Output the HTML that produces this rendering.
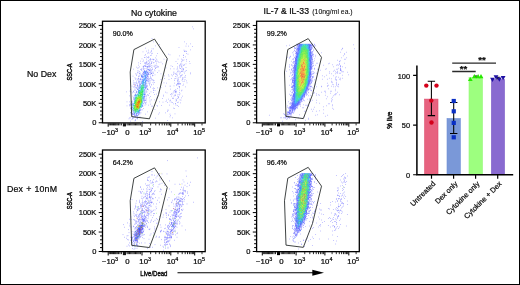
<!DOCTYPE html>
<html><head><meta charset="utf-8"><title>Figure</title>
<style>html,body{margin:0;padding:0;background:#fff}svg{display:block}</style></head>
<body>
<svg width="520" height="285" viewBox="0 0 520 285" font-family='"Liberation Sans", Arial, Helvetica, sans-serif' fill="#0a0a0a"><style>text{stroke:#0a0a0a;stroke-width:.22px}</style>
<rect x="0" y="0" width="520" height="285" fill="#fff"/>
<g>
<g fill="none" stroke-width="0.52"><path d="M193.41 28.8333h0.52M151.74 38.5h0.52M153.07 41.8333h0.52M186.41 43.8333h0.52M159.41 44.5h0.52M155.41 45.8333h0.52M185.74 46.1667h0.52M188.41 46.1667h0.52M192.41 46.5h0.52M178.74 47.5h0.52M159.74 47.8333h0.52M145.41 48.1667h0.52M151.74 48.8333h0.52M190.07 49.8333h0.52M148.07 50.1667h0.52M146.41 51.1667h0.52M157.07 53.5h0.52M186.07 53.5h0.52M168.41 54.1667h0.52M187.74 54.1667h0.52M145.41 54.5h0.52M151.41 55.1667h0.52M156.07 55.8333h0.52M179.07 55.8333h0.52M185.41 56.8333h0.52M183.41 57.5h0.52M155.41 57.8333h0.52M177.74 59.1667h0.52M186.41 59.5h0.52M143.41 60.1667h0.52M167.41 60.1667h0.52M142.74 61.5h0.52M175.74 61.5h0.52M160.74 62.1667h0.52M158.74 62.5h0.52M140.07 63.5h0.52M177.41 63.5h0.52M172.07 66.5h0.52M136.07 67.1667h0.52M185.74 67.5h0.52M165.74 67.8333h0.52M170.41 68.8333h0.52M173.74 68.8333h0.52M133.07 69.1667h0.52M158.74 70.8333h0.52M185.41 71.1667h0.52M157.41 72.5h0.52M190.41 72.8333h0.52M184.41 73.1667h0.52M160.74 73.8333h0.52M164.41 75.8333h0.52M132.74 76.1667h0.52M168.74 76.1667h0.52M175.07 76.5h0.52M134.74 77.8333h0.52M164.07 78.5h0.52M171.07 78.5h0.52M160.74 79.5h0.52M168.74 79.5h0.52M133.41 80.8333h0.52M186.41 80.8333h0.52M182.74 81.5h0.52M152.74 82.5h0.52M186.74 82.8333h0.52M166.41 83.1667h0.52M174.41 83.1667h0.52M182.74 85.5h0.52M131.74 86.1667h0.52M165.41 86.1667h0.52M170.07 89.1667h0.52M179.41 90.1667h0.52M154.74 90.5h0.52M126.07 91.8333h0.52M158.07 92.1667h0.52M165.41 92.1667h0.52M153.07 92.5h0.52M149.41 93.5h0.52M156.07 94.1667h0.52M163.07 95.1667h0.52M129.41 95.8333h0.52M157.74 95.8333h0.52M162.07 98.5h0.52M154.07 99.8333h0.52M126.74 101.833h0.52M129.41 101.833h0.52M178.41 102.167h0.52M180.07 102.833h0.52M150.41 104.167h0.52M169.07 105.167h0.52M161.07 105.5h0.52M126.74 105.833h0.52M173.07 108.167h0.52M174.41 108.5h0.52M159.07 112.833h0.52M165.41 112.833h0.52M174.74 113.833h0.52M145.41 114.167h0.52M158.07 114.167h0.52M139.74 116.833h0.52M172.41 117.833h0.52M167.07 120.5h0.52M142.07 121.5h0.52" stroke="#3232ff"/><path d="M192.07 26.8333h0.52M184.07 41.8333h0.52M190.41 43.8333h0.52M153.07 48.8333h0.52M183.74 50.1667h0.52M151.07 50.5h0.52M184.41 51.1667h0.52M151.07 51.5h0.52M142.74 51.8333h0.52M148.07 52.1667h0.52M150.41 52.1667h0.52M147.07 53.1667h0.52M148.74 53.1667h0.52M151.74 53.1667h0.52M169.74 54.8333h0.52M183.41 55.1667h0.52M144.74 55.5h0.52M150.41 55.5h0.52M183.07 55.5h0.52M146.41 56.8333h0.52M148.74 57.1667h0.52M144.07 57.5h0.52M144.74 57.5h0.52M147.07 57.5h0.52M148.41 57.8333h0.52M141.74 58.8333h0.52M146.41 59.1667h0.52M163.74 59.1667h0.52M181.41 59.1667h0.52M150.74 59.5h0.52M183.74 59.8333h0.52M156.74 60.1667h0.52M150.07 60.8333h0.52M140.07 61.1667h0.52M186.41 61.1667h0.52M148.74 61.5h0.52M157.74 61.5h0.52M189.07 61.5h0.52M151.74 61.8333h0.52M156.07 61.8333h0.52M181.07 61.8333h0.52M149.41 62.5h0.52M153.74 62.5h0.52M138.07 62.8333h0.52M153.41 62.8333h0.52M151.41 63.1667h0.52M151.07 63.5h0.52M189.74 63.5h0.52M156.07 63.8333h0.52M162.41 63.8333h0.52M185.74 63.8333h0.52M150.07 64.1667h0.52M145.74 64.8333h0.52M183.74 64.8333h0.52M184.41 64.8333h0.52M138.41 65.1667h0.52M150.74 65.5h0.52M183.41 65.5h0.52M145.07 65.8333h0.52M151.74 65.8333h0.52M156.07 65.8333h0.52M170.74 65.8333h0.52M179.41 65.8333h0.52M153.74 66.1667h0.52M181.74 66.1667h0.52M139.41 66.8333h0.52M158.07 66.8333h0.52M177.41 66.8333h0.52M179.07 67.1667h0.52M151.07 67.5h0.52M138.41 67.8333h0.52M143.07 67.8333h0.52M137.41 68.1667h0.52M152.41 68.1667h0.52M177.41 68.1667h0.52M144.74 68.5h0.52M180.07 68.5h0.52M182.74 68.8333h0.52M143.41 69.1667h0.52M176.74 69.1667h0.52M140.41 69.5h0.52M141.41 69.5h0.52M151.74 69.8333h0.52M154.07 69.8333h0.52M181.07 69.8333h0.52M177.74 70.1667h0.52M137.74 70.5h0.52M141.07 70.5h0.52M182.74 70.5h0.52M186.07 70.5h0.52M154.74 70.8333h0.52M178.74 71.1667h0.52M139.41 71.5h0.52M177.07 71.5h0.52M181.07 71.5h0.52M152.74 71.8333h0.52M183.74 71.8333h0.52M173.41 72.1667h0.85M180.07 72.1667h0.52M137.07 72.5h0.52M138.74 72.8333h0.52M176.74 72.8333h0.52M140.07 73.1667h0.52M179.74 73.1667h0.52M153.07 73.5h0.52M173.74 73.5h0.52M135.07 73.8333h0.52M136.74 73.8333h0.52M175.74 73.8333h0.52M190.41 73.8333h0.52M179.07 74.1667h0.52M173.07 74.5h0.52M154.74 74.8333h0.52M168.41 74.8333h0.52M171.41 74.8333h0.52M182.41 74.8333h0.52M136.07 75.1667h0.85M177.41 75.1667h0.52M180.07 75.5h0.52M185.07 75.5h0.52M138.07 76.5h0.52M150.07 76.8333h0.52M150.07 77.1667h0.52M179.74 77.1667h0.52M184.07 77.1667h0.52M185.41 77.1667h0.52M178.07 77.8333h0.52M149.41 78.5h0.52M175.07 78.5h0.52M174.41 78.8333h0.52M135.41 79.1667h0.52M184.74 79.5h0.52M152.07 79.8333h0.52M178.41 79.8333h0.52M150.74 80.1667h0.52M181.74 80.1667h0.52M153.74 80.5h0.52M174.41 80.5h0.52M177.07 80.8333h0.52M136.07 81.1667h0.52M139.07 81.1667h0.52M178.07 81.1667h0.52M184.41 81.1667h0.52M179.41 81.8333h0.52M149.74 82.1667h0.52M154.41 82.5h0.52M133.41 82.8333h0.52M163.74 82.8333h0.52M149.74 83.1667h0.52M133.74 84.1667h0.52M149.07 84.1667h0.52M153.07 84.1667h0.52M183.41 84.1667h0.52M133.74 84.5h0.52M176.41 84.5h0.52M151.07 84.8333h0.85M149.41 85.1667h0.52M176.07 85.5h0.52M173.74 85.8333h0.52M169.74 86.1667h0.85M133.74 86.5h0.52M134.74 86.5h0.52M179.41 86.5h0.52M150.07 86.8333h0.52M185.07 86.8333h0.52M150.41 87.1667h0.52M179.41 87.1667h0.52M133.74 87.5h0.52M135.41 87.5h0.52M160.74 87.5h0.52M153.07 87.8333h0.52M157.07 87.8333h0.52M152.74 88.5h0.52M154.41 88.5h0.52M177.41 88.5h0.52M146.74 89.1667h0.52M130.41 89.5h0.52M148.41 89.8333h0.52M153.07 89.8333h0.52M175.41 89.8333h0.52M134.41 90.1667h0.52M175.74 90.1667h0.52M181.74 90.1667h0.52M153.07 90.5h0.52M174.07 90.5h0.52M146.07 90.8333h0.52M181.41 90.8333h0.52M129.74 91.1667h0.52M133.07 91.5h0.52M130.74 91.8333h0.52M150.74 91.8333h0.52M133.74 92.5h0.52M179.41 92.5h0.52M132.07 92.8333h0.52M166.74 92.8333h0.52M172.74 93.1667h0.52M171.07 93.5h0.52M179.74 93.8333h0.52M154.07 94.5h0.52M170.41 94.5h0.52M171.74 94.5h0.52M177.74 94.5h0.52M175.41 94.8333h0.52M179.07 94.8333h0.52M174.07 95.1667h0.52M148.41 95.5h0.52M175.41 95.5h0.52M146.41 95.8333h0.52M132.74 96.1667h0.52M163.07 96.1667h0.52M171.41 96.1667h0.52M173.74 96.1667h0.52M177.07 96.1667h0.52M182.41 96.1667h0.52M150.07 96.5h0.52M178.07 97.1667h0.52M149.41 97.8333h0.52M178.41 97.8333h0.52M181.41 97.8333h0.52M146.07 98.1667h0.52M156.07 98.1667h0.52M172.07 98.1667h0.52M173.07 98.1667h0.52M177.41 98.5h0.52M168.07 99.1667h0.52M151.07 99.8333h0.52M179.74 99.8333h0.52M149.74 100.167h0.52M166.41 100.167h0.52M170.41 100.167h0.52M180.74 100.167h0.52M169.74 100.5h0.52M176.41 100.5h0.52M165.74 101.5h0.52M131.41 101.833h0.52M149.74 101.833h0.52M159.41 101.833h0.52M169.74 101.833h0.52M146.07 102.167h0.52M162.74 102.167h0.52M171.41 102.167h0.52M167.41 102.5h0.52M172.41 102.5h0.52M177.07 102.5h0.52M175.41 103.5h0.52M173.07 103.833h0.52M175.07 103.833h0.52M145.74 104.167h0.52M129.41 104.833h0.52M130.07 105.167h0.52M144.74 105.167h0.52M148.41 105.167h0.52M175.74 105.167h0.52M156.74 105.5h0.52M177.07 105.5h0.52M129.41 105.833h0.52M151.07 106.167h0.52M152.41 106.167h0.52M157.41 106.167h0.52M178.07 106.5h0.52M143.07 108.5h0.52M154.74 109.5h0.52M167.41 110.167h0.52M168.07 110.167h0.52M167.07 111.5h0.52M147.07 111.833h0.52M130.41 112.5h0.52M130.74 112.833h0.52M140.74 112.833h0.52M169.74 114.167h0.52M170.07 115.5h0.52M131.74 116.5h0.52M169.74 116.833h0.52M133.74 117.167h0.52M129.41 117.833h0.52M130.41 117.833h0.52M132.41 117.833h0.52M155.41 118.167h0.52M136.74 118.5h0.52M128.74 118.833h0.52M137.41 118.833h0.52M131.74 119.5h0.52M135.07 119.5h0.52M135.41 120.5h0.52M134.74 120.833h0.52M130.41 121.167h0.52" stroke="#3132ff"/><path d="M185.41 51.1667h0.85M184.41 51.5h0.52M186.07 51.5h0.52M151.74 53.5h0.52M148.41 56.8333h0.52M150.07 58.5h0.52M152.74 59.1667h0.52M156.41 59.1667h0.52M150.07 59.5h0.52M152.74 59.5h0.52M153.41 59.8333h0.52M182.07 59.8333h0.52M148.41 60.5h0.52M182.74 60.5h0.52M155.41 60.8333h0.52M146.74 61.1667h0.52M155.41 61.1667h0.52M181.74 61.1667h0.52M146.41 61.8333h0.52M151.07 62.1667h0.52M145.74 62.5h0.52M144.41 62.8333h0.52M145.74 62.8333h0.52M146.74 62.8333h0.52M145.74 63.1667h0.52M144.74 63.5h0.52M145.74 63.8333h0.52M149.07 63.8333h0.52M180.74 63.8333h0.52M181.74 64.1667h0.52M147.07 64.5h0.52M179.74 64.8333h0.52M148.41 65.1667h0.52M154.74 65.1667h0.52M144.74 65.8333h0.52M155.07 65.8333h0.52M179.74 65.8333h0.52M181.07 65.8333h0.52M157.07 66.1667h0.52M143.07 66.5h0.52M145.74 66.5h0.52M150.07 66.5h0.52M142.74 66.8333h0.52M147.41 66.8333h0.85M154.07 66.8333h0.52M157.74 66.8333h0.52M181.41 66.8333h0.52M155.74 67.5h0.52M156.74 67.5h0.52M149.41 67.8333h0.52M181.74 67.8333h0.52M155.41 68.1667h0.52M155.07 68.5h0.52M179.74 68.5h0.52M141.41 68.8333h0.52M142.74 68.8333h0.52M146.41 68.8333h0.52M150.07 68.8333h0.52M183.41 68.8333h0.52M143.74 69.1667h0.52M182.74 69.1667h0.52M152.07 69.5h0.52M183.07 69.5h0.52M181.74 71.5h0.85M137.74 71.8333h0.52M178.74 71.8333h0.52M148.41 72.1667h0.52M150.07 72.1667h0.52M149.07 72.5h0.52M152.74 72.5h0.52M150.41 72.8333h0.52M139.07 73.5h0.52M151.07 73.5h0.52M139.07 73.8333h0.52M175.07 73.8333h0.52M149.74 74.1667h0.52M148.07 74.5h0.52M148.74 74.5h0.52M176.07 74.5h0.52M150.07 74.8333h0.52M141.41 75.1667h0.52M152.41 75.1667h0.52M181.07 75.1667h0.52M152.74 75.5h0.52M138.74 75.8333h0.52M152.41 75.8333h0.52M172.07 75.8333h0.52M181.07 75.8333h0.52M139.41 76.1667h0.52M141.07 76.1667h0.52M148.41 76.1667h0.52M176.74 76.1667h0.52M180.41 76.8333h0.52M182.74 77.5h0.52M138.41 78.1667h0.52M140.74 78.1667h0.52M151.41 78.1667h0.52M176.74 78.1667h0.52M182.41 78.1667h0.52M138.41 78.5h0.52M150.07 78.5h0.52M135.74 78.8333h0.52M182.74 78.8333h0.52M137.07 79.1667h0.52M138.07 79.1667h0.52M140.07 79.1667h0.52M151.07 79.1667h0.52M177.74 79.1667h0.52M148.41 79.5h0.52M182.41 79.5h0.52M149.41 79.8333h0.52M152.74 79.8333h0.52M177.41 80.1667h0.52M149.74 80.8333h0.52M153.07 80.8333h0.52M148.74 81.1667h0.52M141.07 81.5h0.52M138.74 81.8333h0.52M147.74 81.8333h0.52M148.41 81.8333h0.52M177.41 81.8333h0.52M134.41 82.8333h0.52M136.07 82.8333h0.52M136.41 83.1667h0.85M148.74 83.5h0.52M177.07 83.5h0.52M177.74 83.5h0.85M179.74 83.5h0.52M180.07 83.8333h0.52M137.41 84.1667h0.52M177.41 84.1667h0.52M178.41 84.1667h0.52M179.74 84.1667h0.52M135.41 84.5h0.52M177.74 84.8333h0.52M137.41 85.5h0.52M147.07 85.8333h0.52M147.07 86.1667h0.52M137.41 86.5h0.52M178.74 86.5h0.52M136.74 87.1667h0.52M136.41 87.5h0.52M146.41 87.5h0.52M179.07 87.8333h0.52M136.41 88.5h0.52M134.74 88.8333h0.52M147.41 89.5h0.52M135.41 90.1667h0.52M133.07 91.1667h0.52M145.07 91.1667h0.52M173.74 91.1667h0.52M175.07 91.5h1.19M146.74 91.8333h0.52M176.41 91.8333h0.52M136.41 92.1667h0.52M146.41 92.1667h0.52M173.74 92.1667h0.52M175.07 92.5h0.52M175.74 92.8333h0.52M135.41 93.1667h0.52M147.07 94.8333h0.52M147.74 94.8333h0.52M134.41 95.5h0.52M145.74 96.5h0.52M144.41 96.8333h0.52M178.41 96.8333h0.52M144.74 98.1667h0.52M172.74 98.5h0.52M175.74 99.1667h0.52M145.74 99.8333h0.52M176.41 99.8333h0.52M144.74 100.167h0.52M145.74 100.167h0.52M145.41 100.5h0.52M132.07 101.167h0.52M175.74 101.167h0.52M131.07 101.833h0.52M144.07 102.167h0.52M145.41 102.5h0.52M145.41 103.5h0.52M130.41 103.833h0.52M129.74 104.833h0.52M132.07 107.167h0.52M130.41 108.167h0.52M141.41 109.833h0.52M142.07 109.833h0.52M131.41 110.833h0.52M131.07 111.833h0.52M130.74 113.833h0.52M138.41 113.833h0.52M139.74 113.833h0.52M138.74 114.167h0.52M132.07 114.833h0.52M134.07 116.167h0.52M135.07 117.167h0.52M136.74 117.167h0.52M133.41 118.167h0.52M132.07 118.5h0.52" stroke="#2f33ff"/><path d="M153.74 59.5h0.52M149.41 59.8333h0.52M148.41 63.5h0.52M147.74 63.8333h0.52M180.41 64.1667h0.52M143.74 65.8333h0.52M144.41 65.8333h0.52M149.07 66.1667h0.52M145.07 66.5h0.52M147.07 66.5h0.52M147.74 66.5h0.52M149.07 66.5h0.52M143.41 66.8333h0.52M146.07 66.8333h0.52M148.41 66.8333h0.52M147.07 67.8333h0.85M147.74 69.1667h0.52M147.07 69.5h0.52M148.74 69.5h0.52M148.41 69.8333h0.52M151.07 70.1667h0.52M146.07 70.5h0.52M149.07 70.5h0.52M147.74 70.8333h0.52M149.41 70.8333h0.52M150.74 70.8333h0.52M142.74 71.1667h0.52M146.41 71.5h0.52M150.74 71.5h0.52M151.41 72.8333h0.52M142.74 73.1667h0.52M151.41 73.5h0.85M142.07 73.8333h0.52M150.74 73.8333h0.52M140.41 74.8333h0.52M147.41 74.8333h0.52M147.41 75.1667h0.52M146.74 75.5h0.52M147.07 76.1667h0.52M147.41 76.5h0.52M146.74 76.8333h0.52M148.07 77.8333h0.52M139.41 79.1667h0.52M140.07 79.5h0.52M142.07 79.5h0.52M141.41 79.8333h0.52M147.41 79.8333h0.52M137.74 80.1667h0.52M146.74 80.1667h0.52M147.74 80.5h0.52M142.07 80.8333h0.52M147.74 80.8333h0.52M138.41 81.1667h0.85M143.41 81.1667h0.52M138.74 82.1667h0.52M141.07 82.1667h0.52M146.41 82.1667h0.52M135.41 82.8333h0.52M138.41 82.8333h0.52M178.41 82.8333h0.52M139.41 83.8333h0.85M145.74 83.8333h0.52M146.74 83.8333h0.52M179.07 83.8333h0.52M139.07 84.1667h0.52M145.74 84.1667h0.52M136.74 85.1667h0.52M135.07 85.5h0.52M137.07 85.5h0.52M138.74 85.8333h0.52M145.74 86.1667h0.52M146.41 86.5h0.52M138.74 86.8333h0.52M145.07 87.1667h0.52M145.74 87.5h0.52M137.41 88.1667h0.52M138.41 88.1667h0.85M146.74 88.1667h0.52M137.74 88.8333h0.52M147.07 88.8333h0.52M147.41 89.1667h0.52M137.07 89.5h0.52M144.41 89.8333h0.52M136.07 91.1667h0.52M136.07 92.1667h0.52M136.74 92.5h0.52M145.07 92.8333h0.52M145.41 94.5h0.52M144.07 96.5h0.52M133.41 97.5h0.52M144.41 97.8333h0.52M133.74 98.5h0.52M133.74 99.5h0.52M144.07 101.167h0.52M131.74 102.167h0.52M143.74 102.833h0.52M143.07 103.5h0.52M139.41 106.833h0.52M131.74 108.167h0.52M131.07 108.5h0.52M130.74 108.833h0.52M140.41 110.5h0.52M132.07 113.167h0.52M132.41 113.5h0.52M133.74 113.5h0.52M132.41 114.167h0.52M136.41 114.167h0.52M138.41 114.5h0.52M132.41 114.833h0.52M138.07 115.167h0.52M134.07 115.5h0.52M134.74 115.5h0.52M137.07 115.5h0.52M135.41 116.833h0.52M137.07 116.833h0.52M133.74 117.5h0.52M137.41 118.167h0.52" stroke="#2c34ff"/><path d="M149.07 65.1667h0.52M149.07 69.8333h0.52M150.41 69.8333h0.52M144.07 70.5h0.52M149.74 70.5h0.52M146.74 71.5h0.52M143.74 71.8333h0.52M143.41 72.5h0.52M145.74 72.5h0.85M147.74 72.8333h0.52M143.07 73.1667h0.52M145.07 73.1667h0.52M145.74 73.1667h0.52M145.07 73.5h0.52M146.41 73.5h0.52M144.41 73.8333h0.52M143.41 74.1667h0.52M148.07 74.1667h0.52M143.41 74.5h0.52M146.41 74.5h0.52M147.41 74.5h0.52M141.74 74.8333h0.52M141.74 75.5h0.52M141.74 76.1667h1.19M143.41 76.1667h0.52M141.41 76.5h0.52M147.74 76.8333h0.52M141.07 77.1667h0.52M146.41 77.5h0.52M142.07 77.8333h0.52M147.41 78.1667h0.52M147.07 78.5h0.52M140.07 78.8333h0.52M148.07 78.8333h0.52M140.74 79.8333h0.52M142.07 79.8333h0.52M146.07 80.5h0.52M140.41 81.1667h0.52M146.74 81.1667h0.52M142.07 82.1667h0.52M143.41 82.1667h0.52M139.74 82.5h0.52M141.07 82.8333h0.52M145.07 82.8333h0.85M141.41 83.1667h0.52M140.07 83.8333h0.52M139.74 84.5h0.52M145.41 85.1667h0.52M139.07 85.5h0.52M145.41 85.5h0.52M138.74 87.1667h0.52M145.07 88.5h0.52M137.41 89.5h0.52M143.74 89.5h0.52M144.74 89.8333h0.52M136.07 91.8333h0.52M144.41 91.8333h0.52M144.41 92.5h0.52M144.41 94.1667h0.52M135.41 94.5h0.52M134.74 94.8333h0.85M144.74 94.8333h0.52M144.74 95.8333h0.52M144.41 96.1667h0.52M143.74 96.5h0.52M143.74 97.8333h0.52M144.07 99.8333h0.52M142.41 102.167h0.52M132.41 103.167h0.52M142.74 104.167h0.52M131.41 104.5h0.85M131.74 104.833h0.52M142.41 105.833h0.52M142.74 106.167h0.52M142.41 106.5h0.52M139.41 110.5h0.85M139.41 111.167h0.52M139.74 112.167h0.52M133.07 112.833h0.52M139.07 112.833h0.52M133.74 113.167h0.52M134.07 114.167h0.52M133.41 114.5h0.52M134.41 114.5h0.52M135.07 114.833h0.52M136.07 114.833h0.85M137.41 115.167h0.52M136.41 115.5h0.52M135.74 115.833h0.52" stroke="#2835ff"/><path d="M144.41 70.8333h0.52M146.07 71.1667h0.52M144.07 71.5h0.85M145.07 71.5h0.52M144.74 71.8333h0.52M145.74 71.8333h0.52M143.74 72.1667h0.52M147.07 72.1667h0.52M143.74 72.5h0.52M145.07 72.5h0.52M147.07 73.1667h0.52M148.07 73.5h0.52M148.07 73.8333h0.52M142.74 74.1667h0.52M146.74 75.1667h0.52M142.74 76.1667h0.52M145.07 76.1667h0.52M141.07 76.5h0.52M144.74 76.5h0.85M142.07 77.5h0.52M145.07 77.5h0.52M146.07 77.5h0.52M145.41 77.8333h0.52M145.41 78.1667h0.52M146.07 78.5h0.52M144.41 79.1667h0.52M146.41 79.5h0.52M146.41 80.5h0.52M145.74 80.8333h0.52M145.41 81.5h0.52M143.74 82.5h0.52M143.07 83.1667h0.52M145.74 83.5h0.52M143.41 83.8333h0.52M144.74 84.1667h0.52M140.07 84.5h0.52M146.41 85.5h0.52M143.74 85.8333h0.52M139.41 86.1667h0.52M146.07 86.1667h0.52M145.41 86.5h0.52M139.74 86.8333h0.52M144.41 86.8333h0.52M145.41 87.8333h0.52M139.74 88.5h0.52M145.07 88.8333h0.52M138.07 89.8333h0.52M138.07 91.5h0.52M144.74 93.5h0.52M135.41 94.8333h0.52M143.74 94.8333h0.52M135.41 95.8333h0.52M134.74 96.5h0.52M134.74 97.1667h0.52M143.41 97.5h0.52M143.74 98.1667h0.52M133.74 98.8333h0.52M133.74 99.1667h0.52M143.74 99.1667h0.52M143.41 99.5h0.52M134.07 99.8333h0.52M143.07 100.5h0.52M144.41 100.5h0.52M132.41 103.833h0.52M142.41 105.5h0.52M132.41 106.833h0.52M141.07 107.5h0.52M131.07 107.833h0.52M131.74 107.833h0.52M140.41 109.167h0.52M132.41 109.5h0.52M132.41 111.167h0.52M139.07 111.833h0.52M133.41 112.167h0.52M138.74 112.167h0.52M136.07 113.5h0.52M136.74 113.5h0.52M134.41 113.833h0.52M133.07 114.5h0.52M135.74 116.167h0.52" stroke="#2337ff"/><path d="M148.07 69.5h0.52M145.07 71.1667h0.52M144.41 72.1667h0.52M147.41 72.5h0.52M144.41 72.8333h0.52M145.07 72.8333h0.52M146.74 73.1667h0.52M144.07 73.5h0.52M144.74 74.5h0.52M146.07 74.5h0.52M144.74 75.1667h0.52M145.74 75.1667h0.52M145.07 75.8333h0.52M146.07 76.1667h0.52M142.07 76.5h0.52M143.74 76.8333h0.52M145.07 76.8333h0.52M142.74 77.5h0.52M143.74 77.8333h0.52M145.41 78.8333h0.85M143.41 80.1667h0.52M145.07 80.1667h0.52M142.74 80.5h0.52M144.74 80.5h0.52M143.07 81.8333h0.52M145.07 81.8333h0.85M145.07 82.1667h0.52M144.07 82.5h0.52M144.41 82.8333h0.52M141.07 83.5h0.52M143.07 84.5h0.52M145.07 84.5h0.52M144.41 85.1667h0.52M141.07 85.8333h0.52M138.74 87.8333h0.52M140.41 87.8333h0.52M144.07 87.8333h0.52M140.74 89.5h0.52M138.07 90.5h0.52M139.41 90.5h0.52M137.74 91.5h0.52M139.07 91.5h0.52M138.41 91.8333h0.52M138.41 93.1667h0.52M137.74 93.8333h0.52M136.74 94.1667h0.52M137.41 94.1667h0.52M143.07 94.1667h0.52M144.07 94.5h0.52M144.41 94.8333h0.52M142.07 95.8333h0.85M143.41 96.8333h0.52M134.07 98.1667h0.52M136.41 98.5h0.52M134.07 100.167h0.52M142.74 100.5h0.52M134.07 100.833h0.52M133.74 101.167h0.52M143.41 101.167h0.52M138.07 101.833h0.52M132.74 103.833h1.19M132.41 105.5h0.85M140.74 107.5h0.52M140.07 109.167h0.52M132.41 109.833h0.52M139.74 109.833h0.52M133.07 110.167h0.52M138.74 110.167h0.85M133.41 110.5h0.52M139.07 110.5h0.52M133.41 111.5h0.52M136.07 111.833h0.52M136.74 111.833h0.52M137.41 111.833h0.52M138.41 112.5h0.52M134.41 112.833h0.52M134.41 113.167h0.52M136.41 113.167h1.19M137.74 113.167h0.85M136.07 114.167h0.52M136.74 115.5h0.52" stroke="#1657ff"/><path d="M147.07 72.8333h0.52M145.41 73.8333h0.52M144.41 74.8333h0.52M145.07 75.1667h0.52M144.74 75.5h0.52M144.07 75.8333h0.52M143.74 76.1667h0.52M144.41 76.1667h0.52M142.74 76.8333h0.52M144.74 77.5h0.52M143.41 78.1667h0.52M144.07 78.5h0.52M143.74 78.8333h0.52M144.74 78.8333h0.85M142.74 79.1667h0.52M144.07 79.1667h0.52M143.41 79.5h0.52M144.07 79.5h0.52M145.07 79.5h0.52M144.07 79.8333h0.52M143.74 80.1667h0.52M143.41 80.5h0.85M143.07 80.8333h0.52M142.07 81.1667h0.52M144.07 81.1667h0.52M143.41 81.5h0.52M142.07 82.5h0.52M143.74 83.1667h0.52M145.07 83.1667h0.52M142.07 83.5h0.52M142.07 83.8333h0.52M142.74 83.8333h0.85M142.41 84.1667h0.52M144.07 84.5h0.52M140.41 85.1667h0.52M143.74 85.5h0.52M140.07 86.1667h0.52M140.74 86.8333h0.52M145.41 87.5h0.52M139.41 87.8333h0.52M140.74 87.8333h0.52M142.41 87.8333h0.52M141.07 88.8333h0.52M138.41 89.8333h0.52M138.74 90.1667h0.52M138.74 90.5h0.85M144.07 90.5h0.52M138.41 90.8333h0.52M138.07 91.8333h0.52M144.07 91.8333h0.52M138.74 92.5h0.52M142.74 92.5h0.52M142.74 93.5h0.52M144.41 93.8333h0.52M138.41 94.1667h0.52M143.74 94.1667h0.52M136.41 95.1667h0.52M135.41 95.5h0.52M136.41 95.5h0.85M141.74 95.8333h0.52M134.74 97.5h0.52M140.07 98.5h0.52M142.07 99.1667h0.52M141.41 99.5h0.52M135.07 100.5h0.52M134.07 101.5h0.52M142.07 101.5h0.52M133.74 102.833h0.52M142.41 102.833h0.52M133.74 103.5h0.52M142.07 104.167h0.52M132.74 104.5h0.52M133.41 104.833h0.52M141.07 105.167h0.85M142.07 105.167h0.52M141.07 105.833h0.52M141.74 106.167h0.52M133.07 108.5h0.52M133.41 108.833h0.52M134.07 109.167h0.52M137.74 109.167h0.52M134.41 110.5h0.52M137.74 110.833h0.52M138.41 111.167h0.52M134.07 111.5h0.52M138.07 112.167h0.52M139.07 113.167h0.52" stroke="#067eff"/><path d="M141.41 75.5h0.52M145.41 75.8333h0.52M145.74 76.8333h0.52M145.41 78.5h0.52M143.07 79.8333h0.52M145.07 80.8333h0.52M142.41 81.1667h0.52M145.41 81.1667h0.52M142.41 81.5h0.52M145.07 81.5h0.52M142.07 81.8333h0.52M142.74 82.1667h0.52M142.41 83.8333h0.52M144.74 83.8333h0.52M140.74 85.5h0.52M141.74 85.8333h0.52M144.07 86.1667h0.52M140.07 86.5h0.52M144.41 87.1667h0.52M140.41 87.5h0.52M143.74 87.5h0.52M144.74 87.8333h0.52M139.07 88.5h0.52M141.41 88.8333h0.52M143.07 88.8333h0.52M143.74 88.8333h0.52M141.07 89.1667h0.52M139.41 89.8333h0.52M140.07 90.5h0.52M139.07 90.8333h0.52M140.07 90.8333h0.85M143.74 91.1667h0.52M139.74 92.1667h0.52M138.07 92.8333h0.52M143.41 93.8333h0.52M139.07 94.1667h0.52M143.41 94.1667h0.52M137.74 94.5h0.52M140.41 94.8333h0.52M135.74 95.1667h0.52M138.74 95.1667h0.52M140.07 95.1667h0.52M134.74 95.5h0.52M143.07 95.8333h0.52M136.07 96.1667h0.52M142.41 96.1667h0.52M143.41 96.5h0.52M135.07 96.8333h0.52M142.41 97.5h0.52M142.74 97.8333h0.52M135.41 98.1667h0.52M142.41 98.1667h0.52M143.07 98.1667h0.52M143.41 98.5h0.52M134.74 98.8333h0.52M135.74 98.8333h0.52M142.74 98.8333h0.52M143.41 99.1667h0.52M141.74 99.8333h0.52M142.41 99.8333h0.52M141.74 101.167h0.52M141.41 103.5h0.52M141.07 104.167h0.52M141.41 104.833h0.52M132.74 105.167h0.52M133.41 105.167h0.52M134.07 105.5h0.52M141.74 105.833h0.52M133.74 106.833h0.52M140.74 106.833h0.52M132.41 107.5h0.52M132.41 108.833h0.52M139.41 109.167h0.52M133.41 109.5h0.52M138.74 109.5h0.52M139.07 109.833h0.52M136.41 110.167h0.52M132.74 110.5h0.52M135.07 110.5h0.52M133.07 110.833h0.85M134.07 110.833h0.52M135.07 111.167h0.52M135.74 111.833h0.52M138.07 111.833h0.52M138.74 111.833h0.52M135.07 112.167h0.52M137.07 112.167h1.19M134.07 113.167h0.52M135.41 113.167h0.52" stroke="#00a6f4"/><path d="M145.07 71.8333h0.52M145.07 72.1667h0.52M146.07 75.1667h0.52M142.74 82.5h0.52M142.07 82.8333h0.52M143.07 82.8333h0.52M142.07 84.5h0.52M141.74 84.8333h0.52M143.74 84.8333h0.52M142.07 85.1667h0.52M144.07 85.5h0.52M143.07 85.8333h0.52M143.07 86.1667h0.52M142.74 86.5h0.52M141.07 86.8333h0.52M142.41 86.8333h0.52M140.74 87.1667h0.52M142.74 88.1667h0.52M142.07 89.1667h0.52M143.74 89.1667h0.52M142.74 89.5h0.52M143.41 89.8333h0.52M139.74 90.1667h0.52M141.07 90.1667h0.52M141.07 90.8333h0.52M142.74 90.8333h0.52M143.07 91.1667h0.52M143.07 91.8333h0.52M138.41 92.5h0.52M142.41 92.5h0.52M138.74 92.8333h0.52M142.07 92.8333h0.52M140.41 93.1667h0.52M140.74 94.1667h0.52M140.74 94.5h0.52M142.74 94.5h0.52M137.07 94.8333h0.52M138.74 94.8333h0.52M138.07 95.8333h0.52M139.74 95.8333h0.52M140.07 96.1667h0.52M139.41 96.5h0.52M142.41 96.5h0.52M136.74 96.8333h0.85M141.07 96.8333h0.52M136.74 97.1667h0.52M135.07 97.8333h0.52M142.07 98.8333h0.52M134.41 101.167h0.52M134.41 101.5h0.52M134.41 102.5h0.52M142.07 102.5h0.52M141.74 102.833h0.52M139.41 103.167h0.52M134.41 103.5h0.52M141.07 103.5h0.52M142.07 103.5h0.52M134.41 103.833h0.85M140.74 103.833h0.52M141.07 104.5h0.52M134.07 104.833h0.52M133.41 105.833h0.52M141.41 107.167h0.52M133.41 107.5h0.85M133.41 107.833h0.52M133.41 108.167h0.52M139.74 108.167h0.52M135.41 109.833h0.52M137.07 109.833h0.52M135.07 110.167h0.52M134.41 110.833h0.52M137.07 110.833h0.52M137.74 111.167h0.52M137.41 111.5h0.85M136.07 112.167h0.52M135.07 112.833h0.52" stroke="#00d2e3"/><path d="M143.41 82.5h0.52M144.74 83.1667h0.52M142.74 84.8333h0.52M140.74 85.1667h0.85M141.41 85.5h0.52M142.74 85.8333h0.52M142.74 86.1667h0.52M142.41 87.1667h0.52M143.74 87.1667h0.52M139.74 87.5h0.52M142.07 87.5h0.52M143.41 87.5h0.52M141.07 87.8333h0.52M140.41 88.1667h0.52M142.07 88.1667h0.52M143.41 88.1667h0.52M143.41 88.8333h0.52M140.41 89.1667h0.52M141.41 89.1667h0.52M142.41 89.5h0.52M140.74 90.5h0.52M143.74 90.5h0.52M139.74 90.8333h0.52M141.74 90.8333h0.52M142.41 91.5h0.52M140.41 91.8333h0.52M141.41 91.8333h0.52M142.07 91.8333h0.52M138.07 92.5h0.52M139.07 92.5h0.52M139.41 92.8333h0.52M140.41 92.8333h0.52M142.41 92.8333h0.52M139.41 93.5h0.52M142.41 94.1667h0.52M142.41 94.5h0.52M137.41 94.8333h0.52M142.41 94.8333h0.52M136.07 95.1667h0.52M138.07 95.1667h0.52M139.74 95.5h0.52M136.74 95.8333h0.52M141.74 96.1667h0.52M136.07 96.5h0.52M137.07 96.5h0.52M142.07 96.8333h0.52M135.41 97.5h0.85M139.41 97.5h0.52M140.41 97.5h0.52M135.41 97.8333h0.52M141.74 97.8333h0.52M136.41 98.1667h0.52M142.07 98.1667h0.52M142.74 98.1667h0.52M141.41 98.5h0.52M135.41 98.8333h0.52M135.41 99.5h0.52M135.41 100.5h0.52M135.41 101.167h0.52M141.74 101.833h0.85M135.07 102.5h0.52M141.41 102.5h0.52M134.74 103.5h0.52M140.07 104.167h0.52M140.74 104.5h0.52M133.74 105.5h0.52M134.07 105.833h0.52M132.74 106.167h0.52M140.07 106.167h0.52M140.41 106.5h0.52M141.41 106.5h0.52M134.07 107.167h0.52M139.07 107.833h0.52M134.07 109.5h0.52M137.07 109.5h0.52M135.41 110.5h0.52M138.74 110.5h0.52M135.07 111.833h0.52" stroke="#00dbaa"/><path d="M143.07 84.8333h0.52M141.74 86.1667h0.52M142.74 86.8333h0.52M143.41 87.1667h0.52M142.74 87.8333h0.52M141.74 88.1667h0.52M143.07 88.1667h0.52M141.07 88.5h0.52M142.07 88.5h0.52M142.07 88.8333h0.52M141.74 89.8333h0.52M141.41 90.1667h0.52M142.07 90.1667h0.52M142.74 90.5h0.52M143.41 90.8333h0.52M142.07 91.5h0.52M142.74 92.1667h0.52M139.41 92.5h0.85M141.74 93.1667h0.52M142.41 93.1667h0.52M138.74 93.5h0.52M142.07 93.5h0.52M138.74 93.8333h0.52M139.74 93.8333h0.52M140.41 93.8333h0.85M141.07 94.1667h0.52M141.07 94.5h0.52M142.07 94.8333h0.52M140.07 95.8333h0.52M141.41 95.8333h0.52M138.07 96.1667h0.52M136.41 97.1667h0.52M135.74 97.8333h0.52M138.41 97.8333h0.52M140.07 98.8333h0.52M135.74 99.1667h0.52M135.07 99.8333h0.52M141.41 100.167h0.52M136.74 100.833h0.52M134.74 101.5h0.52M135.07 101.833h0.52M134.07 102.833h0.52M134.41 105.5h0.52M140.41 105.833h0.52M139.41 106.167h0.52M140.41 106.167h0.85M139.41 106.5h0.52M140.07 106.5h0.52M140.07 107.167h0.52M139.07 108.167h0.52M133.41 108.5h0.52M134.07 108.5h0.52M136.07 108.833h0.52M133.74 109.167h0.52M137.41 109.167h0.52M135.41 109.5h0.52M137.74 109.833h0.52M135.74 110.5h0.52M137.41 111.167h0.52M135.41 112.167h0.52" stroke="#00df68"/><path d="M142.41 85.5h0.52M141.07 86.5h0.52M141.41 88.5h0.52M140.74 89.1667h0.52M141.74 89.5h0.52M140.41 89.8333h0.52M141.41 90.5h0.52M139.41 91.1667h0.52M142.74 91.1667h0.52M140.07 91.5h0.52M140.74 91.5h0.52M141.74 91.5h0.52M139.07 91.8333h0.52M140.74 91.8333h0.85M141.74 91.8333h0.52M138.74 92.1667h0.52M140.41 92.1667h0.52M141.07 92.5h0.52M141.07 92.8333h0.85M139.07 93.1667h0.52M138.07 94.8333h0.52M139.74 94.8333h0.52M141.41 94.8333h0.85M141.07 95.1667h0.52M138.07 95.5h0.52M139.07 95.5h0.52M142.07 95.5h0.52M141.41 96.1667h0.52M141.41 96.5h0.52M139.07 97.1667h0.52M141.07 97.1667h0.52M141.74 97.5h0.52M140.41 97.8333h0.52M138.07 98.1667h0.52M135.07 98.5h0.52M140.74 98.5h0.52M141.07 99.8333h0.52M135.41 100.167h0.52M136.07 100.167h0.52M136.41 100.5h0.52M140.74 100.5h0.85M136.41 100.833h0.52M142.07 100.833h0.52M141.07 101.167h0.52M134.74 102.5h0.52M135.41 102.5h0.52M141.07 102.5h0.52M134.41 102.833h0.52M135.07 102.833h0.52M141.41 102.833h0.52M140.74 103.5h0.52M135.07 103.833h0.52M140.41 104.167h0.52M140.07 105.167h0.52M135.07 105.5h0.52M135.07 105.833h0.52M133.74 106.5h0.52M139.41 107.167h0.52M138.74 108.167h0.52M139.41 108.167h0.52M133.74 108.5h0.52M134.07 108.833h0.52M135.74 109.167h0.52M137.74 110.5h0.52M138.07 110.833h0.52M135.74 111.5h0.85M138.41 111.5h0.52M134.74 112.833h0.52" stroke="#07e242"/><path d="M142.07 87.1667h0.52M141.07 87.5h0.52M142.74 87.5h0.52M142.07 90.8333h0.85M142.41 91.8333h0.52M143.41 92.1667h0.52M140.74 92.5h0.52M139.07 92.8333h0.52M140.07 93.1667h0.52M139.74 93.5h0.52M140.07 94.1667h0.52M140.07 94.8333h0.52M138.41 95.1667h0.52M139.41 95.1667h0.52M138.41 96.1667h0.52M139.07 96.1667h0.52M138.07 96.8333h0.52M136.41 97.8333h0.52M141.07 98.1667h0.52M141.41 99.1667h0.52M136.74 99.5h0.52M141.41 99.8333h0.52M135.74 100.833h0.52M135.07 101.167h0.52M141.41 101.167h0.52M140.74 101.5h0.52M141.41 101.833h0.52M135.41 102.833h0.52M139.07 103.167h0.52M140.41 103.5h0.52M135.07 106.5h0.52M136.41 106.833h0.52M140.41 106.833h0.52M133.74 107.167h0.52M139.07 107.167h0.52M139.74 107.167h0.52M139.07 107.5h0.52M138.74 108.5h0.52M137.07 108.833h0.52M135.74 109.5h0.52M137.41 109.5h0.52M136.74 110.167h0.52M135.74 111.167h0.52" stroke="#14e339"/><path d="M141.41 87.8333h0.52M141.41 91.1667h0.52M142.07 91.1667h0.52M140.07 92.1667h0.52M141.41 92.1667h0.52M142.07 92.1667h0.52M141.74 92.5h0.52M140.74 93.1667h0.52M139.07 93.8333h0.52M141.41 94.1667h0.52M141.41 94.5h1.19M137.41 95.1667h0.52M140.07 95.5h0.52M140.41 96.1667h0.52M140.07 97.1667h0.52M137.74 97.5h0.52M139.07 97.5h0.52M139.74 97.5h0.52M136.74 97.8333h0.52M138.07 97.8333h0.52M135.74 98.5h0.52M141.41 98.8333h0.52M136.41 99.8333h0.52M141.74 100.167h0.52M135.41 100.833h0.52M141.41 100.833h0.52M134.74 101.167h0.52M140.74 101.167h0.52M135.41 101.5h0.52M135.74 101.833h0.52M135.74 102.833h0.52M134.07 103.5h0.52M140.07 104.833h0.52M134.41 105.167h0.52M135.41 105.167h0.52M133.41 105.5h0.52M140.07 105.5h0.52M133.74 106.167h0.85M135.07 106.833h0.52M137.74 106.833h0.52M139.07 106.833h0.52M136.07 107.167h0.52M134.07 107.5h0.52M136.41 108.167h0.52M135.07 109.167h0.52M136.07 109.5h0.52M135.07 109.833h0.52M134.74 110.5h0.52M134.74 111.167h0.52" stroke="#22e530"/><path d="M142.74 85.5h0.52M141.74 86.8333h0.52M143.07 87.1667h0.52M141.41 89.5h0.52M142.41 90.1667h0.52M141.74 93.5h0.52M140.41 94.5h0.52M140.74 94.8333h0.52M141.74 95.1667h0.52M137.74 95.8333h0.52M138.41 95.8333h0.85M140.74 96.1667h0.52M138.74 96.5h0.52M140.41 96.5h0.52M137.07 98.1667h0.52M137.41 98.8333h0.52M138.41 99.1667h0.52M140.41 99.1667h0.52M139.41 99.5h0.52M135.74 99.8333h0.85M140.74 100.167h0.52M141.41 100.5h0.52M137.07 100.833h0.52M136.41 101.167h0.52M136.07 101.5h0.52M138.74 101.5h0.52M140.74 101.833h0.52M136.41 102.167h0.52M134.74 103.167h0.85M139.74 103.5h0.52M139.74 103.833h0.52M140.74 104.167h0.52M140.07 104.5h0.52M134.74 105.167h0.52M135.74 105.5h0.52M139.41 105.5h0.52M135.07 106.167h0.52M135.07 107.5h0.52M135.74 107.5h0.52M137.07 107.5h0.52M134.07 108.167h0.52M134.41 109.5h0.52M135.07 109.5h0.52M134.41 109.833h0.52M137.74 110.167h0.52M136.41 110.833h0.52M134.74 112.167h0.52" stroke="#32e726"/><path d="M142.41 88.8333h0.52M140.74 95.5h0.52M138.07 96.5h0.52M136.07 97.5h0.52M137.41 97.8333h0.52M139.74 97.8333h0.85M141.07 97.8333h0.52M136.74 98.5h0.52M140.74 99.1667h0.52M139.41 100.167h0.52M135.74 102.167h0.85M140.74 102.5h0.52M135.74 103.167h0.52M136.41 103.833h0.52M138.74 103.833h0.52M135.74 104.167h0.52M139.74 104.167h0.52M134.07 106.5h0.52M134.41 107.5h0.52M136.07 107.5h0.52M137.74 107.5h0.52M134.74 107.833h0.52M137.07 108.167h0.52M135.41 108.5h0.52M136.41 108.5h0.52M135.74 108.833h0.52M138.41 108.833h0.52M136.07 109.167h0.52M136.74 109.167h0.52M135.74 109.833h0.52M136.07 110.167h0.52" stroke="#42e91c"/><path d="M141.74 94.1667h0.52M140.41 95.8333h0.52M139.07 96.8333h0.52M141.41 96.8333h0.52M137.74 97.8333h0.52M139.74 98.1667h0.52M137.41 98.5h0.52M137.07 98.8333h0.52M138.41 100.5h0.52M140.74 100.833h0.52M137.74 101.167h0.52M141.41 101.5h0.52M138.41 101.833h0.52M141.07 101.833h0.52M140.07 102.5h0.52M134.41 103.167h0.52M137.41 103.167h0.52M135.74 103.5h0.52M137.07 103.5h0.52M140.07 103.5h0.52M135.74 103.833h0.52M135.41 104.167h0.52M139.41 104.167h0.52M135.41 104.5h0.52M138.07 104.833h0.52M138.07 105.833h0.52M138.74 105.833h0.52M135.41 106.167h0.52M134.74 106.833h0.52M135.41 107.167h0.52M135.41 108.167h0.52M136.41 109.167h0.52M137.07 109.167h0.52M136.41 109.833h0.52M135.41 111.167h0.52" stroke="#53eb11"/><path d="M141.07 93.1667h0.52M140.07 93.5h0.52M140.07 96.8333h0.85M136.41 97.5h0.52M138.74 97.8333h0.52M140.74 97.8333h0.52M138.74 98.1667h0.52M137.07 98.5h0.52M138.74 98.5h0.52M136.74 98.8333h0.52M139.74 98.8333h0.52M138.74 99.1667h0.85M136.41 99.5h0.52M137.07 99.5h0.52M137.41 100.167h0.52M138.74 100.167h0.52M139.74 100.167h0.52M135.74 100.5h0.52M137.41 100.833h0.85M140.07 100.833h0.52M138.41 101.167h0.52M135.74 101.5h0.52M140.41 101.833h0.52M140.41 102.5h0.52M136.07 102.833h0.52M136.41 103.167h0.85M136.41 104.167h0.52M138.41 104.5h0.85M138.74 104.833h0.52M139.74 104.833h0.52M135.07 105.167h0.52M138.07 107.167h0.52M136.07 108.167h0.52M137.74 108.167h0.52M134.74 108.5h0.52M136.07 108.5h0.52M136.74 108.5h0.52M134.74 110.167h0.52" stroke="#66ed05"/><path d="M139.74 93.1667h0.52M140.74 96.8333h0.52M139.07 97.8333h0.52M137.74 98.8333h0.52M139.07 98.8333h0.52M140.07 99.1667h0.52M140.07 99.5h0.52M137.07 100.167h0.52M140.07 100.167h0.52M138.07 100.5h0.52M139.41 100.5h0.52M140.07 100.5h0.52M137.07 101.167h0.52M136.74 102.167h0.52M137.07 102.833h0.52M139.07 102.833h0.52M139.74 103.167h0.52M137.74 104.167h0.52M135.74 104.833h0.52M136.74 104.833h0.52M138.41 104.833h0.52M135.74 105.167h0.52M136.41 105.5h0.52M135.74 106.5h0.52M138.07 106.5h0.52M138.74 106.5h0.52M134.41 106.833h0.52M134.41 107.833h0.52M137.07 107.833h0.52" stroke="#79ef00"/><path d="M139.07 96.5h0.52M140.74 96.5h0.52M137.41 98.1667h0.52M140.07 98.1667h0.52M138.07 98.5h0.52M139.74 98.5h0.52M138.07 99.1667h0.52M140.41 99.5h0.52M138.07 100.167h0.52M139.74 100.5h0.52M138.41 100.833h0.52M139.41 101.167h0.52M140.41 101.167h0.52M139.41 101.5h0.52M136.41 101.833h0.52M141.41 102.167h0.52M138.07 102.5h0.52M136.41 103.5h0.52M135.07 104.167h0.52M139.07 104.5h0.52M139.07 105.833h0.52M139.74 105.833h0.52M136.41 107.167h0.52M136.41 107.5h0.52M135.74 108.167h0.52M137.41 108.167h0.52M134.74 109.167h0.52M134.41 110.167h0.52" stroke="#8ef100"/><path d="M141.07 93.8333h0.52M139.41 97.1667h0.52M139.41 98.8333h0.52M137.74 99.1667h0.52M139.74 99.1667h0.52M137.74 99.8333h0.52M136.74 100.167h0.52M138.41 100.167h0.52M141.07 100.833h0.52M138.41 101.5h0.52M139.41 101.833h0.52M137.07 102.167h0.52M139.41 102.167h0.52M139.74 102.833h0.52M138.74 103.167h0.52M139.07 103.5h0.52M136.07 103.833h0.52M137.74 103.833h0.52M139.07 104.167h0.52M135.07 104.5h0.52M136.41 104.5h0.52M138.74 105.167h0.52M136.41 106.167h0.52M137.74 106.167h0.85M135.41 106.5h0.52M136.07 106.5h0.52M134.41 107.167h0.52M137.41 107.5h0.52M136.41 107.833h0.52M138.07 107.833h0.85" stroke="#a4f300"/><path d="M138.41 96.8333h0.52M137.74 97.1667h0.52M137.41 97.5h0.52M138.07 97.5h0.85M137.74 98.5h0.52M139.07 98.5h0.52M140.41 98.5h0.52M138.41 98.8333h0.52M137.74 100.167h0.52M136.74 100.5h0.85M140.07 101.167h0.52M137.41 101.833h0.52M136.41 102.833h0.52M139.41 102.833h0.52M140.74 102.833h0.52M137.41 103.5h0.52M136.74 104.167h0.52M137.41 104.167h0.52M136.07 104.5h0.52M136.74 104.5h0.52M137.74 104.833h0.52M138.41 105.167h0.52M136.07 105.5h0.52M137.41 105.5h0.52M138.41 105.5h0.52M137.41 107.833h0.85M135.74 108.5h0.52M137.74 108.5h0.52M138.41 109.5h0.52M133.74 110.5h0.52" stroke="#bbf500"/><path d="M140.41 98.1667h0.52M137.07 99.8333h0.85M138.74 100.5h0.52M137.41 102.833h0.52M138.41 102.833h0.52M138.07 103.167h0.52M137.07 103.833h0.52M140.07 103.833h0.52M136.07 104.167h0.52M135.41 104.833h0.52M137.41 104.833h0.52M136.74 105.167h0.52M137.74 105.167h0.52M139.41 105.167h0.52M139.07 105.5h0.52M138.41 105.833h0.52M137.41 106.167h0.52M137.41 106.5h0.52M136.07 106.833h0.52M138.74 106.833h0.52M136.74 107.5h0.52M136.07 107.833h0.52M132.74 110.167h0.52" stroke="#d8f100"/><path d="M138.41 99.8333h0.52M137.41 100.5h0.52M136.74 101.5h0.52M137.74 101.833h0.52M139.07 101.833h0.52M140.07 101.833h0.52M137.41 102.167h1.19M137.07 102.5h0.52M139.74 102.5h0.52M138.41 103.833h0.52M136.07 105.167h0.52M138.07 105.167h0.52M139.07 105.167h0.52M136.74 105.5h0.52M137.74 105.5h0.52M138.41 106.5h0.52M138.07 106.833h0.52M135.74 107.167h0.52M137.41 107.167h0.52M138.07 107.5h0.52M135.74 107.833h0.52" stroke="#f6ec00"/><path d="M139.07 99.5h0.52M139.07 100.5h0.52M140.07 102.167h0.52M136.41 102.5h0.52M139.41 102.5h0.52M138.07 102.833h0.52M137.74 103.5h0.52M137.41 103.833h0.52M139.41 103.833h0.52M138.41 104.167h0.52M134.07 106.833h0.52" stroke="#ffd500"/><path d="M138.41 98.5h0.52M139.41 100.833h0.52M138.07 101.167h0.52M137.41 101.5h0.52M140.07 101.5h0.52M139.07 102.167h0.52M135.41 103.833h0.52M139.07 103.833h0.52M137.41 104.5h0.52M136.41 105.167h0.52M137.41 105.167h0.52M138.74 105.5h0.52M137.07 105.833h0.52M135.41 106.833h0.52M139.41 107.5h0.52M138.07 108.5h0.52" stroke="#ffb500"/><path d="M142.07 98.5h0.52M139.74 99.5h0.52M139.41 99.8333h0.52M139.74 101.5h0.52M137.74 102.5h0.52M138.74 103.5h0.52M138.07 103.833h0.52M138.07 104.5h0.52M137.07 104.833h0.52M137.07 105.167h0.52M136.74 106.167h0.52M138.74 106.167h0.52M138.41 107.167h0.52M138.74 107.5h0.52" stroke="#ff9300"/><path d="M137.74 101.5h0.52M138.74 102.167h0.52M136.74 102.5h0.52M139.07 102.5h0.52M136.74 102.833h0.52M139.07 104.833h0.52M136.07 106.167h0.52" stroke="#ff6b00"/><path d="M138.74 99.8333h0.52M139.74 100.833h0.52M138.74 101.167h0.52M139.74 101.167h0.52M138.41 102.167h0.52M137.74 103.167h0.52M138.41 103.167h0.52M137.07 104.5h0.52M138.07 105.5h0.52M136.41 105.833h0.52M137.74 105.833h0.52M138.41 106.167h0.52M136.74 106.833h0.52M137.07 107.167h0.52" stroke="#ff3f00"/><path d="M143.41 85.1667h0.52M139.74 99.8333h0.52M138.74 101.833h0.52M138.74 102.5h0.52" stroke="#fe1700"/><path d="M134.41 85.1667h0.52M138.74 100.833h0.52M138.07 101.5h0.52M139.07 101.5h0.52M139.74 102.167h0.52M137.41 102.5h0.52M138.74 102.833h0.52M138.07 103.5h0.52M136.74 103.833h0.52M137.74 104.5h0.52M135.07 104.833h0.52M136.41 104.833h0.52M137.07 106.167h0.52M136.74 106.5h0.85M137.41 106.833h0.52M137.74 107.167h0.52M136.74 107.833h0.52M138.41 108.167h0.52" stroke="#f50800"/></g>
<polygon points="154.5,39.1 133.9,49.6 130.2,72 131.7,116.6 149.4,118.8 158.5,94.7 167.25,58.6" fill="none" stroke="#1e2222" stroke-width="0.85" stroke-linejoin="round"/>
<rect x="102.5" y="21.25" width="102.7" height="101.65" fill="none" stroke="#000" stroke-width="1.3"/>
<path d="M98.7 25.45h3.3M100 29.342h2M100 33.234h2M100 37.126h2M100 41.018h2M98.7 44.91h3.3M100 48.802h2M100 52.694h2M100 56.586h2M100 60.478h2M98.7 64.37h3.3M100 68.262h2M100 72.154h2M100 76.046h2M100 79.938h2M98.7 83.83h3.3M100 87.722h2M100 91.614h2M100 95.506h2M100 99.398h2M98.7 103.29h3.3M100 107.182h2M100 111.074h2M100 114.966h2M100 118.858h2M98.7 122.75h3.3" stroke="#000" stroke-width="1" fill="none"/>
<text x="96.3" y="28.15" font-size="7.5" text-anchor="end">250K</text>
<text x="96.3" y="47.61" font-size="7.5" text-anchor="end">200K</text>
<text x="96.3" y="67.07" font-size="7.5" text-anchor="end">150K</text>
<text x="96.3" y="86.53" font-size="7.5" text-anchor="end">100K</text>
<text x="96.3" y="105.99" font-size="7.5" text-anchor="end">50K</text>
<text x="96.3" y="125.45" font-size="7.5" text-anchor="end">0</text>
<path d="M108.2 123.3v3.4M142 123.3v3.4M170.8 123.3v3.4M194.7 123.3v3.4M123.4 123.3v3.1M124.4 123.3v3.1M125.4 123.3v3.1" stroke="#000" stroke-width="1" fill="none"/>
<path d="M150.67 123.3v2.1M155.741 123.3v2.1M159.339 123.3v2.1M162.13 123.3v2.1M164.411 123.3v2.1M166.339 123.3v2.1M168.009 123.3v2.1M169.482 123.3v2.1M177.995 123.3v2.1M182.203 123.3v2.1M185.189 123.3v2.1M187.505 123.3v2.1M189.398 123.3v2.1M190.998 123.3v2.1M192.384 123.3v2.1M193.606 123.3v2.1M202 123.3v2.1M109.3 123.3v2.1M110.5 123.3v2.1M111.6 123.3v2.1M112.6 123.3v2.1M113.5 123.3v2.1M114.4 123.3v2.1M115.3 123.3v2.1M116.2 123.3v2.1M117.3 123.3v2.1M118.5 123.3v2.1M119.9 123.3v2.1M121.4 123.3v2.1M127.1 123.3v2.1M128.3 123.3v2.1M129.5 123.3v2.1M130.7 123.3v2.1M131.9 123.3v2.1M133.1 123.3v2.1M134.3 123.3v2.1M135.5 123.3v2.1M136.7 123.3v2.1M137.9 123.3v2.1M139.1 123.3v2.1M140.4 123.3v2.1" stroke="#000" stroke-width="0.85" fill="none"/>
<text transform="translate(110 134.9) scale(1.15 1)" font-size="6.8" text-anchor="middle">−10<tspan font-size="4.7" dy="-2.8">3</tspan></text>
<text transform="translate(127.3 134.9) scale(1.15 1)" font-size="6.8" text-anchor="middle">0</text>
<text transform="translate(145.2 134.9) scale(1.15 1)" font-size="6.8" text-anchor="middle">10<tspan font-size="4.7" dy="-2.8">3</tspan></text>
<text transform="translate(172.5 134.9) scale(1.15 1)" font-size="6.8" text-anchor="middle">10<tspan font-size="4.7" dy="-2.8">4</tspan></text>
<text transform="translate(199.1 134.9) scale(1.15 1)" font-size="6.8" text-anchor="middle">10<tspan font-size="4.7" dy="-2.8">5</tspan></text>
<text x="112.7" y="36.2" font-size="7.1">90.0%</text>
<text transform="translate(72.4 72) rotate(-90) scale(0.735 1)" font-size="7.6" text-anchor="middle" style="stroke-width:.42px">SSC-A</text>
</g>
<g>
<g fill="none" stroke-width="0.55"><path d="M197.39 157.917h0.55M167.06 160.583h0.55M185.72 170.917h0.55M151.73 171.583h0.55M159.06 173.583h0.55M161.73 173.917h0.55M166.72 173.917h0.55M158.06 174.25h0.55M151.06 174.917h0.55M152.06 174.917h0.55M154.39 175.25h0.55M157.73 175.583h0.55M156.73 176.25h0.55M186.39 176.25h0.55M149.06 176.917h0.55M148.06 177.25h0.55M147.39 177.917h0.55M155.73 177.917h0.55M159.73 178.25h0.55M153.39 179.583h0.55M147.39 179.917h0.55M159.73 179.917h0.55M182.72 179.917h0.55M147.39 180.25h0.55M148.06 180.583h0.55M150.39 180.583h0.55M156.39 180.917h0.55M169.06 180.917h0.55M152.39 181.25h0.55M156.73 181.583h0.55M149.73 181.917h0.55M155.39 181.917h0.55M183.72 181.917h0.55M190.39 182.25h0.55M152.39 182.583h0.55M153.06 182.583h0.55M151.73 182.917h0.55M150.73 183.25h0.55M161.73 183.25h0.55M187.06 183.25h0.55M145.39 183.917h0.55M159.73 183.917h0.55M181.72 183.917h0.55M174.72 184.25h0.55M179.39 184.25h0.55M153.06 184.583h0.55M158.73 184.583h0.55M149.06 184.917h0.55M147.39 185.25h0.55M148.39 185.25h0.55M164.06 185.25h0.55M184.72 185.25h0.55M189.06 185.25h0.55M146.06 185.583h0.55M153.06 186.25h0.55M186.72 186.583h0.55M140.06 186.917h0.55M149.39 186.917h0.55M157.73 186.917h0.55M140.06 187.25h0.55M147.39 187.25h0.55M181.06 187.25h0.55M183.06 187.25h0.55M150.73 187.917h0.55M152.06 188.25h0.55M152.39 188.583h0.55M146.39 188.917h0.55M160.06 188.917h0.55M169.06 188.917h0.55M183.39 188.917h0.55M141.39 189.25h0.55M143.06 189.25h0.55M147.73 189.25h0.55M149.73 189.25h0.55M151.06 189.25h0.55M182.72 189.25h0.55M149.39 189.583h0.55M160.73 189.583h0.55M180.39 189.583h0.55M160.73 189.917h0.55M151.06 190.583h0.88M154.73 190.583h0.55M182.72 190.583h0.55M184.06 190.583h0.55M185.39 190.583h0.55M183.06 190.917h0.55M138.73 191.25h0.55M146.39 191.25h0.55M147.39 191.25h0.55M150.39 191.25h0.55M184.72 191.25h0.55M140.39 191.583h0.55M142.39 191.583h0.55M149.73 191.583h0.55M154.06 191.583h0.55M159.73 191.583h0.55M171.06 191.917h0.55M185.06 191.917h0.55M187.39 191.917h0.55M140.73 192.25h0.55M149.39 192.583h0.55M182.72 192.583h0.55M140.39 192.917h0.55M146.06 192.917h0.55M180.39 192.917h0.55M182.06 192.917h0.55M141.06 193.25h0.55M153.06 193.25h0.88M179.06 193.25h0.55M180.72 193.25h0.55M187.39 193.25h0.55M145.73 193.583h0.55M147.06 193.583h0.55M152.06 193.583h0.55M143.73 193.917h0.55M149.06 193.917h0.55M179.06 193.917h0.55M182.06 193.917h0.55M183.06 193.917h0.55M145.39 194.25h0.55M149.06 194.25h0.88M154.06 194.25h0.55M161.39 194.25h0.55M178.06 194.25h0.55M182.72 194.25h0.55M147.73 194.583h0.55M151.73 194.583h0.55M152.73 194.583h0.55M145.73 195.25h0.55M149.06 195.25h0.55M188.06 195.583h0.55M147.06 195.917h0.88M185.06 195.917h0.55M141.73 196.25h0.55M150.73 196.25h0.55M144.73 196.583h0.55M145.39 196.583h0.55M182.39 196.583h0.55M149.06 196.917h0.55M150.73 196.917h0.55M177.72 196.917h0.55M143.73 197.25h0.55M149.39 197.25h0.55M176.39 197.25h0.55M178.72 197.25h0.55M146.39 197.583h0.55M150.73 197.583h0.55M155.06 197.583h0.55M168.72 197.583h0.55M184.06 197.583h0.55M143.39 197.917h0.55M147.39 197.917h0.55M148.73 197.917h0.55M158.73 197.917h0.55M141.06 198.25h0.55M146.73 198.25h0.55M150.39 198.25h0.55M152.39 198.25h0.55M180.06 198.25h0.55M152.73 198.583h0.55M174.72 198.583h0.55M181.39 198.583h0.55M183.06 198.583h0.55M142.06 198.917h0.55M145.73 198.917h0.55M147.39 198.917h0.55M152.73 198.917h0.55M175.06 198.917h0.55M176.06 198.917h0.55M179.72 198.917h0.55M180.72 198.917h0.55M174.06 199.25h0.55M177.06 199.25h0.55M178.39 199.25h0.55M182.39 199.25h0.55M131.73 199.583h0.55M178.72 199.583h0.55M182.39 199.583h0.55M184.39 199.583h0.55M150.73 199.917h0.55M167.06 199.917h0.55M174.06 199.917h0.55M181.39 199.917h0.55M139.39 200.25h0.55M147.73 200.25h0.55M148.73 200.25h0.55M150.06 200.25h0.55M157.39 200.25h0.55M172.39 200.25h0.55M145.39 200.583h0.55M179.39 200.583h0.55M180.39 200.583h0.55M136.39 200.917h0.55M142.06 200.917h0.55M148.73 201.25h0.55M176.06 201.25h0.88M180.39 201.25h0.55M182.06 201.25h0.55M183.72 201.25h0.55M139.39 201.583h0.55M144.06 201.583h0.55M145.73 201.583h0.55M146.39 201.583h0.55M150.73 201.583h0.55M178.72 201.583h0.55M180.72 201.583h0.55M181.72 201.583h0.55M145.39 201.917h0.55M148.73 201.917h0.55M171.72 201.917h0.55M142.06 202.25h0.55M149.73 202.25h0.55M152.06 202.25h0.55M159.39 202.25h0.55M193.06 202.25h0.55M139.06 202.583h0.55M144.73 202.583h0.55M150.39 202.583h0.55M151.39 202.583h0.55M171.39 202.583h0.55M182.39 202.583h0.55M141.73 202.917h0.55M143.06 202.917h0.55M147.73 202.917h0.88M151.39 202.917h0.55M176.06 202.917h0.55M177.06 202.917h0.55M135.73 203.25h0.55M148.73 203.25h0.55M149.39 203.25h0.55M144.73 203.583h0.55M140.39 203.917h0.55M142.06 203.917h0.55M146.39 203.917h0.55M147.39 203.917h0.55M153.39 203.917h0.55M156.06 203.917h0.55M173.39 203.917h0.55M175.06 203.917h0.55M182.06 203.917h0.55M186.72 203.917h0.55M182.39 204.25h0.55M141.06 204.583h0.55M146.06 204.583h0.55M180.72 204.583h0.55M183.39 204.583h0.55M142.06 204.917h0.55M144.06 204.917h0.55M150.39 204.917h0.55M175.72 204.917h0.55M179.72 204.917h0.55M135.39 205.25h0.55M140.06 205.25h0.55M143.39 205.25h0.55M144.39 205.25h0.55M149.39 205.25h0.55M176.72 205.25h0.55M145.06 205.583h0.55M149.39 205.583h0.55M176.06 205.583h0.55M180.72 205.583h0.55M148.06 205.917h0.55M150.73 205.917h0.55M168.72 205.917h0.55M181.72 205.917h0.55M140.73 206.25h0.55M141.39 206.25h0.55M143.39 206.25h0.55M145.39 206.25h0.55M173.72 206.25h0.55M175.72 206.25h0.55M135.39 206.583h0.55M137.73 206.583h0.55M143.06 206.583h0.55M150.73 206.583h0.55M176.72 206.583h0.88M179.39 206.583h0.55M181.06 206.583h0.55M135.73 206.917h0.55M138.39 206.917h0.55M146.06 206.917h0.55M155.73 206.917h0.55M145.39 207.25h0.55M146.73 207.25h0.55M175.39 207.25h0.55M179.72 207.25h0.55M148.73 207.583h0.55M135.39 207.917h0.55M140.06 207.917h0.55M141.39 207.917h0.55M146.73 207.917h0.55M138.06 208.25h0.55M144.39 208.25h0.55M147.73 208.25h0.55M148.39 208.25h0.55M177.72 208.25h0.55M178.72 208.25h0.55M179.39 208.25h0.55M137.73 208.583h0.55M139.39 208.583h0.55M156.39 208.583h0.55M173.06 208.583h0.55M179.06 208.583h0.55M134.39 208.917h0.55M147.39 208.917h0.55M174.72 208.917h0.55M176.72 209.25h0.55M177.39 209.25h0.55M182.72 209.25h0.55M136.73 209.583h0.55M138.73 209.583h0.55M145.06 209.583h0.55M148.73 209.583h0.55M165.73 209.583h0.55M174.06 209.583h0.55M181.06 209.583h0.55M137.39 209.917h0.55M148.73 209.917h0.55M154.73 209.917h0.55M181.39 209.917h0.55M137.73 210.25h0.55M150.73 210.25h0.55M153.39 210.25h0.55M161.73 210.25h0.55M137.06 210.583h0.55M141.06 210.583h0.55M170.72 210.583h0.55M179.39 210.583h0.55M182.39 210.583h0.55M146.06 210.917h0.55M149.73 210.917h0.55M171.39 210.917h0.55M174.06 210.917h0.55M144.39 211.25h0.55M152.06 211.25h0.55M179.39 211.25h0.55M140.06 211.583h0.55M148.06 211.583h0.55M151.39 211.583h0.55M133.06 211.917h0.55M136.06 211.917h0.55M178.39 211.917h0.55M150.73 212.25h0.55M169.72 212.25h0.55M173.06 212.25h0.55M142.06 212.583h0.55M143.39 212.583h0.55M165.73 212.583h0.55M141.39 212.917h0.55M145.73 212.917h0.55M147.73 212.917h0.55M150.73 212.917h0.55M166.39 213.25h0.55M173.06 213.25h0.55M175.72 213.25h0.55M181.06 213.25h0.55M133.73 213.583h0.55M140.06 213.583h0.55M140.73 213.583h0.55M148.06 213.583h0.55M153.39 213.583h1.22M165.73 213.583h0.55M180.06 213.583h0.55M139.06 213.917h0.55M149.39 213.917h0.55M136.73 214.25h0.55M144.39 214.25h0.55M148.39 214.25h0.55M176.39 214.25h0.55M135.73 214.583h0.55M139.73 214.583h0.55M179.72 214.583h0.55M141.39 214.917h0.55M163.39 214.917h0.55M168.06 214.917h0.55M171.72 214.917h0.55M172.72 214.917h0.55M133.73 215.25h0.55M135.39 215.25h0.55M138.39 215.25h0.55M141.73 215.25h0.55M144.39 215.25h0.55M146.39 215.25h0.55M147.06 215.25h0.55M148.06 215.25h0.55M150.73 215.25h0.55M166.39 215.25h0.55M168.06 215.25h0.55M136.39 215.583h0.55M143.73 215.583h0.55M153.06 215.583h0.55M173.06 215.583h0.55M172.39 215.917h0.55M174.06 215.917h0.55M176.72 215.917h0.55M178.72 215.917h0.55M138.06 216.25h0.55M138.73 216.25h0.55M144.39 216.25h0.55M178.06 216.25h0.55M134.06 216.583h0.55M136.06 216.583h0.55M142.39 216.583h0.55M145.39 216.583h0.55M159.39 216.583h0.55M170.39 216.583h0.55M180.06 216.583h0.55M181.06 216.583h0.55M130.73 216.917h0.55M137.39 216.917h0.55M139.06 216.917h0.55M148.06 216.917h0.55M144.73 217.25h0.55M145.39 217.25h0.55M146.39 217.25h0.55M162.73 217.25h0.55M179.39 217.25h0.55M138.06 217.583h0.55M141.39 217.583h0.55M142.73 217.583h0.55M152.39 217.583h0.55M166.06 217.583h0.55M179.72 217.583h0.55M172.72 217.917h0.55M137.06 218.25h0.55M145.73 218.25h0.55M172.39 218.25h0.55M147.73 218.583h0.55M156.06 218.583h0.55M169.39 218.583h0.88M179.72 218.583h0.55M137.39 218.917h0.55M175.06 218.917h0.55M129.06 219.25h0.55M131.39 219.25h0.55M169.06 219.25h0.55M172.72 219.25h0.55M133.39 219.583h0.55M140.06 219.583h0.55M145.73 219.583h0.55M157.06 219.583h0.55M170.39 219.583h0.55M134.06 219.917h0.55M151.06 219.917h0.55M170.72 219.917h0.55M173.72 219.917h0.55M178.06 219.917h0.55M134.73 220.25h0.55M138.06 220.25h0.55M140.73 220.25h0.55M154.73 220.25h0.55M171.06 220.25h0.55M173.39 220.25h0.55M177.39 220.25h0.55M147.39 220.583h0.55M175.39 220.583h0.55M135.73 220.917h0.55M139.06 220.917h0.55M150.73 220.917h0.55M136.39 221.25h0.55M145.73 221.25h0.55M140.06 221.583h0.55M147.06 221.583h0.55M153.06 221.583h0.55M174.39 221.583h0.55M179.06 221.583h0.55M135.39 221.917h0.88M137.06 221.917h0.55M138.39 221.917h0.55M176.72 221.917h0.88M145.39 222.25h0.55M150.06 222.25h0.55M170.72 222.25h0.55M148.39 222.583h0.55M171.39 222.583h0.55M172.06 222.583h0.55M127.39 222.917h0.55M135.73 222.917h0.55M169.39 222.917h0.55M179.72 222.917h0.55M136.06 223.25h0.55M139.39 223.25h0.55M156.39 223.25h0.55M157.06 223.25h0.55M171.06 223.25h0.55M146.39 223.583h0.55M169.39 223.583h0.55M129.73 223.917h0.55M135.39 223.917h0.55M138.73 223.917h0.55M146.06 223.917h0.55M176.39 223.917h0.88M177.39 223.917h0.55M179.39 223.917h0.55M134.39 224.25h0.55M123.06 224.583h0.55M137.73 224.583h0.55M145.06 224.917h0.55M160.39 224.917h0.55M165.39 224.917h0.55M169.72 224.917h0.55M168.39 225.25h0.55M170.06 225.25h0.55M129.06 225.917h0.55M146.73 225.917h0.55M167.06 225.917h0.55M168.06 225.917h0.55M175.39 225.917h0.55M181.72 225.917h0.55M133.06 226.25h0.88M167.06 226.25h0.55M136.06 226.583h0.55M169.39 226.583h0.55M171.06 226.583h0.55M175.39 226.583h0.55M130.73 226.917h0.55M133.73 226.917h0.55M147.06 226.917h0.55M154.06 226.917h0.55M169.39 226.917h0.55M124.06 227.25h0.55M145.06 227.25h0.55M147.39 227.25h0.55M160.73 227.25h0.55M176.72 227.25h0.55M135.39 227.583h0.55M168.39 227.583h0.55M135.06 227.917h0.55M165.06 228.25h0.55M173.39 228.25h0.55M164.06 228.583h0.55M168.06 228.583h0.55M134.39 228.917h0.55M149.73 228.917h0.55M154.39 228.917h0.88M168.39 228.917h0.55M171.06 228.917h0.55M174.72 228.917h0.55M148.73 229.25h0.55M173.39 229.25h0.55M128.39 229.583h0.55M149.39 229.583h0.55M169.39 229.583h1.22M143.73 229.917h0.55M166.72 229.917h0.55M185.39 229.917h0.55M161.39 230.25h0.55M173.72 230.583h0.55M154.73 230.917h0.55M160.06 230.917h0.55M161.06 230.917h0.55M175.39 230.917h0.55M134.73 231.25h0.55M163.39 231.25h0.55M167.39 231.25h0.55M174.39 231.25h0.55M131.73 231.583h0.55M160.39 231.583h0.55M163.73 231.583h0.55M166.72 231.583h0.88M168.06 231.583h0.55M173.06 231.583h0.55M133.73 231.917h0.55M160.39 231.917h0.55M165.39 232.25h0.55M167.72 232.25h0.55M128.73 232.583h0.55M153.39 232.917h0.55M166.06 232.917h0.55M172.06 232.917h0.55M177.39 232.917h0.55M170.06 233.25h0.55M166.72 233.583h0.55M176.72 233.583h0.55M132.73 233.917h0.55M150.73 233.917h0.55M166.06 233.917h0.55M171.39 233.917h0.55M166.72 234.25h0.55M167.39 234.25h0.55M173.39 234.25h0.55M122.72 234.583h0.55M133.39 234.583h0.55M138.73 234.583h0.55M144.06 234.583h0.55M172.06 234.583h0.55M143.06 234.917h0.55M168.39 234.917h0.55M175.39 234.917h0.55M142.39 235.25h0.55M149.73 235.25h0.55M170.39 235.25h0.88M127.72 235.583h0.55M138.06 235.583h0.55M167.06 235.583h0.55M141.39 235.917h0.55M132.73 236.25h0.55M156.06 236.25h0.55M164.73 236.25h0.55M169.72 236.25h0.55M171.06 236.583h0.55M140.39 236.917h0.55M159.39 236.917h0.55M167.39 236.917h0.55M124.39 237.25h0.55M130.39 237.25h0.55M155.73 237.25h0.55M158.73 237.25h0.55M164.06 237.25h0.55M165.06 237.25h0.55M165.73 237.25h0.55M176.72 237.25h0.55M131.06 237.583h0.55M142.39 237.583h0.55M164.73 237.583h0.55M168.39 237.583h0.55M171.06 237.583h0.55M132.39 237.917h0.55M167.06 237.917h0.88M171.06 237.917h0.55M126.06 238.25h0.55M132.06 238.25h0.55M168.72 238.25h0.55M143.73 238.583h0.55M166.39 238.917h0.55M167.06 238.917h0.55M138.73 239.25h0.55M148.73 239.25h0.55M164.06 239.25h0.55M165.06 239.25h0.55M127.06 239.583h0.55M131.73 239.583h0.55M161.06 239.583h0.55M166.39 239.583h0.55M128.06 239.917h0.55M131.73 239.917h0.55M169.72 239.917h0.55M130.06 240.25h0.55M164.73 240.25h0.55M174.39 240.25h0.55M164.06 240.917h0.55M167.39 240.917h0.55M168.39 240.917h0.55M169.39 240.917h0.55M168.39 241.25h0.55M166.39 241.583h0.55M167.06 241.583h0.55M131.39 241.917h0.55M134.39 242.25h0.55M164.39 242.25h0.55M166.06 242.25h0.55M167.72 242.25h0.55M132.39 242.583h0.55M135.73 242.583h0.55M164.73 242.583h0.55M166.06 242.583h0.55M129.39 242.917h0.55M134.39 242.917h0.55M141.06 242.917h0.55M144.73 242.917h0.55M139.06 243.25h0.55M133.73 243.583h0.55M149.39 243.583h0.55M136.73 243.917h0.55M165.39 243.917h0.55M169.06 243.917h0.55M132.39 244.25h0.55M133.73 244.25h0.55M136.06 244.25h0.55M167.06 244.25h0.55M134.06 244.583h0.55M154.73 244.583h0.55M164.73 244.583h0.55M166.39 244.583h0.88M169.72 244.583h0.55M128.39 244.917h0.55M137.06 244.917h0.55M164.06 244.917h0.55M136.06 245.25h0.55M160.39 245.25h0.55M133.73 245.583h0.55M165.39 245.583h0.55M170.39 245.583h0.55M129.39 245.917h0.55M137.06 245.917h0.55M137.73 245.917h0.55M126.72 246.25h0.55M132.06 246.25h0.55M162.73 246.25h0.55M134.73 246.583h0.55M170.06 246.583h0.55M150.39 247.25h0.55M152.39 247.25h0.55M163.39 247.25h0.55M167.72 247.25h0.55M136.73 248.25h0.55M165.06 248.25h0.55M167.72 248.25h0.55M132.06 248.583h0.55M134.73 248.583h0.55M147.06 248.583h0.55M133.73 249.25h0.55M163.06 250.25h0.55" stroke="#3232ff"/><path d="M150.73 191.917h0.55M182.72 192.917h0.55M181.72 193.25h0.55M182.72 193.917h0.55M149.06 196.583h0.55M149.73 197.583h0.55M146.06 198.583h0.55M177.72 199.25h0.55M177.39 199.917h0.55M179.72 200.917h0.55M179.39 201.25h0.55M144.73 201.917h0.55M178.72 201.917h0.55M151.39 202.25h0.55M178.06 202.25h0.55M177.72 202.583h0.55M147.39 202.917h0.55M146.73 203.25h0.55M176.39 203.583h0.55M177.06 203.583h0.55M178.39 203.583h0.55M178.72 203.917h0.55M176.06 204.25h0.55M178.06 204.25h0.55M178.72 204.25h0.55M180.06 204.25h0.55M179.06 204.917h0.55M177.06 205.25h0.55M140.39 205.917h0.55M141.06 205.917h0.55M178.72 205.917h0.88M142.73 206.583h0.55M142.06 208.583h0.55M179.06 208.917h0.55M141.73 209.25h0.88M175.39 209.25h0.55M178.72 209.25h0.55M177.06 209.583h0.55M178.72 209.917h0.55M141.73 210.25h0.55M142.39 210.25h0.55M146.39 210.25h0.55M148.06 210.25h0.88M142.39 210.583h0.55M143.06 210.583h0.55M147.39 210.583h0.55M175.72 210.583h1.22M177.06 210.583h0.55M145.73 210.917h0.55M147.06 210.917h0.55M177.72 210.917h0.55M176.72 211.25h0.55M141.06 211.583h0.55M174.39 211.583h0.55M175.39 211.583h0.55M178.72 211.583h0.55M142.73 211.917h0.55M143.73 211.917h0.88M174.72 211.917h0.88M178.06 211.917h0.55M144.39 212.25h0.88M174.06 212.25h0.55M176.06 212.25h0.55M178.06 212.25h0.55M175.39 212.583h0.55M176.39 212.583h0.55M177.39 212.583h0.55M141.73 212.917h0.55M147.06 213.25h0.55M174.06 213.25h0.88M176.39 213.25h0.55M142.39 213.917h0.55M174.72 214.25h0.55M175.72 214.25h0.55M176.06 214.583h0.55M139.06 214.917h0.55M139.73 214.917h0.55M173.39 214.917h0.55M174.72 214.917h0.55M146.73 215.25h0.55M175.06 215.25h0.55M140.73 215.917h0.55M141.73 215.917h0.55M174.72 215.917h0.55M144.73 216.25h0.55M175.06 216.25h0.55M175.72 216.25h0.55M177.72 216.25h0.55M141.73 216.583h0.55M141.39 216.917h0.55M143.06 216.917h0.55M175.72 216.917h0.55M176.39 216.917h0.55M175.72 217.25h0.55M174.39 217.917h0.55M144.73 218.25h0.55M174.06 218.25h0.55M139.39 218.583h0.55M142.06 218.583h0.55M144.06 218.583h0.55M174.72 218.583h0.88M141.06 218.917h0.55M142.06 218.917h0.55M144.73 218.917h0.55M143.73 219.25h0.55M138.06 219.583h0.55M138.73 219.583h0.55M139.39 219.583h0.55M141.73 219.583h0.88M143.39 219.583h0.55M144.39 219.583h0.55M169.72 219.583h0.55M141.73 219.917h0.88M143.06 219.917h0.55M143.73 220.25h0.55M146.06 220.25h0.55M144.06 220.583h0.88M173.39 220.583h0.55M142.39 220.917h0.55M143.73 220.917h0.55M145.06 220.917h0.55M175.06 220.917h0.55M138.39 221.25h0.55M142.06 221.25h0.55M143.73 221.25h0.55M143.06 221.583h0.55M144.73 221.583h0.55M174.06 221.583h0.55M173.72 221.917h0.55M142.39 222.25h0.55M174.72 222.25h0.55M175.72 222.25h0.55M139.73 222.583h0.55M140.73 222.583h0.55M143.73 222.583h0.55M173.72 222.583h0.55M139.73 222.917h0.55M171.06 222.917h0.88M173.06 222.917h0.55M141.06 223.25h0.88M175.06 223.25h0.88M143.39 223.583h0.55M171.06 223.583h0.55M173.39 223.583h0.88M175.72 223.583h0.55M140.39 223.917h0.55M143.73 223.917h0.55M173.39 223.917h0.55M171.72 224.25h0.55M172.39 224.25h0.55M144.39 224.583h0.55M170.72 224.583h0.88M174.39 224.583h0.55M143.06 224.917h0.55M173.39 224.917h0.55M174.72 224.917h0.55M137.39 225.25h0.55M139.06 225.25h0.55M144.06 225.25h0.55M173.72 225.25h0.55M144.73 225.583h0.55M172.06 225.583h0.55M172.72 225.583h0.55M137.73 225.917h0.55M173.06 225.917h0.55M143.39 226.25h0.88M175.72 226.25h0.55M144.06 226.583h0.55M171.39 226.583h0.88M173.06 226.583h0.88M136.06 226.917h0.55M171.72 226.917h0.55M174.39 226.917h0.55M173.39 227.25h0.55M174.06 227.25h0.55M167.39 227.583h0.55M174.39 227.583h0.55M136.73 227.917h0.55M135.73 228.583h0.55M173.06 228.583h0.55M143.06 228.917h0.55M171.72 229.583h0.88M135.73 229.917h0.88M172.39 229.917h0.55M171.06 230.25h0.55M136.06 230.583h0.55M171.06 230.583h0.55M171.72 230.583h0.55M141.39 230.917h0.55M143.06 230.917h0.55M170.72 230.917h0.55M171.72 230.917h0.55M135.73 231.25h0.55M170.06 231.25h0.55M171.39 231.25h0.55M135.39 231.583h0.55M143.06 231.583h0.55M135.06 231.917h0.55M142.73 231.917h0.88M170.06 231.917h0.88M141.06 232.25h0.55M169.72 232.25h0.55M171.72 232.25h0.55M134.39 232.583h0.55M135.73 232.583h0.55M142.39 232.583h0.55M168.72 232.583h0.55M142.06 232.917h0.55M172.72 232.917h0.55M141.73 233.25h0.55M168.06 233.583h0.55M134.39 233.917h0.55M141.39 233.917h0.55M170.06 233.917h0.55M169.06 234.25h0.55M134.39 234.583h0.55M168.72 234.917h0.55M167.72 235.25h0.55M134.39 235.583h0.88M169.06 235.583h0.55M134.39 236.25h0.55M139.39 236.25h0.55M140.06 236.25h0.55M133.39 236.917h0.55M134.39 236.917h0.55M170.39 236.917h0.55M171.06 236.917h0.55M139.73 237.25h0.55M169.39 237.25h0.55M170.72 237.25h0.55M132.06 237.583h0.55M166.72 237.583h0.55M169.39 237.583h0.55M139.39 237.917h0.55M170.06 237.917h0.55M134.73 238.25h0.55M137.06 238.583h0.55M137.73 238.917h0.55M133.73 239.583h0.55M137.06 239.917h0.55M132.73 240.25h0.55M134.39 240.583h0.55M137.39 240.583h0.55M133.39 240.917h0.88M133.06 241.25h0.55M133.39 241.583h0.55M136.73 241.583h0.55M137.39 241.583h0.55M137.06 241.917h0.55M137.39 242.25h0.88M136.73 242.917h0.55M136.39 244.25h0.55" stroke="#3132ff"/><path d="M175.72 215.917h0.55M175.72 216.583h0.55M142.73 218.917h0.55M143.39 219.917h0.55M143.39 220.917h0.55M141.06 222.25h0.55M141.73 223.25h0.88M173.72 223.25h0.55M142.39 223.583h0.55M142.39 223.917h0.88M142.39 224.25h0.55M140.06 224.917h0.55M141.06 224.917h0.55M172.39 224.917h0.55M140.73 225.25h0.55M142.06 225.25h0.55M141.06 225.583h0.55M142.73 225.583h0.88M172.39 225.583h0.55M143.73 225.917h0.55M172.39 225.917h0.55M138.39 226.917h0.55M137.06 227.917h0.55M138.06 227.917h0.55M142.73 227.917h0.55M138.06 228.25h0.55M139.73 228.25h0.55M142.39 228.25h0.55M142.39 228.583h0.88M142.06 228.917h0.88M137.39 229.25h0.55M142.06 229.25h0.55M141.39 229.583h0.55M142.39 229.583h0.55M141.39 229.917h0.55M142.39 229.917h0.55M136.73 230.917h0.88M141.73 230.917h0.55M137.73 231.583h0.55M141.73 231.583h0.55M137.06 231.917h0.55M139.73 231.917h0.88M140.73 231.917h0.55M135.73 232.25h0.55M141.39 232.25h0.55M136.39 232.583h0.55M141.73 232.583h0.55M136.39 232.917h0.55M139.39 232.917h0.55M141.06 232.917h0.55M136.06 233.25h0.55M140.39 233.25h0.55M135.06 233.583h0.88M134.73 233.917h0.55M140.39 233.917h0.55M135.39 234.25h0.55M136.39 234.25h0.55M139.39 234.25h0.55M137.06 234.583h0.55M139.73 234.917h0.55M136.39 235.25h0.55M139.39 235.583h0.55M135.06 235.917h0.55M138.06 236.25h0.55M138.39 236.583h0.55M135.39 236.917h0.55M136.73 236.917h0.55M137.39 236.917h0.55M135.39 237.25h0.55M137.39 237.583h0.55M138.06 237.583h0.55M134.73 237.917h0.55M134.06 238.25h0.55M135.39 238.25h0.88M136.39 238.25h0.55M137.06 238.25h0.55M138.06 238.25h0.55M135.39 238.583h0.55M136.39 238.583h0.55M135.06 238.917h0.55M134.06 239.25h0.55M137.06 239.25h0.55M134.73 239.583h0.88M135.73 239.583h0.88M136.06 239.917h0.55M136.73 239.917h0.55M136.39 240.25h0.55M135.06 240.583h1.22M135.06 240.917h1.55" stroke="#2f33ff"/><path d="M142.06 224.583h0.55M139.39 225.25h0.55M141.06 225.25h1.22M142.39 225.25h0.55M139.39 225.583h0.55M140.06 225.583h0.55M139.73 225.917h0.88M142.06 225.917h0.55M141.73 226.25h0.55M143.06 226.583h0.55M139.39 226.917h0.88M140.39 226.917h0.55M139.73 227.25h0.55M139.73 227.583h0.55M141.73 227.583h0.55M138.73 228.25h0.55M142.06 228.25h0.55M138.06 228.583h0.55M139.39 228.917h0.55M139.06 229.25h0.55M141.06 229.25h0.55M137.39 229.583h0.55M138.39 229.583h0.55M140.73 229.583h0.88M137.06 230.25h0.55M139.39 230.25h0.55M137.39 230.583h0.55M140.73 230.583h0.55M138.73 230.917h0.55M140.39 230.917h0.88M136.73 231.583h0.88M139.73 231.583h0.55M139.06 231.917h0.88M136.73 232.25h0.55M140.39 232.25h0.55M138.73 232.583h0.55M139.39 232.583h0.55M140.39 232.583h0.55M137.39 232.917h0.55M138.73 232.917h0.88M139.06 233.25h0.55M136.06 233.583h0.55M136.39 233.917h0.55M139.06 233.917h0.88M139.73 234.25h0.55M136.06 234.583h0.88M137.73 234.583h0.55M139.06 234.583h1.22M135.73 234.917h0.55M134.73 235.25h0.55M139.06 235.25h0.55M135.39 235.583h0.55M136.39 235.583h0.55M137.73 235.583h0.55M126.72 235.917h0.55M136.73 235.917h0.55M136.06 236.25h0.55M136.73 236.25h1.22M138.73 236.25h0.55M136.73 236.583h0.55M138.06 236.583h0.55M137.73 236.917h0.55M136.39 237.25h0.55M137.06 237.25h0.55M135.06 237.583h0.55M135.73 237.917h1.22M136.06 238.583h0.55M135.73 238.917h0.55M135.39 239.917h0.55M136.39 239.917h0.55M137.06 240.25h0.55" stroke="#2c34ff"/><path d="M141.39 225.583h0.55M140.06 226.25h0.55M140.73 226.25h0.88M173.72 226.25h0.55M138.73 226.583h0.55M141.39 226.583h0.55M141.73 226.917h0.55M140.73 227.25h0.55M142.06 227.25h0.55M140.06 227.917h0.55M141.06 228.25h0.55M138.39 228.583h0.88M139.39 228.583h0.55M138.73 228.917h0.55M140.06 228.917h0.88M137.73 229.25h0.55M139.39 229.25h1.55M138.06 229.583h0.55M139.06 229.583h0.55M139.73 229.583h0.55M140.06 229.917h0.55M138.39 230.25h0.55M137.73 230.917h0.55M139.73 230.917h0.55M137.39 231.25h0.55M138.73 231.25h0.55M139.73 231.25h0.55M140.39 231.25h0.55M138.73 231.583h0.55M139.39 231.583h0.55M137.73 231.917h0.55M138.39 231.917h0.55M138.39 232.25h0.88M138.06 232.583h0.55M136.73 232.917h0.55M138.06 233.25h0.55M137.39 233.583h0.55M138.39 233.583h0.55M137.06 234.25h0.55M138.73 234.25h0.55M134.73 234.917h0.55M137.73 234.917h0.55M136.06 235.583h0.55M137.39 235.917h0.55M139.06 235.917h0.55M137.39 236.583h0.55M136.06 237.583h0.55M137.06 237.583h0.55M166.06 237.917h0.55" stroke="#2835ff"/><path d="M143.06 220.917h0.55M141.73 225.917h0.55M141.73 226.583h0.55M140.73 226.917h0.55M140.06 227.25h0.55M141.06 227.25h0.88M137.73 227.583h0.55M139.06 227.917h0.55M140.06 228.583h0.55M139.73 228.917h0.55M138.73 229.25h0.55M139.39 229.583h0.55M138.06 229.917h0.55M139.06 230.25h0.55M138.39 230.583h0.55M139.06 230.583h0.55M140.39 230.583h0.55M140.39 231.917h0.55M137.73 233.25h0.55M137.73 233.583h0.55M138.06 234.25h0.55" stroke="#2337ff"/><path d="M143.73 218.917h0.55M174.39 223.583h0.55M141.06 226.917h0.55M141.39 227.917h0.55M139.06 228.583h0.55M139.39 230.583h0.55M138.06 233.583h0.55M139.73 233.583h0.55M137.39 233.917h0.55" stroke="#1657ff"/><path d="M177.06 213.917h0.55" stroke="#067eff"/><path d="M139.39 227.583h0.55M136.06 234.917h0.55" stroke="#00a6f4"/><path d="M134.73 246.917h0.55" stroke="#00d2e3"/><path d="M175.72 209.25h0.55M142.39 226.25h0.55M134.73 234.583h0.55" stroke="#00dbaa"/><path d="M143.73 192.917h0.55M172.39 210.583h0.55M138.39 225.583h0.55M172.06 226.917h0.55M136.73 237.25h0.55" stroke="#00df68"/><path d="M137.06 207.25h0.55M173.06 224.917h0.55M135.06 231.583h0.55M137.73 235.917h0.55" stroke="#07e242"/><path d="M148.73 211.917h0.55M142.06 223.917h0.55M138.73 237.583h0.55" stroke="#14e339"/><path d="M156.39 213.25h0.55" stroke="#22e530"/><path d="M140.73 212.583h0.55M176.06 219.917h0.55M137.06 229.583h0.55M142.06 233.917h0.55M139.39 235.917h0.55M165.06 246.917h0.55" stroke="#32e726"/><path d="M152.06 185.25h0.55M142.39 213.583h0.55M141.06 222.583h0.55M174.39 222.917h0.55M153.06 235.25h0.55" stroke="#42e91c"/><path d="M173.39 224.25h0.55" stroke="#53eb11"/><path d="M174.06 194.583h0.55M178.39 202.917h0.55M141.06 227.583h0.55M175.06 231.917h0.55" stroke="#66ed05"/><path d="M142.73 223.583h0.55" stroke="#79ef00"/><path d="M173.06 218.25h0.55M142.06 224.25h0.55M139.73 227.917h0.55" stroke="#8ef100"/><path d="M142.39 222.583h0.55M134.39 238.917h0.55" stroke="#a4f300"/><path d="M148.06 201.917h0.55M136.39 239.25h0.55M134.73 243.917h0.55" stroke="#bbf500"/><path d="M169.06 221.583h0.55M144.39 224.25h0.55M137.39 226.917h0.55M138.73 233.917h0.55M137.06 236.583h0.55" stroke="#d8f100"/><path d="M160.73 173.25h0.55M180.06 184.583h0.55M141.06 223.917h0.55M138.39 226.583h0.55M141.06 226.583h0.55M138.39 233.25h0.55M165.06 233.917h0.55M137.06 239.583h0.55" stroke="#f6ec00"/><path d="M141.39 210.25h0.55M140.39 231.583h0.55M137.39 231.917h0.55M136.06 232.917h0.55M140.73 233.583h0.55" stroke="#ffd500"/><path d="M142.73 205.917h0.55M174.39 224.25h0.55M137.06 229.25h0.55M136.73 242.25h0.55" stroke="#ffb500"/><path d="M176.06 203.25h0.55M172.06 232.583h0.88M137.39 234.25h0.55M136.39 235.917h0.55" stroke="#ff9300"/><path d="M136.06 218.25h0.55M138.73 225.917h0.55M140.73 228.917h0.55M140.39 232.917h0.55" stroke="#ff6b00"/><path d="M147.39 212.25h0.55M139.06 226.25h0.55M140.06 229.583h0.55M137.39 229.917h0.55" stroke="#ff3f00"/><path d="M173.39 208.583h0.55M175.06 209.583h0.55M146.06 209.917h0.55M140.06 217.917h0.55M142.39 222.917h0.88M139.73 226.583h0.55M142.06 226.917h0.55M138.39 231.25h0.55" stroke="#fe1700"/><path d="M142.06 206.25h0.55M141.06 227.917h0.55M139.73 230.25h0.55M138.06 233.917h0.55M135.39 234.917h0.55" stroke="#f50800"/></g>
<polygon points="154.5,167.85 133.9,178.35 130.2,200.75 131.7,245.35 149.4,247.55 158.5,223.45 167.25,187.35" fill="none" stroke="#1e2222" stroke-width="0.85" stroke-linejoin="round"/>
<rect x="102.5" y="150" width="102.7" height="101.65" fill="none" stroke="#000" stroke-width="1.3"/>
<path d="M98.7 154.2h3.3M100 158.092h2M100 161.984h2M100 165.876h2M100 169.768h2M98.7 173.66h3.3M100 177.552h2M100 181.444h2M100 185.336h2M100 189.228h2M98.7 193.12h3.3M100 197.012h2M100 200.904h2M100 204.796h2M100 208.688h2M98.7 212.58h3.3M100 216.472h2M100 220.364h2M100 224.256h2M100 228.148h2M98.7 232.04h3.3M100 235.932h2M100 239.824h2M100 243.716h2M100 247.608h2M98.7 251.5h3.3" stroke="#000" stroke-width="1" fill="none"/>
<text x="96.3" y="156.9" font-size="7.5" text-anchor="end">250K</text>
<text x="96.3" y="176.36" font-size="7.5" text-anchor="end">200K</text>
<text x="96.3" y="195.82" font-size="7.5" text-anchor="end">150K</text>
<text x="96.3" y="215.28" font-size="7.5" text-anchor="end">100K</text>
<text x="96.3" y="234.74" font-size="7.5" text-anchor="end">50K</text>
<text x="96.3" y="254.2" font-size="7.5" text-anchor="end">0</text>
<path d="M108.2 252.05v3.4M142 252.05v3.4M170.8 252.05v3.4M194.7 252.05v3.4M123.4 252.05v3.1M124.4 252.05v3.1M125.4 252.05v3.1" stroke="#000" stroke-width="1" fill="none"/>
<path d="M150.67 252.05v2.1M155.741 252.05v2.1M159.339 252.05v2.1M162.13 252.05v2.1M164.411 252.05v2.1M166.339 252.05v2.1M168.009 252.05v2.1M169.482 252.05v2.1M177.995 252.05v2.1M182.203 252.05v2.1M185.189 252.05v2.1M187.505 252.05v2.1M189.398 252.05v2.1M190.998 252.05v2.1M192.384 252.05v2.1M193.606 252.05v2.1M202 252.05v2.1M109.3 252.05v2.1M110.5 252.05v2.1M111.6 252.05v2.1M112.6 252.05v2.1M113.5 252.05v2.1M114.4 252.05v2.1M115.3 252.05v2.1M116.2 252.05v2.1M117.3 252.05v2.1M118.5 252.05v2.1M119.9 252.05v2.1M121.4 252.05v2.1M127.1 252.05v2.1M128.3 252.05v2.1M129.5 252.05v2.1M130.7 252.05v2.1M131.9 252.05v2.1M133.1 252.05v2.1M134.3 252.05v2.1M135.5 252.05v2.1M136.7 252.05v2.1M137.9 252.05v2.1M139.1 252.05v2.1M140.4 252.05v2.1" stroke="#000" stroke-width="0.85" fill="none"/>
<text transform="translate(110 263.65) scale(1.15 1)" font-size="6.8" text-anchor="middle">−10<tspan font-size="4.7" dy="-2.8">3</tspan></text>
<text transform="translate(127.3 263.65) scale(1.15 1)" font-size="6.8" text-anchor="middle">0</text>
<text transform="translate(145.2 263.65) scale(1.15 1)" font-size="6.8" text-anchor="middle">10<tspan font-size="4.7" dy="-2.8">3</tspan></text>
<text transform="translate(172.5 263.65) scale(1.15 1)" font-size="6.8" text-anchor="middle">10<tspan font-size="4.7" dy="-2.8">4</tspan></text>
<text transform="translate(199.1 263.65) scale(1.15 1)" font-size="6.8" text-anchor="middle">10<tspan font-size="4.7" dy="-2.8">5</tspan></text>
<text x="112.7" y="164.95" font-size="7.1">64.2%</text>
<text transform="translate(72.4 200.75) rotate(-90) scale(0.735 1)" font-size="7.6" text-anchor="middle" style="stroke-width:.42px">SSC-A</text>
</g>
<g>
<g fill="none" stroke-width="0.53"><path d="M314.49 44.25h0.53M313.99 44.75h0.53M353.49 44.75h0.53M289.49 45.25h0.53M286.49 45.75h0.53M315.49 45.75h0.53M312.99 46.75h0.53M342.49 48.25h0.53M293.99 48.75h0.53M341.99 48.75h0.53M353.99 48.75h0.53M341.49 49.75h0.53M293.99 50.75h0.53M312.99 50.75h0.53M292.99 51.75h0.53M340.49 52.25h0.53M345.99 52.25h0.53M291.99 52.75h0.53M320.99 52.75h0.53M344.49 53.75h0.53M344.49 54.25h0.53M315.49 55.25h0.53M342.99 55.75h0.53M290.49 56.25h0.53M314.99 56.75h0.53M286.99 57.25h0.53M289.49 57.25h0.53M341.49 57.75h0.53M346.49 57.75h0.53M289.49 58.25h0.53M314.49 58.75h0.53M343.99 59.25h0.53M344.99 59.25h0.53M337.49 60.25h0.53M313.99 60.75h0.53M340.49 60.75h0.53M290.99 61.25h0.53M339.49 61.25h0.53M338.99 61.75h0.53M316.49 63.25h1.03M329.49 63.25h0.53M343.99 63.25h0.53M328.49 63.75h0.53M338.99 64.25h0.53M289.49 64.75h0.53M291.49 64.75h0.53M332.49 64.75h0.53M337.49 64.75h0.53M291.49 65.25h0.53M313.49 65.25h0.53M315.49 65.25h0.53M323.49 65.25h0.53M336.49 65.25h0.53M288.99 66.25h0.53M333.49 66.75h0.53M341.99 66.75h0.53M289.49 67.25h0.53M344.99 67.75h0.53M338.49 68.25h0.53M325.99 68.75h0.53M290.99 69.25h0.53M317.49 69.25h0.53M325.49 69.25h0.53M336.49 69.25h0.53M337.49 69.25h0.53M288.99 69.75h0.53M319.99 70.25h0.53M334.49 70.25h0.53M286.49 71.25h0.53M332.99 71.25h0.53M329.49 71.75h0.53M334.99 71.75h0.53M341.49 71.75h1.03M342.99 71.75h0.53M290.49 72.25h0.53M347.49 72.25h0.53M313.99 72.75h0.53M315.99 73.25h0.53M328.99 73.25h0.53M337.49 73.25h0.53M338.99 73.25h0.53M339.99 73.25h0.53M284.49 73.75h0.53M289.99 73.75h0.53M331.49 73.75h0.53M334.99 73.75h0.53M348.49 74.75h0.53M326.49 75.25h0.53M341.99 75.25h0.53M321.99 75.75h0.53M333.49 75.75h0.53M289.49 76.25h0.53M323.99 76.75h0.53M335.49 77.25h0.53M338.49 77.25h0.53M328.99 78.25h0.53M340.49 78.25h0.53M342.49 78.25h0.53M330.99 78.75h0.53M334.99 78.75h0.53M321.99 79.25h0.53M326.99 79.25h0.53M338.99 79.25h0.53M289.99 79.75h0.53M314.49 79.75h0.53M336.49 79.75h0.53M339.99 79.75h0.53M336.49 80.25h0.53M331.49 81.25h0.53M331.49 82.25h1.03M335.99 82.25h0.53M315.49 83.25h0.53M326.99 83.25h0.53M332.49 84.25h0.53M335.99 84.25h0.53M337.99 84.25h0.53M290.99 84.75h0.53M315.49 84.75h0.53M332.99 84.75h0.53M289.49 85.25h0.53M328.49 85.25h0.53M336.49 85.25h0.53M327.49 85.75h0.53M321.49 86.25h0.53M326.99 86.25h0.53M331.49 86.25h0.53M337.49 86.25h0.53M315.99 86.75h0.53M321.49 86.75h0.53M333.49 86.75h0.53M334.99 86.75h0.53M338.49 86.75h0.53M311.99 87.75h0.53M313.99 88.25h0.53M327.99 88.75h0.53M334.99 89.25h0.53M290.99 89.75h0.53M310.49 90.25h0.53M311.49 90.25h0.53M311.49 90.75h0.53M334.99 90.75h0.53M289.99 91.25h0.53M323.99 91.25h0.53M324.99 91.25h0.53M330.49 91.25h1.03M308.49 92.25h0.53M321.49 92.25h0.53M337.49 92.25h0.53M313.99 92.75h0.53M325.49 92.75h0.53M313.49 93.25h0.53M315.99 93.75h0.53M335.49 93.75h0.53M289.49 94.25h0.53M318.49 94.75h0.53M334.99 94.75h0.53M338.99 94.75h0.53M310.49 95.25h0.53M315.99 95.25h0.53M318.99 95.25h0.53M324.99 95.25h0.53M308.49 95.75h0.53M332.99 95.75h0.53M326.99 96.75h0.53M331.99 97.25h0.53M325.99 98.75h0.53M331.49 98.75h0.53M306.99 99.25h0.53M308.99 99.75h0.53M331.99 99.75h0.53M311.99 100.25h0.53M316.49 100.25h0.53M310.49 100.75h0.53M331.49 100.75h0.53M287.99 101.75h0.53M310.49 101.75h0.53M331.49 101.75h0.53M309.49 102.75h0.53M315.99 102.75h0.53M319.49 103.25h0.53M288.99 103.75h0.53M327.99 103.75h0.53M329.49 103.75h0.53M302.99 104.75h0.53M331.99 104.75h0.53M304.99 105.25h0.53M306.49 105.25h1.03M308.49 105.25h0.53M326.49 105.75h0.53M331.99 105.75h0.53M299.99 106.25h0.53M307.99 106.25h0.53M322.99 106.75h0.53M287.49 107.25h0.53M302.49 107.75h0.53M303.49 107.75h0.53M332.49 108.25h0.53M310.99 109.25h0.53M313.49 109.25h0.53M333.49 109.25h0.53M323.49 109.75h0.53M318.99 110.75h0.53M303.99 111.25h0.53M305.49 111.25h0.53M312.49 111.25h0.53M315.99 111.25h0.53M293.49 113.25h0.53M323.49 113.25h0.53M283.49 113.75h0.53M291.49 114.75h0.53M299.49 114.75h0.53M316.99 114.75h0.53M268.99 115.25h0.53M315.49 115.25h0.53M327.49 115.25h0.53M290.99 116.25h0.53M324.99 116.25h0.53M304.49 116.75h0.53M280.49 117.75h0.53M281.49 117.75h0.53M297.99 117.75h0.53M284.99 118.25h0.53M302.49 118.25h0.53M308.49 118.25h0.53M286.49 119.25h0.53M308.49 119.25h0.53M294.99 119.75h0.53M304.99 120.25h0.53M281.99 121.25h0.53" stroke="#3232ff"/><path d="M296.49 44.25h0.53M297.49 44.25h0.53M298.49 44.25h0.53M311.99 44.25h1.03M312.49 44.75h0.53M312.49 45.25h0.53M312.99 45.75h0.53M295.99 46.25h0.53M314.49 46.25h0.53M294.49 47.25h0.53M294.49 47.75h0.53M312.49 47.75h0.53M312.49 48.25h0.53M313.49 49.75h0.53M294.49 50.25h0.53M295.49 51.25h0.53M295.49 51.75h0.53M311.99 51.75h1.03M294.99 53.25h0.53M295.49 53.75h0.53M293.49 54.25h0.53M312.99 54.25h0.53M313.49 54.75h0.53M292.99 55.75h0.53M290.49 56.75h0.53M294.49 57.25h0.53M294.49 57.75h1.03M293.49 58.75h0.53M291.99 59.25h0.53M292.99 59.25h0.53M312.49 59.25h0.53M312.49 60.25h0.53M293.49 61.25h0.53M312.49 61.25h0.53M293.49 61.75h0.53M312.99 61.75h0.53M311.49 62.25h0.53M292.49 62.75h0.53M293.49 62.75h0.53M293.49 63.25h0.53M312.49 63.25h1.03M339.49 63.75h0.53M337.99 65.25h0.53M293.49 65.75h0.53M313.49 65.75h0.53M339.99 65.75h0.53M339.99 66.25h1.03M291.99 66.75h0.53M292.99 67.75h0.53M313.99 68.25h0.53M339.99 68.25h1.03M291.99 68.75h0.53M312.49 68.75h0.53M313.99 68.75h0.53M291.49 69.25h0.53M313.99 69.25h0.53M339.99 69.75h1.03M290.99 70.25h0.53M339.99 70.25h1.03M341.49 70.25h0.53M292.49 70.75h0.53M291.99 71.25h0.53M311.99 71.25h0.53M337.49 71.25h0.53M313.49 71.75h0.53M292.49 72.25h0.53M337.49 72.25h0.53M291.49 72.75h0.53M336.49 72.75h0.53M312.49 73.25h0.53M313.49 73.25h0.53M312.99 73.75h0.53M291.99 74.25h0.53M311.99 74.25h0.53M292.49 74.75h0.53M292.49 75.25h0.53M291.49 75.75h0.53M313.49 76.25h0.53M312.49 76.75h0.53M335.99 76.75h0.53M311.99 77.25h0.53M312.99 77.25h0.53M291.49 78.25h0.53M292.49 78.25h0.53M311.49 78.25h0.53M311.99 78.75h0.53M290.99 79.25h0.53M311.49 79.25h0.53M334.99 79.75h0.53M311.99 80.25h0.53M311.49 80.75h0.53M312.49 81.25h0.53M310.99 82.25h1.03M291.49 83.25h0.53M311.49 83.25h0.53M335.99 83.25h0.53M310.49 84.75h0.53M337.99 84.75h0.53M309.49 85.75h0.53M291.99 86.25h0.53M309.99 86.25h0.53M311.49 86.25h0.53M290.99 86.75h0.53M309.99 86.75h1.03M311.49 86.75h0.53M290.99 87.25h1.03M292.49 87.25h0.53M291.99 87.75h0.53M308.99 88.25h0.53M310.49 88.75h0.53M292.49 89.25h0.53M309.49 89.25h0.53M291.99 89.75h0.53M307.99 90.25h0.53M290.99 92.75h0.53M291.99 92.75h1.03M306.49 92.75h0.53M308.49 92.75h0.53M306.49 93.25h0.53M330.49 93.25h0.53M335.99 93.75h0.53M306.99 94.25h0.53M291.49 94.75h0.53M306.49 94.75h0.53M334.49 94.75h0.53M290.49 95.25h0.53M305.99 95.25h0.53M290.49 95.75h1.03M304.49 96.25h0.53M291.49 97.75h0.53M290.99 98.25h0.53M308.99 98.75h0.53M290.49 99.25h0.53M303.49 99.75h0.53M290.99 100.25h0.53M303.49 100.25h0.53M304.49 100.75h0.53M291.99 101.25h0.53M301.99 101.25h0.53M301.49 101.75h0.53M290.99 102.25h0.53M289.99 102.75h0.53M290.49 103.25h0.53M300.49 103.75h0.53M290.49 104.25h0.53M299.49 104.75h1.03M286.99 105.75h0.53M289.49 106.75h0.53M296.99 106.75h0.53M289.49 107.25h0.53M313.99 107.25h0.53M288.49 107.75h0.53M296.99 107.75h0.53M296.99 108.25h0.53M288.49 108.75h0.53M294.49 109.75h0.53M290.49 110.75h0.53M287.49 111.75h0.53M291.99 111.75h1.03M294.49 111.75h0.53M286.99 112.25h0.53M288.49 112.25h0.53M289.99 112.25h0.53M290.99 112.25h0.53M291.99 112.25h0.53M293.49 112.25h0.53M291.99 112.75h0.53M290.99 113.25h0.53M286.99 113.75h0.53M288.99 113.75h0.53M289.99 113.75h0.53M291.49 113.75h0.53M284.49 114.25h0.53M286.99 114.25h0.53M287.99 114.25h0.53M284.49 114.75h1.03M287.49 114.75h0.53M288.49 114.75h0.53M287.49 115.25h0.53M290.49 115.25h0.53M284.99 115.75h1.53M288.49 116.25h1.03M284.99 116.75h0.53M287.99 116.75h0.53M289.99 116.75h0.53M284.99 117.25h0.53M286.49 117.25h0.53M287.99 117.25h1.53M283.49 117.75h1.03M286.99 117.75h0.53M288.99 118.25h0.53M287.49 118.75h0.53" stroke="#3132ff"/><path d="M298.99 44.25h0.53M309.49 44.25h0.53M310.49 44.25h1.03M296.99 44.75h0.53M297.99 44.75h0.53M297.49 45.25h0.53M311.49 45.25h0.53M296.99 45.75h0.53M310.49 45.75h0.53M311.49 45.75h0.53M297.99 46.25h0.53M311.99 46.25h0.53M296.99 46.75h0.53M310.99 47.25h1.03M296.49 47.75h0.53M294.99 48.25h1.03M296.49 48.25h1.03M298.49 48.25h0.53M310.99 48.25h0.53M296.99 48.75h0.53M296.99 49.25h0.53M295.99 49.75h1.53M297.49 50.75h0.53M295.99 52.25h0.53M295.99 52.75h0.53M311.49 52.75h1.03M295.99 53.25h0.53M310.99 53.25h1.03M295.99 53.75h0.53M311.99 53.75h0.53M295.99 54.25h0.53M311.99 54.25h0.53M311.99 54.75h0.53M311.49 55.25h0.53M312.49 55.25h0.53M295.49 55.75h0.53M311.99 55.75h0.53M311.49 56.25h0.53M312.99 56.25h0.53M311.49 56.75h0.53M311.49 57.25h1.03M294.99 58.25h0.53M311.99 58.25h0.53M294.99 58.75h0.53M294.99 59.25h0.53M311.99 59.25h0.53M311.99 59.75h0.53M294.99 60.25h0.53M294.49 61.25h1.03M294.49 61.75h0.53M311.49 61.75h1.03M311.99 62.75h0.53M311.99 63.75h0.53M294.49 64.25h0.53M311.49 64.25h0.53M311.49 64.75h0.53M292.49 65.25h0.53M293.99 65.25h0.53M311.99 65.25h0.53M293.99 65.75h0.53M311.49 65.75h0.53M311.99 66.75h1.03M292.99 67.25h0.53M293.99 67.25h0.53M310.99 67.25h1.03M293.49 67.75h0.53M292.99 68.25h0.53M293.99 68.25h0.53M310.99 68.25h0.53M293.49 68.75h0.53M310.99 68.75h0.53M293.99 69.25h0.53M311.49 69.25h0.53M293.49 69.75h0.53M293.49 70.25h0.53M293.49 70.75h0.53M292.99 71.25h0.53M293.99 71.25h0.53M292.99 72.25h0.53M310.99 72.25h0.53M292.99 73.25h0.53M310.99 73.75h0.53M311.49 74.25h0.53M292.99 74.75h0.53M292.99 76.25h0.53M310.49 76.25h1.03M292.99 76.75h0.53M310.49 76.75h0.53M311.99 76.75h0.53M293.49 77.25h0.53M312.49 77.25h0.53M291.99 77.75h0.53M310.49 77.75h0.53M291.99 79.75h1.53M310.49 79.75h0.53M292.99 80.25h1.03M310.49 80.25h1.03M291.99 80.75h0.53M309.99 80.75h0.53M292.49 81.25h0.53M310.49 81.25h0.53M291.99 81.75h0.53M308.99 81.75h0.53M310.99 81.75h0.53M291.99 82.25h1.53M292.49 82.75h0.53M310.49 82.75h0.53M309.99 83.25h0.53M292.99 83.75h0.53M309.99 83.75h0.53M293.49 84.75h0.53M308.99 84.75h0.53M292.49 85.25h0.53M293.49 85.25h0.53M308.49 85.25h0.53M292.99 85.75h1.03M292.49 86.25h0.53M291.99 86.75h0.53M293.99 86.75h0.53M308.99 86.75h0.53M307.99 87.25h0.53M292.49 87.75h0.53M292.99 88.25h0.53M292.99 88.75h0.53M307.99 88.75h0.53M292.99 89.25h1.03M307.99 89.25h1.03M307.49 89.75h1.03M292.99 90.75h0.53M292.49 91.25h1.03M306.99 91.25h0.53M306.49 92.25h0.53M305.49 93.75h0.53M306.49 93.75h0.53M304.49 94.25h0.53M292.99 94.75h0.53M305.49 94.75h0.53M291.99 95.25h0.53M304.49 95.25h0.53M303.99 96.75h1.03M292.49 97.25h0.53M303.99 97.25h0.53M292.49 98.25h0.53M302.99 98.25h0.53M291.99 98.75h1.03M292.49 99.25h0.53M301.99 99.25h0.53M291.49 99.75h1.03M301.49 99.75h0.53M291.99 100.25h0.53M301.49 100.25h0.53M291.49 100.75h0.53M300.49 100.75h0.53M300.99 101.25h0.53M299.99 102.25h1.03M291.99 102.75h0.53M299.49 102.75h0.53M290.99 103.75h0.53M291.99 103.75h0.53M291.49 104.25h0.53M298.49 104.25h1.03M298.49 104.75h0.53M290.99 105.25h1.03M296.49 105.25h0.53M297.49 105.25h0.53M290.99 105.75h0.53M297.99 105.75h0.53M290.49 106.25h0.53M290.49 106.75h0.53M290.49 107.25h1.03M296.49 107.25h0.53M289.49 107.75h1.03M291.49 107.75h0.53M295.99 107.75h1.03M289.49 108.25h0.53M291.49 108.25h0.53M294.99 108.25h1.03M289.49 108.75h1.03M292.99 108.75h0.53M293.99 108.75h0.53M294.99 108.75h1.03M289.99 109.25h0.53M291.99 109.25h1.53M293.99 109.25h1.03M289.49 109.75h0.53M292.49 109.75h1.03M294.99 109.75h0.53M289.49 110.25h1.53M291.99 110.25h1.03M293.99 110.25h0.53M288.99 110.75h1.53M291.49 110.75h2.03M293.99 110.75h0.53M287.99 111.75h0.53M289.49 111.75h0.53M291.49 111.75h0.53M287.99 112.25h0.53M287.49 112.75h2.53M290.99 112.75h0.53M288.99 113.25h1.53M289.49 113.75h0.53M290.49 113.75h0.53M289.49 114.25h1.03" stroke="#2f33ff"/><path d="M299.49 44.25h0.53M308.49 44.25h1.03M298.99 44.75h1.03M309.49 44.75h0.53M310.49 44.75h0.53M298.49 45.25h1.03M309.99 45.25h0.53M297.49 45.75h0.53M309.99 45.75h0.53M297.99 46.75h0.53M297.49 47.25h1.03M309.49 47.75h0.53M310.99 47.75h0.53M297.49 48.25h0.53M297.49 48.75h0.53M310.99 48.75h0.53M297.99 49.25h0.53M310.99 49.25h1.03M297.49 49.75h1.03M310.49 49.75h0.53M296.49 50.25h0.53M310.49 50.25h0.53M296.99 50.75h0.53M310.99 51.25h0.53M296.49 51.75h0.53M297.49 51.75h0.53M296.49 52.25h0.53M310.99 52.25h0.53M296.49 52.75h0.53M296.99 53.25h0.53M296.49 53.75h1.03M295.99 54.75h0.53M296.99 54.75h0.53M310.99 54.75h0.53M295.99 55.25h0.53M296.99 55.25h0.53M295.99 55.75h0.53M310.99 55.75h0.53M295.99 56.25h1.03M310.99 56.25h0.53M295.49 56.75h0.53M310.99 56.75h0.53M310.99 57.75h1.03M295.49 58.25h1.03M295.49 58.75h0.53M311.49 58.75h0.53M310.99 59.75h0.53M295.49 60.25h0.53M311.49 60.25h0.53M294.99 60.75h0.53M309.99 60.75h1.03M294.99 61.75h0.53M310.49 61.75h1.03M294.49 62.25h1.03M310.49 62.25h1.03M294.99 62.75h0.53M310.99 62.75h0.53M310.99 63.25h0.53M294.49 63.75h1.03M310.99 63.75h0.53M294.99 64.25h0.53M310.99 64.25h0.53M294.49 64.75h0.53M294.49 65.25h1.53M294.99 65.75h0.53M293.99 66.25h0.53M310.99 66.25h0.53M293.99 66.75h1.03M310.99 66.75h0.53M310.49 67.25h0.53M310.49 67.75h0.53M311.49 67.75h0.53M294.49 68.25h0.53M310.49 68.25h0.53M311.49 68.25h0.53M294.49 69.75h0.53M310.49 69.75h0.53M293.99 70.75h1.03M310.49 71.25h0.53M293.99 71.75h0.53M310.99 71.75h0.53M294.49 72.25h0.53M310.49 72.25h0.53M293.49 72.75h1.03M310.49 72.75h0.53M293.99 73.25h0.53M309.99 73.75h0.53M293.99 74.25h0.53M310.49 74.25h0.53M293.99 74.75h0.53M310.99 74.75h0.53M294.49 75.75h0.53M309.99 75.75h0.53M310.99 75.75h0.53M309.99 76.75h0.53M292.49 77.75h0.53M293.49 78.25h0.53M294.49 78.25h0.53M292.99 78.75h1.53M309.49 78.75h0.53M310.49 78.75h0.53M309.99 79.25h1.03M292.49 80.25h0.53M292.49 80.75h0.53M293.49 80.75h0.53M292.99 81.25h0.53M309.49 81.25h1.03M309.49 81.75h0.53M293.49 82.25h0.53M309.49 82.25h0.53M293.49 82.75h1.03M308.99 82.75h0.53M292.99 83.25h0.53M308.49 83.25h0.53M308.49 83.75h1.03M293.99 84.25h0.53M309.49 84.75h0.53M292.99 85.25h0.53M293.99 85.75h0.53M308.49 85.75h0.53M292.99 86.25h0.53M307.49 86.25h0.53M308.49 86.25h0.53M307.99 86.75h0.53M293.49 87.25h0.53M306.99 88.25h0.53M307.49 88.75h0.53M293.49 90.25h0.53M306.99 90.25h0.53M293.49 90.75h0.53M293.99 91.25h0.53M305.99 91.25h0.53M293.99 91.75h0.53M306.49 91.75h0.53M305.49 92.75h0.53M293.49 93.25h0.53M305.49 93.25h0.53M304.49 94.75h0.53M292.99 95.25h0.53M292.99 95.75h0.53M304.49 95.75h0.53M292.49 96.25h0.53M293.99 96.25h0.53M302.99 96.25h0.53M292.49 96.75h1.03M302.99 96.75h0.53M292.49 97.75h0.53M293.49 97.75h0.53M293.49 98.25h0.53M301.99 98.25h1.03M292.99 98.75h0.53M301.99 98.75h0.53M301.49 99.25h0.53M292.49 100.25h0.53M300.99 100.25h0.53M299.49 100.75h0.53M292.99 101.25h1.03M300.49 101.25h0.53M292.49 101.75h0.53M299.49 101.75h0.53M291.99 102.25h0.53M298.49 102.25h0.53M292.49 102.75h1.03M298.49 102.75h0.53M291.49 103.25h0.53M292.49 103.25h1.03M297.99 103.25h1.53M292.49 103.75h0.53M298.49 103.75h1.03M291.99 104.25h1.03M297.49 104.25h0.53M291.99 104.75h0.53M296.99 104.75h1.03M291.99 105.25h1.03M295.49 105.75h0.53M297.49 105.75h0.53M291.99 106.25h1.03M295.49 106.25h1.03M289.99 106.75h0.53M290.99 106.75h2.03M293.49 106.75h1.03M289.99 107.25h0.53M291.49 107.25h1.53M293.49 107.25h0.53M295.49 107.25h0.53M290.49 107.75h1.03M292.99 107.75h1.03M294.49 107.75h0.53M290.49 108.25h0.53M291.99 108.25h0.53M292.99 108.25h2.03M290.49 108.75h1.03M291.99 108.75h0.53M293.49 108.75h0.53M291.49 109.25h0.53M290.99 109.75h0.53M289.49 111.25h1.03M289.99 111.75h0.53M289.49 112.25h0.53" stroke="#2c34ff"/><path d="M299.99 44.25h0.53M309.99 44.75h0.53M308.99 45.25h1.03M310.49 45.25h0.53M298.49 45.75h0.53M299.99 45.75h0.53M310.99 45.75h0.53M298.99 46.25h0.53M309.49 46.25h0.53M310.99 46.25h0.53M298.49 46.75h0.53M309.49 46.75h1.03M299.99 47.25h0.53M309.99 47.25h0.53M298.99 47.75h0.53M309.99 47.75h0.53M297.99 48.25h0.53M308.99 48.25h0.53M309.99 48.25h0.53M309.99 48.75h0.53M298.99 49.25h0.53M309.99 49.25h1.03M298.49 49.75h0.53M309.49 49.75h0.53M297.99 50.25h0.53M297.99 50.75h0.53M310.49 50.75h0.53M297.99 51.25h0.53M309.99 51.25h0.53M296.99 51.75h0.53M309.99 51.75h1.03M310.49 52.25h0.53M297.49 52.75h0.53M310.49 52.75h0.53M297.99 53.25h0.53M310.49 53.25h0.53M297.99 53.75h0.53M310.49 53.75h0.53M296.99 54.25h1.03M310.49 54.75h0.53M309.99 55.25h1.53M310.49 55.75h0.53M309.99 56.25h0.53M295.99 56.75h1.03M295.99 57.25h0.53M310.49 57.25h0.53M295.99 57.75h1.03M310.49 57.75h0.53M310.99 58.25h0.53M296.49 58.75h0.53M310.49 58.75h1.03M295.49 59.25h0.53M310.99 59.25h0.53M295.49 59.75h0.53M296.49 59.75h0.53M295.99 60.25h0.53M309.99 60.25h0.53M310.99 60.25h0.53M295.49 60.75h0.53M309.99 61.25h1.03M295.99 62.25h0.53M310.49 62.75h0.53M294.99 63.25h1.03M310.49 63.75h0.53M295.99 64.25h0.53M309.99 64.25h1.03M310.99 64.75h0.53M310.49 65.25h0.53M295.49 65.75h0.53M294.49 66.25h0.53M309.99 66.25h1.03M309.99 66.75h1.03M294.49 67.25h1.03M309.99 67.25h0.53M294.49 67.75h1.03M294.99 68.25h0.53M294.49 68.75h0.53M295.49 68.75h0.53M310.49 68.75h0.53M294.49 69.25h0.53M295.49 69.25h0.53M309.99 69.25h1.03M310.99 69.75h0.53M293.99 70.25h0.53M294.99 70.75h0.53M310.49 70.75h0.53M294.49 71.25h0.53M294.49 71.75h0.53M294.99 72.25h0.53M309.99 72.25h0.53M294.49 72.75h1.03M294.49 73.25h0.53M309.99 73.25h1.03M294.49 73.75h0.53M310.49 73.75h0.53M309.99 74.25h0.53M309.49 74.75h0.53M310.49 74.75h0.53M293.99 75.25h0.53M294.99 75.25h0.53M309.99 75.25h0.53M293.99 75.75h0.53M309.49 75.75h0.53M293.99 76.25h0.53M309.99 76.25h0.53M293.99 76.75h0.53M294.99 77.25h0.53M309.49 77.25h1.03M293.49 77.75h1.53M309.49 77.75h1.03M293.99 78.25h0.53M293.99 79.25h0.53M308.99 79.25h0.53M308.99 79.75h1.03M294.49 80.25h0.53M308.99 80.25h0.53M309.99 80.25h0.53M293.99 80.75h0.53M308.99 80.75h0.53M293.99 81.75h0.53M293.99 82.25h0.53M307.99 82.25h0.53M308.49 82.75h0.53M309.49 82.75h0.53M309.49 83.25h0.53M308.49 84.25h0.53M307.99 84.75h0.53M293.99 85.25h1.03M307.99 85.25h0.53M294.49 85.75h0.53M293.99 86.25h1.03M293.49 86.75h0.53M307.49 86.75h0.53M306.99 87.25h1.03M293.99 87.75h0.53M306.99 87.75h0.53M293.99 88.25h1.03M307.49 88.25h0.53M293.99 89.25h0.53M306.49 89.25h0.53M293.99 89.75h0.53M306.99 89.75h0.53M293.99 90.75h0.53M305.99 90.75h0.53M294.49 91.25h0.53M294.49 91.75h0.53M305.49 91.75h0.53M293.99 92.25h1.03M304.49 92.25h0.53M305.49 92.25h0.53M293.99 92.75h0.53M293.99 93.25h0.53M304.49 93.25h0.53M293.49 93.75h1.03M292.99 94.25h2.03M303.99 94.25h0.53M293.49 94.75h1.03M303.99 94.75h0.53M302.99 95.25h1.53M293.49 95.75h1.03M292.99 96.25h0.53M293.49 96.75h0.53M293.49 97.25h0.53M302.49 97.25h1.03M293.99 97.75h0.53M300.99 98.25h1.03M293.49 98.75h0.53M301.49 98.75h0.53M293.49 99.25h0.53M300.49 99.25h1.03M292.99 99.75h0.53M300.49 99.75h1.03M293.49 100.25h0.53M293.49 100.75h0.53M298.49 100.75h0.53M298.99 101.25h0.53M296.99 101.75h0.53M298.49 101.75h1.03M292.99 102.25h1.03M298.99 102.25h0.53M298.99 102.75h0.53M291.99 103.25h0.53M293.99 103.75h0.53M297.49 103.75h0.53M292.99 104.25h0.53M295.49 104.25h0.53M296.99 104.25h0.53M297.99 104.25h0.53M292.49 104.75h0.53M293.49 104.75h0.53M296.49 104.75h0.53M293.99 105.25h0.53M295.99 105.25h0.53M291.49 105.75h1.03M292.99 105.75h0.53M294.49 105.75h0.53M296.49 105.75h1.03M294.49 106.25h0.53M292.99 106.75h0.53M294.49 106.75h1.53M292.99 107.25h0.53M294.49 107.25h1.03M291.99 107.75h1.03M290.99 108.25h0.53M292.49 108.25h0.53" stroke="#2835ff"/><path d="M300.49 44.25h1.53M306.49 44.25h1.03M299.99 44.75h1.03M301.49 44.75h0.53M307.99 44.75h1.53M299.49 45.25h0.53M308.49 45.25h0.53M298.99 45.75h1.03M300.99 45.75h0.53M309.49 45.75h0.53M299.49 46.25h0.53M300.99 46.25h0.53M308.99 46.25h0.53M309.99 46.25h0.53M308.99 46.75h0.53M308.99 47.25h1.03M298.49 47.75h0.53M308.99 47.75h0.53M298.99 48.25h0.53M307.99 48.25h0.53M297.99 48.75h2.03M298.49 49.25h0.53M309.49 49.25h0.53M298.99 49.75h1.03M309.99 49.75h0.53M298.49 50.25h0.53M308.99 50.25h1.53M298.49 50.75h0.53M309.99 50.75h0.53M299.49 51.75h0.53M297.49 52.25h0.53M308.99 52.25h0.53M309.99 52.25h0.53M309.49 52.75h1.03M297.49 53.25h0.53M309.49 53.25h1.03M298.49 53.75h0.53M297.99 54.25h0.53M309.99 54.75h0.53M309.99 55.75h0.53M296.99 56.25h0.53M297.99 56.25h0.53M310.49 56.25h0.53M309.99 56.75h0.53M296.49 57.25h0.53M309.99 57.25h0.53M297.99 57.75h0.53M308.99 57.75h0.53M296.49 58.25h1.03M310.49 58.25h0.53M296.99 58.75h0.53M308.99 58.75h0.53M295.99 59.25h1.03M308.99 59.25h0.53M309.99 59.25h0.53M295.99 59.75h0.53M296.99 59.75h0.53M309.49 59.75h0.53M296.49 60.25h0.53M309.49 60.25h0.53M310.49 60.25h0.53M295.99 60.75h0.53M309.49 60.75h0.53M295.49 61.25h0.53M296.49 61.25h0.53M309.49 61.25h0.53M309.99 61.75h0.53M295.49 62.75h0.53M296.99 62.75h0.53M309.99 62.75h0.53M295.99 63.25h1.03M310.49 63.25h0.53M295.99 63.75h0.53M309.99 63.75h0.53M296.49 64.25h0.53M295.49 64.75h0.53M309.49 64.75h0.53M310.49 64.75h0.53M295.99 65.25h0.53M310.49 65.75h1.03M294.99 66.25h0.53M295.49 66.75h0.53M295.49 67.25h1.03M309.49 67.25h0.53M295.49 67.75h0.53M309.99 67.75h0.53M295.49 68.25h0.53M308.99 68.25h0.53M309.99 68.25h0.53M309.49 68.75h1.03M294.99 69.25h0.53M294.99 69.75h1.53M309.99 69.75h0.53M294.99 70.25h0.53M309.99 70.25h0.53M295.49 70.75h0.53M308.99 71.25h0.53M294.99 71.75h0.53M309.99 71.75h0.53M309.49 72.25h0.53M309.99 72.75h0.53M308.49 73.25h1.03M294.99 73.75h0.53M294.49 74.25h0.53M309.49 74.25h0.53M294.49 74.75h1.03M309.99 74.75h0.53M294.49 75.25h0.53M309.49 75.25h0.53M294.99 75.75h0.53M309.49 76.25h0.53M294.49 76.75h0.53M294.49 77.25h0.53M308.49 77.75h0.53M294.49 78.75h1.03M308.99 78.75h0.53M294.49 79.25h0.53M294.49 79.75h1.03M308.49 79.75h0.53M293.99 80.25h0.53M307.99 80.25h0.53M294.49 80.75h0.53M295.49 80.75h0.53M309.49 80.75h0.53M293.99 81.25h1.03M308.49 81.25h1.03M294.49 81.75h0.53M294.49 82.25h0.53M308.49 82.25h0.53M293.99 83.25h1.53M308.99 83.25h0.53M293.99 83.75h1.03M307.99 83.75h0.53M307.49 84.25h0.53M293.99 84.75h0.53M307.49 84.75h0.53M308.49 84.75h0.53M293.99 87.25h0.53M306.49 87.75h0.53M306.49 88.25h0.53M306.49 88.75h1.03M294.99 89.25h0.53M305.99 89.25h0.53M294.99 89.75h0.53M305.99 89.75h0.53M305.99 90.25h1.03M294.49 90.75h0.53M304.99 91.75h0.53M294.99 92.25h0.53M294.49 92.75h0.53M304.99 92.75h0.53M294.99 93.75h0.53M303.99 93.75h0.53M293.49 95.25h1.53M302.49 95.25h0.53M302.99 95.75h0.53M293.49 96.25h0.53M294.49 96.25h0.53M301.49 96.25h0.53M302.49 96.25h0.53M293.99 96.75h0.53M302.49 96.75h0.53M293.99 97.25h0.53M294.49 97.75h0.53M293.99 98.75h0.53M293.99 99.25h0.53M293.49 99.75h1.03M299.99 100.25h0.53M293.99 101.25h1.03M296.49 101.25h0.53M298.49 101.25h0.53M297.49 101.75h0.53M293.99 102.25h0.53M297.99 102.25h0.53M296.49 102.75h0.53M297.99 102.75h0.53M294.49 103.25h0.53M295.49 103.25h1.03M296.99 103.25h1.03M292.99 103.75h1.03M296.99 103.75h0.53M293.49 104.25h2.03M295.99 104.25h0.53M292.99 104.75h0.53M293.99 104.75h0.53M295.49 104.75h1.03M292.99 105.25h1.03M294.49 105.25h0.53M295.49 105.25h0.53M293.49 105.75h1.03M295.99 105.75h0.53M292.99 106.25h1.53M293.99 107.25h0.53M292.49 108.75h0.53" stroke="#2337ff"/><path d="M301.99 44.25h1.03M304.99 44.25h1.03M307.99 44.25h0.53M301.99 44.75h0.53M299.99 45.25h0.53M300.99 45.25h0.53M306.99 45.25h1.03M300.49 45.75h0.53M301.99 45.75h0.53M308.49 45.75h1.03M301.49 46.25h1.03M307.49 46.25h0.53M308.49 46.25h0.53M298.99 46.75h0.53M299.99 46.75h0.53M300.99 46.75h0.53M307.99 46.75h0.53M298.49 47.25h1.53M308.49 47.25h0.53M299.99 47.75h0.53M307.49 47.75h0.53M307.49 48.25h0.53M308.49 48.25h0.53M309.49 48.25h0.53M301.49 48.75h0.53M307.99 48.75h0.53M299.49 49.25h0.53M308.99 49.25h0.53M308.99 49.75h0.53M299.99 50.25h0.53M308.99 50.75h1.03M298.49 51.25h1.03M298.49 51.75h1.03M297.99 52.25h1.03M309.49 52.25h0.53M298.49 52.75h1.03M298.99 53.25h0.53M297.49 53.75h0.53M309.49 53.75h0.53M308.99 54.25h2.03M297.49 54.75h1.03M309.49 54.75h0.53M296.99 55.75h1.03M308.99 55.75h0.53M297.49 56.25h0.53M296.99 56.75h1.03M309.49 56.75h0.53M296.99 57.25h1.03M309.49 57.75h1.03M309.49 58.75h0.53M309.49 59.25h0.53M309.99 59.75h1.03M308.99 60.25h0.53M297.99 60.75h0.53M295.99 61.25h0.53M308.99 61.25h0.53M296.49 61.75h0.53M309.49 61.75h0.53M296.49 62.25h0.53M309.99 62.25h0.53M295.99 62.75h0.53M309.99 63.25h0.53M295.49 63.75h0.53M296.49 63.75h1.03M309.49 64.25h0.53M295.99 64.75h0.53M309.49 65.25h1.03M295.99 65.75h0.53M309.49 65.75h1.03M295.99 66.25h0.53M308.99 66.25h1.03M295.99 66.75h0.53M309.49 66.75h0.53M295.99 67.75h0.53M295.99 68.25h0.53M309.49 68.25h0.53M294.99 68.75h0.53M295.99 68.75h0.53M308.99 68.75h0.53M295.99 69.25h0.53M308.99 69.25h1.03M309.49 69.75h0.53M309.49 70.25h0.53M309.99 70.75h0.53M295.49 71.25h0.53M308.99 71.75h0.53M308.99 72.75h0.53M309.49 73.25h0.53M309.49 73.75h0.53M295.49 74.25h0.53M308.99 74.25h0.53M308.99 74.75h0.53M295.49 75.75h0.53M308.99 75.75h0.53M294.49 76.25h0.53M295.99 76.25h0.53M295.49 76.75h0.53M308.99 76.75h0.53M308.99 77.25h0.53M294.99 77.75h0.53M308.99 77.75h0.53M295.49 78.25h0.53M307.49 78.25h0.53M308.49 78.25h1.03M295.49 79.75h0.53M307.99 79.75h0.53M294.99 80.25h1.03M308.49 80.25h0.53M294.99 80.75h0.53M308.49 80.75h0.53M294.99 81.25h0.53M294.99 81.75h0.53M307.99 81.75h1.03M294.49 82.75h0.53M307.99 83.25h0.53M295.49 83.75h0.53M294.49 84.25h1.03M307.99 84.25h0.53M294.49 84.75h1.53M294.99 85.25h0.53M307.49 85.25h0.53M306.99 85.75h1.03M295.49 86.25h0.53M306.99 86.25h0.53M294.49 86.75h1.53M305.99 86.75h0.53M294.99 87.25h0.53M305.99 87.25h0.53M294.49 87.75h0.53M305.99 87.75h0.53M293.99 88.75h0.53M294.99 88.75h0.53M294.49 89.25h0.53M294.49 89.75h0.53M294.49 90.25h0.53M295.49 90.25h0.53M304.99 90.25h0.53M304.99 90.75h1.03M304.99 91.25h1.03M294.99 92.75h0.53M304.49 92.75h0.53M294.49 93.25h1.03M303.49 93.25h0.53M294.49 93.75h0.53M302.99 93.75h1.03M302.99 94.25h0.53M294.49 94.75h0.53M301.99 94.75h0.53M302.99 94.75h1.03M294.99 95.25h0.53M301.49 95.75h1.53M294.49 96.75h1.03M300.49 96.75h0.53M301.99 96.75h0.53M294.49 97.25h0.53M300.99 97.25h0.53M301.99 97.25h0.53M294.99 97.75h0.53M299.99 97.75h2.03M293.99 98.25h1.03M295.49 98.25h0.53M294.49 98.75h0.53M295.99 98.75h0.53M300.49 98.75h0.53M294.49 99.25h0.53M299.49 99.25h1.03M298.49 99.75h0.53M299.49 99.75h1.03M293.99 100.25h0.53M298.99 100.25h1.03M294.49 100.75h0.53M297.99 100.75h0.53M293.49 101.75h1.53M297.99 101.75h0.53M294.99 102.25h0.53M297.49 102.25h0.53M294.49 102.75h0.53M296.99 102.75h0.53M293.49 103.25h0.53M296.49 103.25h0.53M294.49 103.75h0.53M295.99 103.75h0.53M294.99 104.75h0.53M294.99 105.25h0.53M294.99 105.75h0.53M294.99 106.25h0.53" stroke="#1657ff"/><path d="M303.49 44.25h0.53M307.49 44.25h0.53M300.99 44.75h0.53M303.49 44.75h0.53M304.99 44.75h0.53M307.99 45.75h0.53M300.49 46.25h0.53M299.49 46.75h0.53M300.49 46.75h0.53M308.49 46.75h0.53M306.99 47.75h0.53M307.99 47.75h1.03M299.49 48.25h0.53M300.49 48.25h0.53M300.49 48.75h0.53M308.99 48.75h0.53M299.99 49.25h0.53M300.99 49.25h0.53M308.49 49.25h0.53M299.99 49.75h0.53M298.99 50.25h1.03M307.49 50.25h0.53M298.99 50.75h0.53M308.99 51.75h0.53M299.49 52.25h1.03M299.49 52.75h0.53M308.49 52.75h0.53M298.49 53.25h0.53M308.99 53.25h0.53M307.99 53.75h0.53M308.99 53.75h0.53M309.99 53.75h0.53M298.99 54.75h0.53M297.49 55.25h1.53M308.49 55.25h1.53M309.49 55.75h0.53M298.49 56.75h0.53M308.99 56.75h0.53M309.49 57.25h0.53M296.99 57.75h0.53M297.49 58.25h0.53M309.49 58.25h0.53M309.99 58.75h0.53M297.49 59.25h0.53M297.49 59.75h0.53M308.99 59.75h0.53M296.99 60.25h0.53M308.49 60.25h0.53M296.49 60.75h1.53M308.99 60.75h0.53M295.99 61.75h0.53M296.99 61.75h0.53M309.49 62.25h0.53M296.49 62.75h0.53M308.99 63.25h1.03M309.49 63.75h0.53M308.49 64.25h0.53M296.49 64.75h1.03M296.49 65.75h0.53M307.99 65.75h0.53M308.99 65.75h0.53M295.49 66.25h0.53M296.49 66.25h0.53M308.49 66.25h0.53M296.49 67.25h0.53M308.49 67.75h1.03M307.99 68.75h0.53M296.49 69.75h0.53M295.49 70.25h1.53M309.99 71.25h0.53M308.49 71.75h0.53M309.49 71.75h0.53M295.49 72.25h0.53M308.99 72.25h0.53M295.49 72.75h1.03M309.49 72.75h0.53M295.49 73.25h0.53M308.99 73.75h0.53M308.99 75.25h0.53M294.99 76.25h0.53M307.99 76.25h1.53M308.49 76.75h0.53M308.49 77.25h0.53M295.49 77.75h0.53M307.99 77.75h0.53M294.99 78.25h0.53M295.99 78.75h0.53M307.99 78.75h0.53M294.99 79.25h0.53M307.49 80.75h1.03M295.49 81.25h0.53M306.99 81.25h0.53M307.99 81.25h0.53M295.49 82.25h0.53M294.99 82.75h1.03M307.99 82.75h0.53M306.99 83.25h1.03M307.49 83.75h0.53M306.99 84.75h0.53M294.99 86.25h0.53M306.49 86.75h0.53M305.49 87.25h0.53M306.49 87.25h0.53M294.99 87.75h0.53M295.99 87.75h0.53M294.99 88.25h1.53M305.99 88.25h0.53M305.99 88.75h0.53M303.99 89.75h0.53M304.99 89.75h1.03M305.49 90.25h0.53M294.99 90.75h1.03M295.49 91.25h0.53M303.99 91.25h0.53M295.49 91.75h0.53M304.49 91.75h0.53M303.49 92.25h1.03M303.49 92.75h1.03M302.49 93.25h1.03M303.99 93.25h0.53M295.49 93.75h0.53M294.99 94.75h0.53M295.99 94.75h0.53M302.49 94.75h0.53M295.49 95.25h1.03M300.99 95.25h0.53M294.49 95.75h1.03M295.99 95.75h0.53M295.49 96.25h0.53M301.99 96.25h0.53M295.49 96.75h0.53M298.49 96.75h0.53M300.99 96.75h1.03M294.99 97.25h0.53M295.99 97.75h0.53M299.99 98.75h0.53M297.49 99.25h0.53M294.49 99.75h0.53M295.99 99.75h0.53M295.49 100.25h0.53M296.49 100.25h0.53M293.99 100.75h0.53M295.49 100.75h0.53M296.99 100.75h0.53M295.99 101.25h0.53M297.99 101.25h0.53M295.99 101.75h0.53M294.49 102.25h0.53M295.99 102.25h0.53M296.99 102.25h0.53M293.99 102.75h0.53M295.99 102.75h0.53M293.99 103.25h0.53M294.99 103.25h0.53M294.99 103.75h1.03M296.49 103.75h0.53M294.49 104.75h0.53" stroke="#067eff"/><path d="M305.99 44.25h0.53M304.49 44.75h0.53M305.49 44.75h1.53M307.49 44.75h0.53M300.49 45.25h0.53M301.49 45.25h0.53M302.49 45.25h0.53M301.49 45.75h0.53M303.99 45.75h0.53M299.99 46.25h0.53M304.99 46.25h0.53M305.99 46.25h0.53M307.99 46.25h0.53M299.49 47.75h0.53M300.49 47.75h1.03M302.49 47.75h0.53M305.99 47.75h0.53M299.99 48.25h0.53M299.99 48.75h0.53M306.99 48.75h0.53M308.49 48.75h0.53M309.49 48.75h0.53M307.99 49.25h0.53M300.49 49.75h0.53M300.49 50.25h0.53M299.99 50.75h0.53M308.49 50.75h0.53M308.49 51.25h1.03M307.49 52.25h0.53M308.49 52.25h0.53M299.99 52.75h1.03M299.49 53.25h1.03M298.99 53.75h0.53M298.49 54.25h0.53M298.49 54.75h0.53M308.49 54.75h1.03M298.99 55.25h0.53M298.49 55.75h0.53M298.49 56.25h1.03M308.49 56.25h1.53M297.99 56.75h0.53M308.49 56.75h0.53M297.99 57.25h0.53M308.99 57.25h0.53M297.49 57.75h0.53M298.49 57.75h0.53M297.99 58.25h0.53M308.49 58.25h0.53M309.99 58.25h0.53M298.49 58.75h0.53M297.49 60.25h0.53M298.49 61.25h0.53M297.49 61.75h0.53M308.49 61.75h0.53M308.49 62.25h0.53M297.49 62.75h0.53M308.49 62.75h1.53M296.99 63.25h0.53M308.99 63.75h0.53M308.99 64.25h0.53M308.49 64.75h1.03M297.99 65.25h0.53M296.99 65.75h0.53M296.49 66.75h1.03M308.99 66.75h0.53M307.99 67.25h1.03M307.99 67.75h0.53M307.99 69.75h0.53M308.49 70.25h1.03M295.99 70.75h0.53M309.49 70.75h0.53M295.99 71.25h1.53M309.49 71.25h0.53M295.49 71.75h1.03M308.49 72.75h0.53M294.99 73.25h0.53M295.49 73.75h0.53M294.99 74.25h0.53M295.99 74.25h0.53M308.49 74.25h0.53M295.49 74.75h0.53M295.49 75.25h0.53M295.99 75.75h0.53M308.49 75.75h0.53M295.49 76.25h0.53M296.49 76.25h0.53M294.99 76.75h0.53M307.99 76.75h0.53M295.49 77.25h0.53M307.99 77.25h0.53M295.99 77.75h0.53M296.49 78.25h0.53M307.99 78.25h0.53M295.49 78.75h0.53M306.99 78.75h0.53M308.49 78.75h0.53M295.49 79.25h0.53M308.49 79.25h0.53M306.99 80.25h0.53M306.99 80.75h0.53M307.49 81.25h0.53M307.49 81.75h0.53M294.99 82.25h0.53M306.49 82.25h0.53M307.49 82.75h0.53M296.49 83.25h0.53M295.99 83.75h0.53M295.49 84.25h0.53M296.49 84.25h0.53M306.99 84.25h0.53M306.49 85.25h1.03M295.49 85.75h1.03M306.49 85.75h0.53M306.49 86.25h0.53M295.99 86.75h0.53M294.49 87.25h0.53M305.49 87.75h0.53M296.49 88.25h0.53M304.49 88.25h1.53M294.49 88.75h0.53M295.49 88.75h0.53M304.99 88.75h1.03M295.99 89.25h0.53M304.49 89.25h0.53M304.49 90.25h0.53M304.49 91.25h0.53M303.49 91.75h1.03M295.49 92.25h0.53M296.99 92.25h0.53M304.99 92.25h0.53M295.49 92.75h0.53M295.49 93.25h1.03M302.49 93.75h0.53M294.99 94.25h0.53M296.49 94.25h0.53M302.49 94.25h0.53M301.49 94.75h0.53M301.99 95.25h0.53M295.49 95.75h0.53M299.49 95.75h0.53M296.49 96.25h0.53M300.49 96.25h1.03M295.49 97.25h0.53M294.99 98.25h0.53M298.99 98.25h1.03M295.49 98.75h0.53M299.49 98.75h0.53M295.49 99.25h0.53M297.99 99.25h0.53M298.99 99.25h0.53M294.99 99.75h1.03M297.49 99.75h1.03M294.49 100.25h1.03M296.99 100.25h0.53M294.99 101.25h1.03M294.99 101.75h0.53M296.49 101.75h0.53M294.99 102.75h1.03" stroke="#00a6f4"/><path d="M302.99 44.25h0.53M303.99 44.25h1.03M302.49 44.75h1.03M306.99 44.75h0.53M301.99 45.25h0.53M302.99 45.25h0.53M304.49 45.25h0.53M305.99 45.25h1.03M307.99 45.25h0.53M302.49 45.75h0.53M304.49 45.75h0.53M305.99 45.75h1.03M306.99 46.25h0.53M302.99 46.75h0.53M305.99 46.75h0.53M306.99 46.75h1.03M300.49 47.25h0.53M301.49 47.25h0.53M302.49 47.25h0.53M305.49 47.25h0.53M306.99 47.25h1.53M306.49 47.75h0.53M306.99 48.25h0.53M305.49 48.75h0.53M306.49 48.75h0.53M307.49 48.75h0.53M300.49 49.25h0.53M307.49 49.25h0.53M308.49 49.75h0.53M299.49 50.75h0.53M307.99 51.75h1.03M300.49 52.25h0.53M307.99 52.75h0.53M308.99 52.75h0.53M307.99 53.25h1.03M299.49 53.75h1.03M308.49 53.75h0.53M307.99 54.25h1.03M299.49 55.25h0.53M297.99 55.75h0.53M307.99 55.75h1.03M299.49 56.25h1.03M307.99 56.25h0.53M307.99 56.75h0.53M298.49 57.25h0.53M308.49 57.25h0.53M298.99 57.75h0.53M307.49 57.75h0.53M308.49 57.75h0.53M299.49 58.25h0.53M297.49 58.75h0.53M307.99 58.75h0.53M307.99 59.25h0.53M298.49 59.75h0.53M299.99 59.75h0.53M297.49 61.25h0.53M297.99 61.75h0.53M296.99 62.25h0.53M298.49 62.25h0.53M308.99 62.25h0.53M307.99 62.75h0.53M297.49 63.25h0.53M297.49 63.75h0.53M297.99 64.25h0.53M297.99 64.75h0.53M296.49 65.25h0.53M308.49 65.75h0.53M307.99 66.75h0.53M296.49 68.25h0.53M307.99 68.25h0.53M296.49 68.75h0.53M308.99 69.75h0.53M307.99 70.75h0.53M296.49 71.75h0.53M296.49 72.25h1.03M307.49 73.25h1.03M295.99 73.75h1.03M308.49 73.75h0.53M296.49 74.25h0.53M295.99 74.75h1.03M296.99 75.25h0.53M307.99 75.75h0.53M307.49 76.25h0.53M295.99 76.75h0.53M295.99 78.25h0.53M307.49 78.75h0.53M296.49 79.25h0.53M307.99 79.25h0.53M307.49 79.75h0.53M295.99 80.25h0.53M306.49 80.25h0.53M307.49 80.25h0.53M305.99 80.75h0.53M295.99 81.25h0.53M295.99 81.75h0.53M306.49 81.75h0.53M295.99 82.25h1.03M305.49 82.25h0.53M296.49 82.75h0.53M294.99 83.75h0.53M306.49 84.25h0.53M295.99 84.75h0.53M306.49 84.75h0.53M295.49 85.25h1.03M305.99 85.25h0.53M294.99 85.75h0.53M305.99 85.75h0.53M296.49 86.75h0.53M295.49 87.25h1.03M304.99 87.25h0.53M295.49 89.25h0.53M304.99 89.25h1.03M295.49 89.75h1.53M294.99 90.25h0.53M295.99 90.75h0.53M304.49 90.75h0.53M303.49 91.25h0.53M295.99 92.25h1.03M295.99 92.75h1.03M302.49 92.75h0.53M296.99 93.25h0.53M301.49 94.25h0.53M295.49 94.75h0.53M301.49 95.25h0.53M298.99 95.75h0.53M300.49 95.75h1.03M297.49 96.25h0.53M296.99 96.75h1.03M295.99 97.25h1.03M297.49 97.25h1.03M301.49 97.25h0.53M295.49 97.75h0.53M299.49 97.75h0.53M295.99 98.25h0.53M297.99 98.25h1.03M299.99 98.25h1.03M294.99 98.75h0.53M296.49 98.75h0.53M297.99 98.75h1.53M294.99 99.25h0.53M296.49 99.25h1.03M298.49 99.25h0.53M296.49 99.75h0.53M298.99 99.75h0.53M294.99 100.75h0.53M298.99 100.75h0.53M295.49 101.75h0.53M295.49 102.25h0.53M296.49 102.25h0.53" stroke="#00d2e3"/><path d="M303.99 44.75h0.53M303.99 45.25h0.53M304.99 45.25h0.53M305.49 45.75h0.53M307.49 45.75h0.53M302.49 46.25h1.03M303.99 46.25h1.03M306.49 46.25h0.53M301.49 46.75h1.03M303.49 46.75h0.53M305.49 46.75h0.53M301.99 47.25h0.53M302.99 47.25h0.53M303.99 47.25h0.53M305.99 47.25h1.03M302.99 47.75h0.53M301.49 48.25h0.53M303.99 48.25h0.53M306.49 48.25h0.53M301.99 48.75h0.53M302.99 49.25h1.03M306.99 49.25h0.53M304.99 49.75h1.03M307.99 49.75h0.53M303.49 50.25h0.53M308.49 50.25h0.53M300.99 50.75h1.53M307.49 50.75h0.53M299.49 51.25h1.53M307.49 51.25h1.03M299.99 51.75h0.53M298.99 52.25h0.53M302.49 52.25h0.53M306.99 52.25h0.53M307.99 52.25h0.53M307.49 52.75h0.53M298.99 54.25h0.53M307.49 54.25h0.53M299.49 54.75h0.53M307.49 54.75h1.03M299.99 55.75h0.53M298.99 56.75h1.03M307.49 56.75h0.53M297.99 58.75h0.53M298.99 58.75h0.53M308.49 58.75h0.53M307.49 59.75h0.53M297.99 60.25h0.53M308.49 60.75h0.53M296.99 61.25h0.53M307.49 61.25h0.53M308.49 61.25h0.53M307.49 61.75h1.03M308.99 61.75h0.53M297.49 62.25h1.03M307.99 62.25h0.53M298.49 63.75h0.53M307.99 63.75h1.03M307.99 64.25h0.53M297.49 64.75h0.53M306.49 64.75h0.53M296.99 65.25h0.53M307.49 65.25h0.53M308.49 65.25h0.53M307.99 66.25h0.53M297.99 67.25h0.53M306.99 67.25h0.53M308.99 67.25h0.53M296.49 67.75h1.03M307.49 68.25h0.53M296.99 68.75h0.53M308.49 68.75h0.53M296.49 69.25h0.53M297.49 69.25h0.53M307.49 69.75h0.53M307.99 70.25h0.53M296.49 70.75h1.53M307.99 71.25h0.53M307.99 71.75h0.53M295.99 72.25h0.53M308.49 72.25h0.53M295.99 73.25h0.53M307.99 74.75h1.03M307.49 75.25h1.53M296.99 76.25h0.53M307.49 77.25h0.53M297.49 78.25h0.53M306.99 79.25h0.53M296.49 80.25h1.03M295.99 80.75h0.53M295.49 81.75h0.53M296.99 81.75h0.53M297.49 82.75h0.53M306.49 82.75h0.53M295.49 83.25h1.03M296.99 83.25h0.53M305.99 83.75h0.53M306.99 83.75h0.53M295.99 84.25h0.53M305.99 84.75h0.53M297.49 86.25h0.53M296.99 86.75h0.53M304.99 86.75h0.53M295.49 87.75h0.53M304.99 87.75h0.53M303.49 89.25h0.53M302.99 89.75h1.03M304.49 89.75h0.53M295.99 90.25h0.53M302.99 90.25h0.53M303.99 90.75h0.53M296.49 91.25h0.53M296.49 91.75h0.53M301.49 91.75h0.53M297.49 92.25h0.53M299.99 92.25h0.53M301.99 92.25h0.53M296.99 92.75h0.53M298.49 92.75h0.53M302.99 92.75h0.53M301.99 93.25h0.53M296.99 93.75h0.53M301.49 93.75h1.03M295.49 94.25h0.53M301.99 94.25h0.53M296.49 95.25h0.53M297.49 95.25h0.53M297.49 95.75h0.53M294.99 96.25h0.53M298.99 96.25h0.53M299.99 96.25h0.53M295.99 96.75h1.03M299.49 96.75h1.03M299.99 97.25h1.03M297.49 97.75h1.53M296.99 98.25h1.03M296.99 98.75h0.53M295.99 100.25h0.53M297.49 100.25h0.53M295.99 100.75h0.53M297.49 100.75h0.53M297.49 101.25h0.53" stroke="#00dbaa"/><path d="M303.49 45.25h0.53M303.49 45.75h0.53M304.99 45.75h0.53M302.49 46.75h0.53M304.99 46.75h0.53M306.49 46.75h0.53M300.99 47.25h0.53M303.49 47.25h0.53M304.99 47.25h0.53M303.99 47.75h0.53M304.99 47.75h1.03M304.49 48.25h0.53M305.49 48.25h1.03M300.99 48.75h0.53M303.49 48.75h0.53M301.49 49.25h0.53M306.49 49.25h0.53M305.99 49.75h0.53M306.99 49.75h0.53M300.99 50.25h1.03M307.99 50.25h0.53M300.49 50.75h0.53M300.99 51.25h1.03M306.49 51.25h1.03M300.49 51.75h0.53M303.49 51.75h1.03M307.49 51.75h0.53M300.99 52.75h0.53M306.49 53.25h0.53M306.99 54.25h0.53M299.99 55.25h0.53M300.99 55.25h0.53M305.99 55.25h1.53M307.99 55.25h0.53M298.99 55.75h0.53M300.49 55.75h0.53M306.99 55.75h1.03M300.99 56.25h0.53M299.99 56.75h0.53M298.99 57.25h0.53M307.99 57.25h0.53M298.99 58.25h0.53M297.99 59.25h0.53M307.49 59.25h0.53M308.49 59.25h0.53M297.99 59.75h0.53M307.99 59.75h1.03M305.99 60.25h0.53M307.49 60.25h1.03M298.99 60.75h0.53M297.99 61.25h0.53M307.99 61.25h0.53M297.99 62.75h0.53M307.49 62.75h0.53M307.49 63.25h1.03M296.99 64.25h0.53M298.49 64.25h0.53M307.99 64.75h0.53M307.99 65.25h0.53M308.99 65.25h0.53M297.49 65.75h0.53M307.49 65.75h0.53M296.99 66.25h1.03M297.99 66.75h0.53M308.49 69.25h0.53M296.99 69.75h0.53M297.99 69.75h0.53M308.49 69.75h0.53M296.99 70.25h1.03M307.49 70.25h0.53M307.49 71.25h0.53M308.49 71.25h0.53M307.49 71.75h0.53M307.99 72.25h0.53M297.49 72.75h0.53M307.49 72.75h0.53M295.99 75.25h0.53M307.49 75.75h0.53M306.99 76.25h0.53M296.99 76.75h0.53M307.49 76.75h0.53M295.99 77.25h1.53M296.99 77.75h0.53M297.99 78.25h0.53M307.49 79.25h0.53M296.99 79.75h0.53M306.99 79.75h0.53M304.99 80.25h0.53M305.99 80.25h0.53M296.49 81.25h1.03M296.49 81.75h0.53M305.99 81.75h0.53M306.99 81.75h0.53M306.99 82.25h1.03M295.99 82.75h0.53M306.99 82.75h0.53M305.49 83.25h0.53M296.49 83.75h0.53M306.49 83.75h0.53M305.99 84.25h0.53M296.49 85.75h1.03M305.49 85.75h0.53M305.49 86.25h0.53M296.49 87.75h0.53M304.49 87.75h0.53M296.49 88.75h0.53M297.49 88.75h1.03M304.49 88.75h0.53M301.99 89.75h0.53M303.49 90.25h1.03M296.49 90.75h0.53M302.99 90.75h1.03M302.49 91.25h0.53M295.99 91.75h0.53M302.99 91.75h0.53M298.49 92.25h0.53M297.49 92.75h0.53M301.49 92.75h0.53M297.99 93.25h0.53M296.49 93.75h0.53M295.99 94.25h0.53M299.49 94.25h0.53M296.49 94.75h0.53M299.49 94.75h0.53M296.99 95.25h0.53M298.99 95.25h0.53M299.99 95.25h1.03M296.99 95.75h0.53M298.49 95.75h0.53M296.99 96.25h0.53M299.49 96.25h0.53M297.99 96.75h0.53M299.49 97.25h0.53M296.49 97.75h1.03M296.49 98.25h0.53M295.99 99.25h0.53M298.49 100.25h0.53M296.99 101.25h0.53" stroke="#00df68"/><path d="M305.49 45.25h0.53M306.99 45.75h0.53M303.49 46.25h0.53M303.99 46.75h0.53M301.49 47.75h1.03M303.49 47.75h0.53M300.99 48.25h0.53M302.49 48.25h0.53M303.49 48.25h0.53M304.99 48.25h0.53M302.49 48.75h0.53M301.99 49.25h0.53M303.99 49.25h0.53M305.49 49.25h0.53M301.49 49.75h1.03M303.49 49.75h0.53M306.49 49.75h0.53M307.49 49.75h0.53M306.99 50.25h0.53M306.99 50.75h0.53M307.99 50.75h0.53M301.99 51.25h0.53M303.49 51.25h0.53M300.99 51.75h1.03M305.99 52.25h0.53M301.49 52.75h0.53M306.49 52.75h0.53M302.49 53.25h0.53M300.49 53.75h0.53M299.49 54.25h1.53M306.49 54.25h0.53M301.49 54.75h0.53M303.99 54.75h0.53M305.49 54.75h0.53M299.49 55.75h0.53M306.99 56.25h0.53M301.99 56.75h0.53M300.49 57.25h0.53M306.49 57.25h1.53M307.99 58.25h0.53M298.49 59.25h0.53M299.49 59.25h0.53M298.99 60.25h0.53M300.49 60.25h0.53M307.49 60.75h0.53M306.99 62.25h0.53M297.99 63.25h1.03M297.49 64.25h0.53M306.99 64.25h0.53M298.99 64.75h0.53M307.49 64.75h0.53M298.49 65.75h0.53M297.99 66.25h0.53M299.49 66.25h0.53M296.99 67.25h0.53M298.49 67.25h0.53M297.49 67.75h0.53M296.99 68.25h1.03M297.49 68.75h1.53M296.99 69.25h0.53M307.99 69.25h0.53M297.49 69.75h0.53M306.49 70.25h0.53M307.49 70.75h0.53M308.49 70.75h1.03M296.99 71.75h0.53M306.99 72.25h0.53M296.49 72.75h0.53M306.49 72.75h1.03M307.99 72.75h0.53M296.49 73.25h1.03M307.99 73.75h0.53M296.99 74.25h0.53M307.99 74.25h0.53M296.99 74.75h0.53M306.99 76.75h0.53M297.49 77.25h0.53M296.49 77.75h0.53M306.99 77.75h0.53M306.49 78.25h1.03M296.49 78.75h0.53M295.99 79.75h0.53M306.49 79.75h0.53M297.99 81.25h0.53M304.99 83.75h0.53M297.49 84.75h0.53M295.99 86.25h0.53M304.49 86.25h0.53M305.99 86.25h0.53M297.99 86.75h0.53M299.49 86.75h0.53M305.49 86.75h0.53M296.49 87.25h1.03M296.99 87.75h0.53M303.99 88.25h0.53M298.49 88.75h0.53M296.99 89.25h1.03M303.99 89.25h0.53M296.49 90.25h1.03M302.49 90.25h0.53M296.99 90.75h0.53M295.99 91.25h0.53M297.49 91.25h0.53M296.99 91.75h0.53M300.99 92.25h1.03M302.99 92.25h0.53M297.99 92.75h0.53M299.99 93.25h0.53M298.99 93.75h0.53M296.99 94.25h0.53M297.99 94.25h0.53M299.99 94.25h0.53M300.99 94.25h0.53M298.99 94.75h0.53M299.49 95.25h0.53M295.99 96.25h0.53M298.99 97.75h0.53M297.99 100.25h0.53M296.49 100.75h0.53" stroke="#07e242"/><path d="M302.99 45.75h0.53M304.49 46.75h0.53M301.99 48.25h0.53M303.99 48.75h0.53M304.99 48.75h0.53M305.99 48.75h0.53M304.49 49.25h0.53M300.99 49.75h0.53M302.99 49.75h0.53M303.99 49.75h1.03M305.49 50.25h0.53M302.49 51.25h0.53M305.49 51.25h0.53M302.49 51.75h0.53M305.49 51.75h0.53M300.99 52.25h1.03M305.49 52.25h0.53M304.99 52.75h0.53M306.99 52.75h0.53M301.99 53.25h0.53M303.99 53.25h0.53M306.99 53.25h1.03M301.49 53.75h0.53M303.99 53.75h0.53M305.99 53.75h0.53M300.99 54.75h0.53M300.99 56.75h0.53M305.99 56.75h0.53M299.49 57.25h0.53M299.99 57.75h0.53M305.49 57.75h0.53M306.49 57.75h1.03M298.49 58.25h0.53M306.99 58.75h1.03M298.99 59.25h0.53M298.99 59.75h1.03M298.49 60.25h0.53M299.49 60.25h0.53M298.49 60.75h0.53M307.99 60.75h0.53M298.99 61.25h0.53M304.99 61.25h0.53M306.99 61.75h0.53M307.49 62.25h0.53M298.49 62.75h0.53M298.99 63.25h0.53M308.49 63.25h0.53M297.99 63.75h0.53M307.49 64.25h0.53M306.99 65.75h0.53M307.49 66.25h0.53M306.99 66.75h1.03M308.49 66.75h0.53M307.49 67.75h0.53M308.49 68.25h0.53M306.99 68.75h1.03M306.99 69.25h1.03M306.49 71.75h0.53M307.49 72.25h0.53M296.99 72.75h0.53M297.49 73.25h0.53M296.99 73.75h0.53M306.99 73.75h1.03M296.49 75.25h0.53M296.49 75.75h0.53M298.49 76.25h0.53M306.49 77.25h0.53M307.49 77.75h0.53M296.99 78.25h0.53M305.49 79.25h1.53M298.49 79.75h0.53M304.99 80.75h0.53M305.49 81.25h0.53M306.49 81.25h0.53M297.99 81.75h0.53M297.99 82.25h0.53M304.99 82.75h1.03M306.49 83.25h0.53M305.49 83.75h0.53M304.49 84.25h0.53M296.49 85.25h1.03M305.49 85.25h0.53M296.99 86.25h0.53M304.99 86.25h0.53M303.99 86.75h0.53M297.49 87.25h0.53M304.49 87.25h0.53M297.99 87.75h0.53M303.99 87.75h0.53M301.99 88.25h0.53M295.99 88.75h0.53M303.99 88.75h0.53M296.49 89.25h0.53M302.99 89.25h0.53M296.99 89.75h1.53M299.49 89.75h0.53M297.49 90.75h0.53M302.99 91.25h0.53M297.49 91.75h0.53M302.49 91.75h0.53M300.49 92.25h0.53M299.99 92.75h1.53M296.49 93.25h0.53M297.49 93.25h0.53M300.49 93.25h0.53M298.49 93.75h0.53M300.49 93.75h0.53M300.49 94.25h0.53M297.49 94.75h1.03M300.49 94.75h1.03M298.49 95.25h0.53M297.99 95.75h0.53M299.99 95.75h0.53M297.99 96.25h0.53M298.99 96.75h0.53M296.99 97.25h0.53M298.49 97.25h0.53M297.49 98.75h0.53M296.99 99.75h0.53" stroke="#14e339"/><path d="M305.49 46.25h0.53M304.49 47.25h0.53M304.49 47.75h0.53M302.99 48.25h0.53M305.99 49.25h0.53M302.49 49.75h0.53M302.49 50.25h1.03M304.49 50.25h0.53M305.99 50.25h0.53M302.49 50.75h0.53M305.99 50.75h0.53M305.99 51.25h0.53M301.99 51.75h0.53M304.99 51.75h0.53M306.99 51.75h0.53M306.49 52.25h0.53M300.49 53.25h1.03M304.99 53.25h1.53M301.99 53.75h0.53M304.49 53.75h0.53M306.99 53.75h1.03M301.49 54.25h0.53M302.49 54.25h0.53M305.99 54.25h0.53M299.99 54.75h0.53M301.99 54.75h1.03M306.49 54.75h0.53M302.99 55.25h0.53M305.99 55.75h0.53M301.49 56.25h0.53M302.99 56.25h0.53M304.99 56.25h0.53M306.49 56.25h0.53M306.99 56.75h0.53M299.99 57.25h0.53M299.49 57.75h0.53M300.49 57.75h0.53M307.99 57.75h0.53M307.49 58.25h0.53M308.99 58.25h0.53M299.49 58.75h0.53M300.99 58.75h0.53M300.49 59.25h0.53M306.99 59.25h0.53M306.49 59.75h0.53M306.49 61.25h0.53M298.49 61.75h1.03M299.99 61.75h0.53M299.49 62.25h1.03M305.49 62.75h0.53M306.49 63.75h0.53M306.49 64.25h0.53M297.49 65.25h0.53M299.49 65.25h0.53M306.99 65.25h0.53M297.99 65.75h0.53M306.49 65.75h0.53M306.99 66.25h0.53M297.49 66.75h0.53M299.99 67.25h0.53M307.49 67.25h0.53M297.99 67.75h0.53M305.99 67.75h0.53M297.99 68.25h0.53M297.99 69.25h0.53M306.49 69.25h0.53M297.99 70.25h0.53M306.99 70.25h0.53M306.99 70.75h0.53M297.49 71.75h0.53M306.49 72.25h0.53M297.99 72.75h0.53M297.99 73.25h0.53M306.49 73.25h0.53M297.49 73.75h0.53M297.49 75.25h0.53M306.99 75.25h0.53M297.99 75.75h0.53M305.99 75.75h0.53M306.99 75.75h0.53M306.49 76.25h0.53M297.99 76.75h0.53M305.99 77.25h0.53M306.99 77.25h0.53M297.99 77.75h0.53M297.49 78.75h0.53M295.99 79.25h0.53M296.99 79.25h1.03M305.99 79.75h0.53M296.49 80.75h0.53M297.49 80.75h0.53M305.99 81.25h0.53M297.49 81.75h0.53M296.99 82.25h0.53M304.99 82.25h0.53M305.99 82.25h0.53M305.99 82.75h0.53M298.49 83.25h0.53M305.99 83.25h0.53M296.99 84.25h1.03M303.49 84.25h0.53M304.99 84.25h1.03M296.99 84.75h0.53M305.49 84.75h0.53M297.49 85.25h0.53M303.99 85.75h0.53M298.49 86.25h0.53M297.49 86.75h0.53M297.99 87.25h0.53M303.99 87.25h0.53M297.49 87.75h0.53M298.49 87.75h0.53M297.99 88.25h0.53M296.99 88.75h0.53M297.99 89.25h0.53M302.49 89.75h0.53M297.49 90.25h0.53M300.99 90.25h0.53M301.99 90.75h0.53M299.49 91.25h0.53M300.99 91.25h0.53M298.49 91.75h0.53M298.99 92.25h0.53M298.99 92.75h0.53M295.99 93.75h0.53M297.49 93.75h0.53M299.49 93.75h0.53M297.49 94.25h0.53M298.49 94.25h1.03M297.99 95.25h0.53M298.49 96.25h0.53M298.99 97.25h0.53" stroke="#22e530"/><path d="M302.99 48.75h0.53M304.49 48.75h0.53M301.99 50.25h0.53M306.49 50.25h0.53M304.49 50.75h0.53M306.49 50.75h0.53M302.99 51.25h0.53M304.49 51.75h0.53M303.49 52.25h0.53M300.99 53.75h0.53M301.99 54.25h0.53M300.49 54.75h0.53M306.99 54.75h0.53M301.49 55.25h0.53M307.49 55.25h0.53M303.99 55.75h1.03M300.49 56.25h0.53M304.49 56.25h0.53M304.49 57.25h0.53M305.99 57.25h0.53M301.49 57.75h0.53M300.49 58.25h1.03M302.99 58.75h0.53M303.99 58.75h0.53M306.49 58.75h0.53M299.99 59.25h0.53M306.99 60.25h0.53M299.99 60.75h0.53M305.99 60.75h0.53M306.99 60.75h0.53M306.99 61.25h0.53M306.49 62.25h0.53M298.99 62.75h0.53M300.49 62.75h0.53M305.99 62.75h0.53M306.99 63.25h0.53M299.49 63.75h0.53M306.99 63.75h0.53M298.49 64.75h0.53M306.99 64.75h0.53M300.49 65.25h0.53M298.99 66.25h0.53M298.99 66.75h0.53M305.49 66.75h0.53M298.49 67.75h0.53M298.99 68.25h0.53M298.49 69.25h0.53M299.99 69.75h0.53M306.99 69.75h0.53M305.49 70.25h0.53M305.99 71.25h0.53M306.99 71.25h0.53M297.99 71.75h0.53M306.99 71.75h0.53M305.99 73.25h0.53M297.49 74.25h0.53M297.99 74.75h0.53M307.49 74.75h0.53M305.49 75.25h0.53M306.49 75.25h0.53M297.49 76.25h0.53M296.49 76.75h0.53M298.99 76.75h0.53M297.49 77.75h0.53M296.99 78.75h0.53M306.49 78.75h0.53M299.49 79.75h0.53M297.99 80.25h0.53M305.49 80.25h0.53M296.99 80.75h0.53M297.99 80.75h0.53M298.49 81.75h0.53M296.99 82.75h0.53M297.99 82.75h0.53M303.99 83.25h0.53M297.99 83.75h0.53M299.49 83.75h1.03M302.99 84.25h0.53M296.49 84.75h0.53M303.99 85.25h0.53M304.99 85.25h0.53M303.99 86.25h0.53M303.49 87.75h0.53M296.99 88.25h0.53M298.49 88.25h0.53M303.49 88.75h0.53M301.99 90.25h0.53M298.49 90.75h0.53M300.49 90.75h1.03M302.49 90.75h0.53M296.99 91.25h0.53M298.49 91.25h0.53M301.49 91.25h1.03M299.99 91.75h0.53M299.49 92.25h0.53M302.49 92.25h0.53M299.49 92.75h0.53M301.99 92.75h0.53M298.49 93.25h1.03M300.99 93.25h0.53M297.99 93.75h0.53M299.99 93.75h0.53M300.99 93.75h0.53M296.99 94.75h0.53M298.49 94.75h0.53M296.49 95.75h0.53" stroke="#32e726"/><path d="M302.49 49.25h0.53M304.99 50.75h1.03M304.99 51.25h0.53M305.99 51.75h0.53M302.99 52.75h0.53M303.49 53.25h0.53M304.49 53.25h0.53M302.99 53.75h0.53M304.99 53.75h0.53M306.49 53.75h0.53M300.99 54.25h0.53M305.49 54.25h0.53M304.99 55.25h0.53M300.99 55.75h0.53M304.99 55.75h0.53M302.49 56.25h0.53M305.49 56.25h1.03M307.49 56.25h0.53M304.49 56.75h0.53M305.49 57.25h0.53M299.99 58.25h0.53M303.99 58.25h0.53M306.49 58.25h1.03M299.99 58.75h0.53M301.49 58.75h0.53M300.99 59.25h0.53M299.49 60.75h0.53M305.49 60.75h0.53M306.49 60.75h0.53M299.99 61.25h0.53M300.99 61.25h0.53M305.99 61.75h0.53M299.49 62.75h0.53M305.99 63.25h0.53M300.99 64.25h0.53M305.49 64.25h0.53M298.49 65.25h0.53M302.49 65.25h0.53M299.99 66.75h0.53M297.49 67.25h0.53M298.99 67.25h0.53M306.99 67.75h0.53M298.49 68.25h0.53M306.49 68.25h1.03M304.99 68.75h0.53M306.49 68.75h0.53M299.99 70.25h0.53M297.99 70.75h0.53M297.49 71.25h0.53M297.49 72.25h1.03M305.99 72.25h0.53M305.99 73.75h1.03M307.49 74.25h0.53M299.49 74.75h0.53M306.49 74.75h0.53M297.99 75.25h0.53M296.99 75.75h0.53M304.99 76.25h1.03M305.99 76.75h0.53M297.99 77.25h0.53M305.49 77.75h0.53M306.49 77.75h0.53M305.99 78.25h0.53M305.49 78.75h1.03M296.49 79.75h0.53M303.99 79.75h0.53M304.99 79.75h0.53M306.49 80.75h0.53M298.99 81.25h0.53M304.99 81.25h0.53M300.49 81.75h0.53M301.99 81.75h0.53M297.49 82.25h0.53M299.49 82.75h0.53M297.49 83.25h1.03M304.49 83.25h0.53M304.49 83.75h0.53M298.49 84.25h0.53M303.99 84.25h0.53M297.99 84.75h0.53M304.99 84.75h0.53M297.99 85.25h0.53M301.99 85.75h0.53M296.49 86.25h0.53M298.49 86.75h0.53M304.49 86.75h0.53M300.49 87.25h0.53M302.49 87.75h0.53M300.49 88.25h1.03M298.99 88.75h0.53M298.49 89.25h1.53M302.49 89.25h0.53M298.49 89.75h0.53M301.49 89.75h0.53M297.99 90.25h0.53M298.99 90.25h0.53M299.99 90.25h0.53M298.99 90.75h0.53M298.99 91.25h0.53M300.99 91.75h0.53M301.49 93.25h0.53M299.99 94.75h0.53" stroke="#42e91c"/><path d="M304.99 49.25h0.53M303.99 50.25h0.53M304.99 50.25h0.53M302.99 50.75h0.53M303.99 50.75h0.53M303.99 51.25h0.53M302.99 52.25h0.53M304.49 52.25h1.03M301.99 52.75h0.53M305.99 52.75h0.53M303.49 53.75h0.53M304.99 54.25h0.53M304.99 54.75h0.53M300.49 55.25h0.53M301.99 55.25h0.53M301.99 55.75h1.53M306.49 55.75h0.53M300.49 56.75h0.53M306.49 56.75h0.53M300.99 57.25h0.53M301.99 57.75h0.53M300.49 58.75h0.53M304.49 58.75h0.53M301.99 59.25h0.53M301.49 60.25h0.53M306.49 60.25h0.53M300.49 60.75h0.53M299.49 61.75h0.53M300.49 61.75h0.53M303.49 61.75h0.53M306.49 62.75h0.53M299.49 63.25h0.53M299.49 64.25h0.53M300.49 64.25h0.53M299.49 64.75h0.53M305.99 64.75h0.53M298.99 65.75h1.03M298.49 66.25h0.53M300.99 66.25h0.53M300.49 66.75h0.53M299.49 67.25h0.53M298.99 67.75h0.53M306.49 67.75h0.53M305.49 68.75h0.53M305.99 69.25h0.53M305.99 69.75h1.03M297.99 71.25h0.53M306.49 71.25h0.53M298.49 71.75h0.53M298.49 72.25h0.53M304.99 72.25h0.53M297.99 74.25h0.53M299.49 74.25h0.53M306.99 74.25h0.53M305.99 74.75h0.53M298.49 75.25h0.53M299.49 75.25h0.53M298.49 75.75h0.53M306.49 76.75h0.53M298.49 77.75h1.03M300.99 77.75h0.53M303.49 77.75h0.53M297.99 78.75h1.03M304.99 78.75h0.53M297.99 79.25h0.53M304.99 79.25h0.53M305.49 79.75h0.53M305.49 80.75h0.53M298.49 81.25h0.53M304.99 81.75h1.03M299.99 83.25h0.53M304.99 83.25h0.53M296.99 83.75h1.03M303.99 83.75h0.53M297.99 84.25h0.53M298.49 84.75h0.53M304.49 84.75h0.53M301.99 85.25h0.53M304.49 85.25h0.53M297.49 85.75h0.53M298.49 85.75h0.53M302.49 85.75h0.53M303.49 85.75h0.53M304.99 85.75h0.53M297.99 86.25h0.53M299.49 86.25h1.03M303.49 86.75h0.53M298.99 87.25h0.53M300.99 87.25h0.53M303.49 87.25h0.53M299.49 87.75h0.53M300.99 87.75h1.03M298.99 88.25h0.53M302.49 88.75h0.53M300.99 89.25h1.53M299.99 89.75h0.53M301.49 90.25h0.53M297.99 90.75h0.53M300.49 91.25h0.53M299.49 91.75h0.53M301.99 91.75h0.53M299.49 93.25h0.53" stroke="#53eb11"/><path d="M304.49 51.25h0.53M302.99 51.75h0.53M306.49 51.75h0.53M302.49 52.75h0.53M303.99 52.75h1.03M301.49 53.25h0.53M302.99 53.25h0.53M303.49 54.25h0.53M302.99 54.75h1.03M302.49 55.25h0.53M304.49 55.25h0.53M301.99 56.25h0.53M303.99 56.25h0.53M302.49 56.75h0.53M301.49 57.25h0.53M302.49 57.25h0.53M302.49 57.75h0.53M303.99 57.75h0.53M304.99 57.75h0.53M305.99 57.75h0.53M301.99 58.25h0.53M302.49 58.75h0.53M304.99 59.25h0.53M300.49 59.75h0.53M302.49 60.25h0.53M305.49 60.25h0.53M299.49 61.25h0.53M304.99 61.75h0.53M305.99 62.25h0.53M304.49 62.75h0.53M300.99 63.25h0.53M306.49 63.25h0.53M298.99 63.75h0.53M300.49 63.75h0.53M307.49 63.75h0.53M301.99 64.25h0.53M300.99 64.75h0.53M298.99 65.25h0.53M299.99 65.75h0.53M304.99 65.75h0.53M305.99 65.75h0.53M306.49 66.25h0.53M298.49 66.75h0.53M305.99 66.75h0.53M305.99 67.25h0.53M299.49 67.75h0.53M299.49 68.75h0.53M305.99 68.75h0.53M298.99 69.25h0.53M304.99 69.25h1.03M303.99 69.75h0.53M304.99 69.75h0.53M298.99 70.25h0.53M303.49 70.75h0.53M306.49 70.75h0.53M299.49 72.75h0.53M305.99 72.75h0.53M304.99 73.25h0.53M306.99 74.75h0.53M304.49 75.75h1.03M297.99 76.25h0.53M298.99 76.25h0.53M303.99 76.25h1.03M297.49 76.75h0.53M299.49 76.75h0.53M299.49 77.75h0.53M304.49 78.75h0.53M298.99 79.25h0.53M299.99 79.25h0.53M302.99 79.25h0.53M304.49 79.25h0.53M297.49 80.25h0.53M304.49 80.25h0.53M298.49 80.75h0.53M300.49 80.75h0.53M302.49 81.25h0.53M303.99 81.25h0.53M298.49 82.25h0.53M298.99 82.75h0.53M298.99 83.25h0.53M302.49 84.25h0.53M302.99 84.75h1.03M299.99 85.25h0.53M300.99 85.25h0.53M299.99 85.75h0.53M298.99 86.25h0.53M300.49 87.75h0.53M302.49 88.25h1.53M299.49 88.75h0.53M300.49 88.75h0.53M301.49 90.75h0.53M297.99 91.25h0.53" stroke="#66ed05"/><path d="M303.49 50.75h0.53M305.49 53.75h0.53M303.99 54.25h1.03M305.49 55.25h0.53M301.49 56.75h0.53M303.49 56.75h0.53M305.49 56.75h0.53M301.99 57.25h0.53M302.99 57.25h0.53M304.99 58.25h1.03M304.99 59.75h0.53M299.99 60.25h0.53M304.99 60.25h0.53M300.99 60.75h0.53M301.49 61.25h0.53M305.49 61.75h0.53M298.99 62.25h0.53M302.49 62.25h0.53M299.99 62.75h0.53M306.99 62.75h0.53M300.99 63.75h0.53M305.99 63.75h0.53M298.99 64.25h0.53M306.49 65.25h0.53M300.49 65.75h0.53M299.99 66.25h0.53M305.49 66.25h1.03M306.49 67.25h0.53M299.99 68.25h0.53M303.99 68.75h0.53M299.49 69.25h0.53M304.99 70.25h0.53M305.99 70.25h0.53M305.99 71.75h0.53M299.99 72.25h1.03M298.99 72.75h0.53M298.99 73.25h0.53M305.49 73.25h0.53M298.99 73.75h0.53M298.99 74.25h0.53M298.99 74.75h0.53M298.99 75.25h0.53M302.49 75.25h0.53M305.99 75.25h0.53M297.49 75.75h0.53M306.49 75.75h0.53M298.49 76.75h0.53M304.99 76.75h0.53M301.49 77.25h0.53M305.99 77.75h0.53M302.99 78.25h0.53M303.99 78.25h0.53M304.99 78.25h0.53M302.49 78.75h0.53M297.99 79.75h0.53M298.99 79.75h0.53M299.99 80.25h0.53M303.99 80.25h0.53M304.49 80.75h0.53M297.49 81.25h0.53M304.49 81.25h0.53M304.49 82.75h0.53M302.49 83.25h0.53M303.49 83.25h0.53M301.99 83.75h0.53M300.49 84.25h0.53M302.49 84.75h0.53M302.49 85.25h0.53M298.99 85.75h0.53M301.99 86.25h1.03M302.99 87.25h0.53M298.99 87.75h0.53M299.99 88.75h0.53M300.99 89.75h0.53M297.99 91.75h0.53M298.99 91.75h0.53M297.99 92.25h0.53" stroke="#79ef00"/><path d="M301.99 52.25h0.53M303.49 52.75h0.53M305.49 52.75h0.53M302.49 53.75h0.53M303.49 55.25h0.53M301.49 55.75h0.53M302.99 56.75h0.53M304.99 57.25h0.53M300.99 57.75h0.53M302.99 57.75h0.53M301.49 58.25h0.53M302.49 58.25h0.53M304.49 58.25h0.53M305.49 58.75h0.53M302.49 59.25h0.53M303.99 59.25h1.03M305.49 59.25h0.53M303.99 59.75h0.53M306.99 59.75h0.53M303.99 60.25h1.03M302.49 60.75h1.03M301.99 61.25h0.53M304.49 61.25h0.53M306.49 61.75h0.53M301.49 62.25h0.53M305.49 62.25h0.53M304.99 62.75h0.53M301.49 63.25h0.53M305.49 63.25h0.53M301.99 63.75h0.53M305.49 63.75h0.53M299.99 64.25h0.53M304.49 64.25h0.53M299.99 64.75h1.03M305.99 65.25h0.53M299.49 66.75h0.53M302.99 66.75h0.53M306.49 66.75h0.53M301.49 67.25h0.53M302.49 67.25h0.53M304.99 67.75h0.53M305.49 68.25h0.53M298.99 69.75h0.53M301.49 69.75h0.53M299.99 70.75h0.53M298.49 71.25h0.53M304.99 71.25h0.53M299.49 71.75h0.53M302.99 71.75h0.53M305.49 71.75h0.53M304.49 72.75h0.53M300.99 73.75h0.53M305.49 73.75h0.53M304.49 74.25h0.53M305.99 74.25h1.03M305.49 74.75h0.53M301.99 75.25h0.53M298.99 75.75h0.53M298.49 77.25h0.53M304.49 77.25h1.03M299.99 77.75h0.53M304.99 77.75h0.53M300.49 78.75h0.53M303.49 78.75h0.53M298.49 80.25h0.53M303.49 80.25h0.53M299.99 81.25h0.53M302.99 81.25h0.53M303.99 81.75h0.53M299.49 82.25h1.03M304.49 82.25h0.53M302.99 82.75h1.03M298.99 84.25h0.53M301.49 84.25h0.53M298.99 84.75h0.53M301.49 85.25h0.53M303.49 85.25h0.53M304.49 85.75h0.53M300.99 86.25h0.53M302.99 86.25h1.03M298.99 86.75h0.53M302.49 86.75h0.53M299.49 87.25h1.03M297.49 88.25h0.53M299.49 88.25h0.53M301.49 88.25h0.53M301.49 88.75h0.53M302.99 88.75h0.53M300.49 89.75h0.53M299.49 90.25h0.53M299.99 91.25h0.53" stroke="#8ef100"/><path d="M303.99 52.25h0.53M302.99 54.25h0.53M303.49 57.25h0.53M303.49 57.75h0.53M304.49 57.75h0.53M303.49 58.25h0.53M305.99 58.25h0.53M301.99 58.75h0.53M301.49 59.25h0.53M305.99 59.75h0.53M300.99 60.25h0.53M302.99 60.25h0.53M304.99 60.75h0.53M300.49 61.25h0.53M302.99 61.25h0.53M300.99 61.75h0.53M301.99 62.25h0.53M304.99 62.25h0.53M302.49 63.75h1.03M302.99 64.25h0.53M303.49 64.75h1.03M305.49 64.75h0.53M302.99 65.25h0.53M303.99 65.25h0.53M305.49 65.75h0.53M300.99 66.75h0.53M302.49 66.75h0.53M304.99 66.75h0.53M300.49 67.25h0.53M299.49 68.25h0.53M300.49 68.25h0.53M305.99 68.25h0.53M299.99 68.75h0.53M302.49 69.25h0.53M304.49 69.25h0.53M305.99 70.75h0.53M298.99 71.25h0.53M305.49 71.25h0.53M298.99 71.75h0.53M300.49 71.75h1.03M303.99 71.75h0.53M303.99 72.75h0.53M304.99 72.75h1.03M297.99 73.75h0.53M298.49 74.25h0.53M297.49 74.75h0.53M298.49 74.75h0.53M302.49 75.75h0.53M299.49 76.25h0.53M304.49 76.75h0.53M299.99 78.25h0.53M299.49 78.75h0.53M302.99 78.75h0.53M298.49 79.25h0.53M299.49 79.25h0.53M300.99 79.75h0.53M304.49 79.75h0.53M301.49 80.25h0.53M300.99 80.75h0.53M303.49 81.25h0.53M300.99 81.75h0.53M304.49 81.75h0.53M298.99 82.25h0.53M300.49 82.75h0.53M303.99 82.75h0.53M300.49 83.25h0.53M302.99 83.25h0.53M301.49 83.75h0.53M299.99 84.25h0.53M298.49 85.25h0.53M299.49 85.25h0.53M302.99 85.25h0.53M297.99 85.75h0.53M299.99 86.75h1.53M301.99 86.75h0.53M302.99 86.75h0.53M300.99 88.75h0.53M301.99 88.75h0.53M299.99 89.25h0.53M298.49 90.25h0.53M299.99 90.75h0.53M300.49 91.75h0.53" stroke="#a4f300"/><path d="M304.49 54.75h0.53M305.49 55.75h0.53M303.49 56.25h0.53M303.99 57.25h0.53M303.49 58.75h0.53M304.99 58.75h0.53M302.99 59.25h0.53M305.99 59.25h1.03M301.49 59.75h0.53M302.99 59.75h0.53M304.49 59.75h0.53M303.49 60.75h0.53M302.49 61.25h0.53M303.99 61.25h0.53M305.99 61.25h0.53M301.99 61.75h0.53M301.99 62.75h1.03M299.99 63.25h0.53M304.99 63.25h0.53M304.49 64.75h0.53M305.49 65.25h0.53M301.49 65.75h0.53M302.49 65.75h0.53M304.49 65.75h0.53M302.49 68.25h0.53M304.99 68.25h0.53M300.99 68.75h0.53M304.49 69.75h0.53M298.49 70.25h0.53M299.49 70.25h0.53M301.49 70.25h0.53M298.99 70.75h0.53M300.49 71.25h0.53M301.99 71.75h0.53M298.99 72.25h0.53M301.99 72.25h0.53M302.49 72.75h0.53M298.49 73.25h0.53M299.99 73.25h0.53M302.99 73.25h0.53M299.49 73.75h0.53M300.49 73.75h0.53M301.49 74.75h0.53M300.49 75.25h0.53M303.99 75.25h0.53M299.49 75.75h0.53M300.49 76.25h1.03M305.99 76.25h0.53M305.49 76.75h0.53M299.49 77.25h0.53M298.99 78.25h0.53M300.99 78.75h0.53M300.99 79.25h0.53M297.49 79.75h0.53M299.49 80.25h0.53M303.99 80.75h0.53M303.49 81.75h0.53M303.99 82.25h0.53M302.49 82.75h0.53M298.49 83.75h0.53M302.99 83.75h0.53M300.99 84.25h0.53M299.49 84.75h0.53M300.49 84.75h0.53M301.49 86.25h0.53M301.49 86.75h0.53M301.49 87.25h1.03M302.99 87.75h0.53" stroke="#bbf500"/><path d="M305.99 54.75h0.53M303.49 55.75h0.53M303.99 56.75h0.53M305.99 58.75h0.53M301.99 59.75h0.53M305.49 61.25h0.53M301.49 61.75h0.53M302.49 61.75h0.53M304.49 61.75h0.53M300.49 62.25h0.53M304.49 62.25h0.53M299.99 63.75h0.53M301.49 63.75h0.53M304.99 64.25h0.53M299.99 65.25h0.53M303.49 65.75h0.53M302.49 66.25h1.53M303.49 67.25h0.53M305.49 67.25h0.53M301.99 67.75h0.53M304.49 67.75h0.53M300.99 68.25h0.53M298.99 68.75h0.53M300.49 70.25h0.53M301.99 70.25h0.53M301.99 70.75h0.53M304.99 70.75h1.03M304.49 71.75h0.53M300.99 72.25h0.53M303.49 72.25h0.53M305.49 72.25h0.53M298.49 72.75h0.53M300.49 74.25h0.53M304.99 74.25h0.53M301.99 74.75h0.53M303.49 74.75h0.53M304.49 75.25h0.53M302.99 75.75h0.53M305.49 75.75h0.53M303.49 76.75h0.53M302.49 77.25h0.53M304.49 77.75h0.53M300.49 78.25h0.53M299.99 78.75h0.53M300.49 79.25h0.53M302.49 79.25h0.53M299.99 79.75h0.53M298.99 80.25h0.53M302.99 80.25h0.53M298.99 80.75h0.53M299.99 80.75h0.53M299.99 81.75h0.53M301.49 81.75h0.53M298.99 83.75h0.53M303.99 84.75h0.53M301.49 85.75h0.53M302.99 85.75h0.53M298.49 87.25h0.53M302.49 87.25h0.53M299.99 87.75h0.53" stroke="#d8f100"/><path d="M303.99 55.25h0.53M302.99 58.25h0.53M300.99 59.75h0.53M301.99 60.25h0.53M304.49 60.75h0.53M303.49 61.25h0.53M301.99 63.25h0.53M303.99 63.75h0.53M303.99 64.25h0.53M301.49 64.75h0.53M301.99 65.25h0.53M300.49 66.25h0.53M299.99 67.75h1.03M305.49 67.75h0.53M304.49 68.25h0.53M301.49 69.25h0.53M303.49 69.25h0.53M298.49 69.75h0.53M300.99 69.75h0.53M300.99 70.25h0.53M303.49 70.25h0.53M300.49 70.75h0.53M304.49 70.75h0.53M301.99 71.25h0.53M303.99 71.25h0.53M299.99 71.75h0.53M301.49 71.75h0.53M304.99 71.75h0.53M299.49 72.25h0.53M301.99 72.75h0.53M306.99 73.25h0.53M298.49 73.75h0.53M304.99 73.75h0.53M299.99 74.25h0.53M299.99 74.75h1.03M304.49 74.75h0.53M299.99 75.25h0.53M303.49 75.25h0.53M299.99 76.75h0.53M300.49 77.25h0.53M305.49 77.25h0.53M300.49 77.75h0.53M301.99 78.25h0.53M303.99 78.75h0.53M301.99 80.25h0.53M299.49 81.25h0.53M301.49 81.25h0.53M298.49 82.75h0.53M299.99 82.75h0.53M300.99 83.25h0.53M301.99 83.25h0.53M300.49 83.75h0.53M302.49 83.75h0.53M301.99 84.25h0.53M301.99 84.75h0.53M299.49 85.75h0.53M300.99 85.75h0.53" stroke="#f6ec00"/><path d="M302.49 59.75h0.53M303.49 60.25h0.53M302.99 62.25h0.53M303.99 62.25h0.53M300.99 62.75h0.53M303.99 62.75h0.53M300.49 63.25h0.53M303.49 64.25h0.53M305.99 64.25h0.53M304.99 65.25h0.53M302.99 65.75h0.53M304.99 66.25h0.53M302.99 67.25h0.53M300.99 67.75h1.03M302.49 67.75h0.53M303.49 67.75h0.53M302.99 68.75h0.53M299.99 69.25h0.53M299.49 69.75h0.53M299.49 70.75h0.53M303.49 71.25h0.53M303.49 71.75h0.53M303.99 72.25h0.53M303.49 72.75h0.53M300.99 73.25h0.53M304.49 73.75h0.53M305.49 74.25h0.53M302.49 74.75h0.53M301.49 75.75h0.53M303.49 75.75h0.53M300.99 76.75h0.53M299.99 77.25h0.53M299.49 78.25h0.53M303.49 78.25h0.53M304.49 78.25h0.53M305.49 78.25h0.53M301.49 78.75h0.53M300.99 81.25h0.53M298.99 81.75h0.53M303.49 82.25h0.53M301.49 83.25h0.53M298.99 85.25h0.53M300.49 86.25h0.53M301.99 87.75h0.53M300.49 89.25h0.53M298.99 89.75h0.53" stroke="#ffd500"/><path d="M303.49 59.25h0.53M301.49 60.75h0.53M303.99 61.75h0.53M301.49 62.75h0.53M302.49 63.25h0.53M303.99 63.25h1.03M303.49 63.75h0.53M304.99 63.75h0.53M304.49 65.25h0.53M303.99 65.75h0.53M304.49 66.25h0.53M304.99 67.25h0.53M303.99 67.75h0.53M303.49 68.75h0.53M304.49 68.75h0.53M301.99 69.25h0.53M303.99 69.25h0.53M298.49 70.75h0.53M301.49 70.75h0.53M303.99 70.75h0.53M302.99 71.25h0.53M302.49 71.75h0.53M299.99 72.75h0.53M300.99 72.75h0.53M302.99 72.75h0.53M301.49 73.25h0.53M302.49 73.75h1.53M303.99 74.25h0.53M298.99 77.25h0.53M301.99 77.25h0.53M298.99 78.75h0.53M300.49 79.75h0.53M301.49 79.75h1.03M303.49 79.75h0.53M300.49 80.25h0.53M301.99 80.75h0.53M302.99 81.75h0.53M300.49 82.25h2.03M299.49 83.25h0.53M300.99 84.75h1.03M299.49 90.75h0.53" stroke="#ffb500"/><path d="M305.49 59.75h0.53M300.99 62.25h0.53M303.49 62.25h0.53M301.49 64.25h0.53M301.99 64.75h0.53M302.99 64.75h0.53M303.49 65.25h0.53M301.99 65.75h0.53M301.49 66.75h0.53M303.49 66.75h0.53M304.49 67.25h0.53M302.99 67.75h0.53M301.49 68.25h0.53M304.49 70.25h0.53M299.49 71.25h0.53M301.49 71.25h0.53M304.49 72.25h0.53M302.49 73.25h0.53M303.99 73.25h1.03M302.99 74.25h0.53M304.99 74.75h0.53M301.49 75.25h0.53M303.49 76.25h0.53M301.49 76.75h0.53M302.99 77.25h0.53M298.49 78.25h0.53M302.49 78.25h0.53M301.99 78.75h0.53M302.49 79.75h0.53M300.99 80.25h0.53M302.49 80.75h0.53M303.49 80.75h0.53M300.49 81.25h0.53M302.49 81.75h0.53M299.49 84.25h0.53" stroke="#ff9300"/><path d="M304.99 56.75h0.53M301.99 60.75h0.53M302.99 61.75h0.53M302.99 63.25h1.03M301.49 65.25h0.53M300.49 68.75h0.53M302.99 69.25h0.53M300.49 69.75h0.53M301.99 69.75h1.03M302.49 70.25h0.53M304.49 71.25h0.53M301.49 72.75h0.53M301.99 73.25h0.53M301.49 74.25h0.53M299.99 75.75h0.53M300.49 76.75h0.53M303.49 77.25h0.53M301.49 77.75h1.53M301.99 79.25h0.53M302.49 80.25h0.53M299.49 80.75h0.53M302.99 80.75h0.53M301.99 82.75h0.53M303.49 83.75h0.53M299.99 84.75h0.53M300.49 85.25h0.53M300.49 85.75h0.53M299.99 88.25h0.53" stroke="#ff6b00"/><path d="M302.49 64.25h0.53M302.49 64.75h0.53M304.99 64.75h0.53M301.49 66.25h0.53M303.99 66.75h1.03M300.99 67.25h0.53M303.99 67.25h0.53M303.49 68.25h0.53M301.99 68.75h1.03M300.99 70.75h0.53M302.49 71.25h0.53M299.49 73.25h0.53M303.49 73.25h0.53M299.99 73.75h0.53M301.99 73.75h0.53M303.99 73.75h0.53M300.99 74.75h0.53M299.99 76.25h0.53M301.99 76.75h0.53M302.99 76.75h0.53M302.99 77.75h0.53M300.99 78.25h0.53M301.49 79.25h0.53M303.99 79.25h0.53M301.49 80.75h0.53M299.49 81.75h0.53M300.99 82.75h0.53M300.49 90.25h0.53" stroke="#ff3f00"/><path d="M303.49 62.75h0.53M300.99 65.75h0.53M301.99 66.25h0.53M302.99 68.25h0.53M303.99 68.25h0.53M301.49 68.75h0.53M302.49 70.75h0.53M302.99 72.25h0.53M303.99 74.75h0.53M304.99 75.25h0.53M301.99 75.75h0.53M303.99 75.75h0.53M301.49 76.25h0.53M300.99 77.25h0.53M301.49 78.25h0.53M302.99 79.75h0.53M302.99 82.25h0.53" stroke="#fe1700"/><path d="M303.49 59.75h0.53M303.99 60.75h0.53M302.99 62.75h0.53M304.49 63.75h0.53M300.99 65.25h0.53M303.99 66.25h0.53M301.99 66.75h0.53M301.99 67.25h0.53M301.99 68.25h0.53M300.49 69.25h1.03M302.99 69.75h1.03M305.49 69.75h0.53M302.99 70.25h0.53M303.99 70.25h0.53M302.99 70.75h0.53M299.99 71.25h0.53M300.99 71.25h0.53M301.49 72.25h0.53M302.49 72.25h0.53M300.49 72.75h0.53M300.49 73.25h0.53M301.49 73.75h0.53M300.99 74.25h0.53M301.99 74.25h1.03M303.49 74.25h0.53M302.99 74.75h0.53M300.99 75.25h0.53M302.99 75.25h0.53M300.49 75.75h1.03M301.99 76.25h1.53M302.49 76.75h0.53M303.99 76.75h0.53M303.99 77.25h0.53M303.99 77.75h0.53M303.49 79.25h0.53M301.99 81.25h0.53M302.49 82.25h0.53M301.49 82.75h0.53M300.99 83.75h0.53" stroke="#f50800"/></g>
<polygon points="308.2,38.6 287.8,49.5 284.5,72 286,116.4 303.3,118.6 312.5,94.7 321.5,57.4" fill="none" stroke="#1e2222" stroke-width="0.85" stroke-linejoin="round"/>
<rect x="256.6" y="21.25" width="102.7" height="101.65" fill="none" stroke="#000" stroke-width="1.3"/>
<path d="M252.8 25.45h3.3M254.1 29.342h2M254.1 33.234h2M254.1 37.126h2M254.1 41.018h2M252.8 44.91h3.3M254.1 48.802h2M254.1 52.694h2M254.1 56.586h2M254.1 60.478h2M252.8 64.37h3.3M254.1 68.262h2M254.1 72.154h2M254.1 76.046h2M254.1 79.938h2M252.8 83.83h3.3M254.1 87.722h2M254.1 91.614h2M254.1 95.506h2M254.1 99.398h2M252.8 103.29h3.3M254.1 107.182h2M254.1 111.074h2M254.1 114.966h2M254.1 118.858h2M252.8 122.75h3.3" stroke="#000" stroke-width="1" fill="none"/>
<text x="250.4" y="28.15" font-size="7.5" text-anchor="end">250K</text>
<text x="250.4" y="47.61" font-size="7.5" text-anchor="end">200K</text>
<text x="250.4" y="67.07" font-size="7.5" text-anchor="end">150K</text>
<text x="250.4" y="86.53" font-size="7.5" text-anchor="end">100K</text>
<text x="250.4" y="105.99" font-size="7.5" text-anchor="end">50K</text>
<text x="250.4" y="125.45" font-size="7.5" text-anchor="end">0</text>
<path d="M262.3 123.3v3.4M296.1 123.3v3.4M324.9 123.3v3.4M348.8 123.3v3.4M277.5 123.3v3.1M278.5 123.3v3.1M279.5 123.3v3.1" stroke="#000" stroke-width="1" fill="none"/>
<path d="M304.77 123.3v2.1M309.841 123.3v2.1M313.439 123.3v2.1M316.23 123.3v2.1M318.511 123.3v2.1M320.439 123.3v2.1M322.109 123.3v2.1M323.582 123.3v2.1M332.095 123.3v2.1M336.303 123.3v2.1M339.289 123.3v2.1M341.605 123.3v2.1M343.498 123.3v2.1M345.098 123.3v2.1M346.484 123.3v2.1M347.706 123.3v2.1M356.1 123.3v2.1M263.4 123.3v2.1M264.6 123.3v2.1M265.7 123.3v2.1M266.7 123.3v2.1M267.6 123.3v2.1M268.5 123.3v2.1M269.4 123.3v2.1M270.3 123.3v2.1M271.4 123.3v2.1M272.6 123.3v2.1M274 123.3v2.1M275.5 123.3v2.1M281.2 123.3v2.1M282.4 123.3v2.1M283.6 123.3v2.1M284.8 123.3v2.1M286 123.3v2.1M287.2 123.3v2.1M288.4 123.3v2.1M289.6 123.3v2.1M290.8 123.3v2.1M292 123.3v2.1M293.2 123.3v2.1M294.5 123.3v2.1" stroke="#000" stroke-width="0.85" fill="none"/>
<text transform="translate(264.1 134.9) scale(1.15 1)" font-size="6.8" text-anchor="middle">−10<tspan font-size="4.7" dy="-2.8">3</tspan></text>
<text transform="translate(281.4 134.9) scale(1.15 1)" font-size="6.8" text-anchor="middle">0</text>
<text transform="translate(299.3 134.9) scale(1.15 1)" font-size="6.8" text-anchor="middle">10<tspan font-size="4.7" dy="-2.8">3</tspan></text>
<text transform="translate(326.6 134.9) scale(1.15 1)" font-size="6.8" text-anchor="middle">10<tspan font-size="4.7" dy="-2.8">4</tspan></text>
<text transform="translate(353.2 134.9) scale(1.15 1)" font-size="6.8" text-anchor="middle">10<tspan font-size="4.7" dy="-2.8">5</tspan></text>
<text x="266.8" y="36.2" font-size="7.1">99.2%</text>
<text transform="translate(226.5 72) rotate(-90) scale(0.735 1)" font-size="7.6" text-anchor="middle" style="stroke-width:.42px">SSC-A</text>
</g>
<g>
<g fill="none" stroke-width="0.53"><path d="M343.49 174.5h0.53M346.99 176h0.53M310.49 177.5h0.53M339.99 180h0.53M343.99 180h0.53M346.49 181.5h0.53M340.99 182h0.53M315.99 183.5h0.53M292.99 193h0.53M337.99 193h0.53M339.99 193.5h0.53M345.49 196.5h0.53M337.99 198.5h0.53M293.99 199h0.53M320.49 203.5h0.53M340.99 203.5h0.53M342.99 204h0.53M311.99 207.5h0.53M337.49 208.5h0.53M318.99 213h0.53M338.99 213h0.53M321.49 214h0.53M291.49 217h0.53M292.49 220.5h0.53M323.99 221.5h0.53M329.99 227h0.53M302.99 227.5h0.53M337.99 228.5h0.53M292.99 229.5h0.53M336.99 236.5h0.53M301.49 244.5h0.53M311.99 245.5h0.53" stroke="#3232ff"/><path d="M312.99 174h0.53M300.99 174.5h0.53M314.99 174.5h0.53M298.99 175h0.53M296.99 175.5h0.53M310.99 175.5h0.53M315.49 175.5h0.53M335.99 175.5h0.53M342.49 175.5h0.53M299.49 176.5h0.53M340.99 176.5h0.53M343.99 177h0.53M299.99 177.5h0.53M345.49 177.5h0.53M311.99 178h0.53M314.99 178h0.53M343.99 178h0.53M315.49 179h0.53M343.49 179h0.53M296.99 179.5h0.53M298.99 179.5h0.53M309.99 179.5h0.53M311.99 179.5h0.53M298.99 180h0.53M298.99 181h0.53M311.49 181h0.53M344.49 181h0.53M297.49 181.5h0.53M313.99 181.5h0.53M343.49 182h0.53M344.49 182h0.53M314.49 182.5h0.53M345.49 182.5h0.53M342.49 183h0.53M345.49 184.5h0.53M296.49 185h0.53M309.99 185h0.53M311.49 185h0.53M297.99 185.5h0.53M341.99 185.5h0.53M339.99 186h0.53M312.49 186.5h0.53M291.99 187h0.53M312.99 187.5h0.53M314.49 187.5h0.53M343.99 187.5h0.53M297.49 188h0.53M311.99 188h0.53M336.99 188h0.53M293.99 188.5h0.53M294.99 188.5h0.53M342.49 188.5h0.53M312.49 189h0.53M342.99 189.5h0.53M337.49 190.5h0.53M311.99 191h0.53M336.99 191h0.53M295.99 191.5h0.53M295.49 192h0.53M317.49 192h0.53M344.49 192h0.53M294.99 192.5h0.53M342.99 193h0.53M311.49 193.5h0.53M312.99 193.5h0.53M312.49 194h0.53M295.49 194.5h0.53M308.99 195h0.53M343.99 195h0.53M311.99 195.5h0.53M337.49 195.5h0.53M342.49 195.5h0.53M293.49 196h0.53M310.49 196h0.53M338.99 196h0.53M340.99 196h0.53M295.99 196.5h0.53M311.49 196.5h0.53M309.99 197h0.53M343.49 197h0.53M308.99 197.5h0.53M336.49 198.5h0.53M339.49 198.5h0.53M340.99 198.5h0.53M295.49 199h0.53M311.49 199h0.53M338.49 199h0.53M310.99 199.5h0.53M335.99 199.5h0.53M340.49 199.5h0.53M341.49 199.5h0.53M289.99 200h0.53M292.99 200h0.53M295.99 200h0.53M295.99 200.5h0.53M337.49 200.5h0.53M293.49 201h0.53M311.49 201h0.53M346.99 201h0.53M310.49 201.5h0.53M312.49 201.5h0.53M332.49 201.5h0.53M335.49 202h0.53M340.99 202h0.53M290.99 202.5h0.53M312.99 202.5h0.53M330.49 202.5h0.53M341.99 202.5h0.53M310.99 203h0.53M313.49 203h0.53M290.99 203.5h0.53M310.99 204h0.53M338.49 204h0.53M293.49 204.5h0.53M347.49 204.5h0.53M311.99 205h0.53M330.49 205h0.53M339.99 205h0.53M316.99 205.5h0.53M340.49 205.5h0.53M337.99 206h0.53M342.99 206h0.53M307.99 206.5h0.53M341.99 207h0.53M293.99 207.5h0.53M309.99 207.5h0.53M336.49 207.5h0.53M293.99 208h0.53M340.99 208h0.53M309.49 208.5h0.53M327.99 208.5h0.53M319.49 209h0.53M328.99 209h0.53M335.49 209h0.53M293.99 209.5h0.53M315.49 209.5h0.53M332.99 209.5h0.53M293.99 210h0.53M319.99 210h0.53M321.49 210h0.53M336.49 210h0.53M310.49 210.5h0.53M293.49 211h0.53M307.99 211h0.53M314.49 211h0.53M339.49 211h0.53M308.99 211.5h0.53M307.99 212h0.53M308.99 212h0.53M312.49 213h0.53M313.99 213h0.53M330.99 213h0.53M293.49 213.5h0.53M308.49 213.5h0.53M341.49 213.5h0.53M291.99 214h0.53M292.49 214.5h0.53M322.99 214.5h0.53M334.99 214.5h0.53M346.99 214.5h0.53M310.99 215h0.53M336.49 215h0.53M292.49 215.5h0.53M308.49 215.5h0.53M338.49 215.5h0.53M293.49 216h0.53M295.49 216h0.53M305.99 216h0.53M292.49 216.5h0.53M336.99 216.5h0.53M338.49 216.5h0.53M295.49 217h0.53M318.49 217h0.53M293.49 217.5h0.53M309.99 217.5h0.53M329.49 217.5h0.53M333.49 217.5h0.53M293.99 218h0.53M312.49 218h0.53M306.99 218.5h0.53M327.99 218.5h0.53M330.49 218.5h0.53M291.99 219h0.53M293.99 219h0.53M294.99 219h0.53M319.49 219h0.53M332.49 219h0.53M334.99 219h0.53M339.99 219h0.53M332.99 219.5h0.53M293.99 220h0.53M304.99 220h0.53M321.49 220h0.53M336.49 220h0.53M331.49 220.5h0.53M339.49 220.5h0.53M291.49 221.5h0.53M292.99 221.5h0.53M308.99 221.5h0.53M330.49 221.5h0.53M334.99 221.5h0.53M312.49 222h0.53M303.49 222.5h0.53M321.99 222.5h0.53M332.49 222.5h0.53M316.49 223h0.53M336.49 223h0.53M303.99 223.5h0.53M294.99 224h0.53M302.49 224h0.53M320.49 224.5h0.53M335.99 224.5h0.53M340.49 224.5h0.53M302.99 225h0.53M293.49 225.5h0.53M327.99 225.5h0.53M333.49 225.5h0.53M300.99 226h0.53M301.99 226h0.53M308.99 226h0.53M320.49 226h0.53M345.99 226h0.53M305.49 226.5h0.53M333.99 226.5h0.53M336.99 226.5h0.53M293.99 227h0.53M317.99 227h0.53M313.49 227.5h0.53M334.49 227.5h0.53M301.49 228h0.53M291.99 228.5h0.53M294.49 228.5h0.53M312.49 228.5h0.53M334.99 229h0.53M298.99 229.5h0.53M335.49 230h0.53M333.99 230.5h0.53M300.49 231h0.53M320.49 231h0.53M331.99 231h0.53M308.99 231.5h0.53M294.49 232h0.53M298.49 232h0.53M296.99 232.5h0.53M293.49 233.5h0.53M296.99 233.5h0.53M294.49 234h0.53M300.49 234h0.53M295.49 234.5h0.53M315.49 234.5h0.53M294.99 235.5h0.53M293.49 236h0.53M290.49 236.5h0.53M291.99 237h0.53M293.99 237h0.53M311.99 237h0.53M306.99 238h0.53M312.99 238.5h0.53M288.99 239h0.53M318.99 239h0.53M327.99 239h0.53M309.99 239.5h0.53M302.99 240h0.53M304.99 240h0.53M303.49 240.5h0.53M333.49 240.5h0.53M292.99 241h1.03M308.49 241h0.53M335.99 241h0.53M299.99 241.5h0.53M294.99 242h0.53M335.49 244h0.53M303.99 246.5h0.53M298.49 249h0.53" stroke="#3132ff"/><path d="M301.49 173.5h0.53M309.99 173.5h0.53M311.49 173.5h0.53M300.49 174h0.53M300.49 174.5h0.53M310.49 174.5h1.03M299.99 175h0.53M301.99 175.5h0.53M308.49 175.5h0.53M312.49 175.5h0.53M313.99 176h0.53M313.99 176.5h0.53M310.49 177h0.53M314.99 177h0.53M294.99 177.5h0.53M299.49 177.5h0.53M298.99 178h0.53M298.49 178.5h1.03M345.49 178.5h0.53M299.99 179h0.53M297.99 180h0.53M310.49 181h0.53M297.99 181.5h0.53M299.49 181.5h0.53M309.99 181.5h0.53M298.99 182h0.53M293.99 182.5h0.53M297.99 182.5h0.53M309.99 182.5h0.53M293.99 183h0.53M301.99 183h0.53M309.49 183h0.53M310.99 183h0.53M295.99 183.5h0.53M298.49 183.5h0.53M299.49 183.5h0.53M310.49 183.5h0.53M297.99 184h0.53M310.49 184h0.53M299.49 184.5h0.53M294.99 185h0.53M296.99 185h0.53M294.99 185.5h0.53M296.99 185.5h0.53M297.49 186h0.53M310.99 186h0.53M297.49 186.5h0.53M310.99 186.5h0.53M311.99 186.5h0.53M298.99 187h0.53M309.99 187h0.53M343.49 187h0.53M310.49 187.5h0.53M310.49 188h0.53M337.99 188h0.53M295.99 189.5h0.53M296.99 189.5h0.53M297.99 189.5h0.53M312.99 189.5h0.53M296.99 190h0.53M310.99 190h0.53M337.99 190h0.53M295.99 190.5h0.53M310.99 190.5h0.53M342.49 190.5h0.53M292.49 191.5h0.53M297.49 191.5h0.53M309.99 191.5h0.53M295.99 192.5h0.53M310.49 192.5h0.53M297.49 193h0.53M308.99 193h0.53M310.99 193h0.53M297.49 194h0.53M342.49 194h0.53M310.49 194.5h0.53M296.99 195h0.53M310.99 195h0.53M337.49 195h0.53M295.99 195.5h0.53M309.49 195.5h0.53M297.99 196h0.53M339.49 196.5h0.53M295.99 197.5h0.53M309.99 197.5h0.53M295.99 198h0.53M310.49 198h0.53M311.49 198.5h0.53M344.49 198.5h0.53M295.99 199h0.53M297.49 199h0.53M309.99 199h0.53M296.49 199.5h0.53M310.49 200h0.53M308.99 200.5h0.53M308.99 201h0.53M339.99 201h0.53M296.49 201.5h1.03M336.99 201.5h0.53M308.99 202h0.53M309.49 203h0.53M293.49 203.5h0.53M294.49 203.5h0.53M342.49 203.5h1.03M308.99 204h0.53M294.49 204.5h0.53M296.49 204.5h0.53M310.99 204.5h0.53M294.99 205h0.53M293.49 205.5h0.53M294.99 206h0.53M308.49 206h0.53M294.49 206.5h0.53M308.49 206.5h0.53M337.99 206.5h0.53M339.49 206.5h0.53M293.99 207h0.53M297.49 207h0.53M310.49 207h0.53M294.99 207.5h0.53M296.99 207.5h0.53M308.99 207.5h0.53M295.49 209h1.03M306.99 209h0.53M292.99 210h0.53M294.99 210h1.03M310.49 210h0.53M340.49 210h0.53M294.99 210.5h0.53M309.49 210.5h0.53M338.49 210.5h0.53M295.49 211h0.53M336.99 211h0.53M341.49 211h0.53M292.99 211.5h1.03M313.99 211.5h0.53M341.99 212h0.53M293.99 212.5h0.53M295.99 212.5h0.53M338.49 212.5h0.53M294.99 213h0.53M294.49 213.5h0.53M312.99 213.5h0.53M334.99 213.5h0.53M304.49 214h0.53M306.99 214h0.53M305.99 214.5h1.03M292.99 215h1.03M294.49 215h0.53M338.49 216h0.53M312.49 217h0.53M295.49 217.5h0.53M303.49 217.5h0.53M304.99 217.5h1.03M303.99 218h0.53M336.99 218h1.03M293.99 218.5h0.53M295.49 218.5h0.53M304.99 219h0.53M304.49 219.5h0.53M295.49 220h0.53M303.49 220h0.53M304.49 220h0.53M305.99 220h0.53M303.99 221h0.53M334.49 221.5h0.53M303.49 222h0.53M302.49 222.5h0.53M335.99 222.5h0.53M296.49 223h0.53M300.49 223h0.53M304.49 223h0.53M295.49 224h0.53M304.49 224h0.53M295.49 224.5h1.03M296.49 225h0.53M292.49 225.5h0.53M302.99 225.5h0.53M332.49 226h0.53M292.49 226.5h0.53M294.99 226.5h0.53M299.49 226.5h0.53M334.49 226.5h0.53M294.99 227h0.53M296.49 227h0.53M300.99 227h1.03M338.99 227h0.53M292.49 228h0.53M295.99 228h0.53M299.49 228h0.53M335.99 228h0.53M295.99 228.5h1.03M297.49 228.5h0.53M298.99 228.5h0.53M294.49 229h0.53M296.99 229h1.53M299.99 229h0.53M300.99 229.5h0.53M294.99 230h0.53M296.49 230h0.53M298.49 230h0.53M293.99 230.5h0.53M295.49 230.5h0.53M296.99 230.5h0.53M296.49 231h0.53M297.49 231h0.53M298.99 231h0.53M296.49 231.5h0.53M297.49 231.5h1.03M293.99 232h0.53M294.99 232h0.53M296.99 232h0.53M299.49 232h0.53M294.49 232.5h0.53M297.49 232.5h0.53M293.49 233h0.53M295.49 233.5h0.53M296.49 234h0.53M294.99 234.5h0.53M295.99 234.5h0.53M296.99 235h0.53M332.49 235h0.53M295.49 235.5h0.53M295.99 236h0.53M292.99 238.5h0.53M293.49 239h0.53M292.49 240h0.53M293.99 242h0.53M297.99 243h0.53M301.49 244h0.53" stroke="#2f33ff"/><path d="M301.99 173.5h0.53M345.49 173.5h0.53M301.49 174h0.53M303.49 174h1.03M310.49 174h0.53M300.49 175h0.53M302.49 175h0.53M310.49 175h0.53M311.49 175h0.53M301.49 176h0.53M309.49 176h1.03M300.49 176.5h1.03M308.99 176.5h0.53M309.99 177h0.53M300.49 178h0.53M309.99 178h0.53M300.49 178.5h0.53M310.49 178.5h1.03M309.99 179h0.53M312.49 179h0.53M299.49 180h0.53M303.99 180h0.53M309.49 181h0.53M299.99 181.5h0.53M310.99 181.5h0.53M310.99 182h1.03M309.49 182.5h0.53M310.99 183.5h0.53M297.99 184.5h0.53M308.99 184.5h0.53M310.99 185h0.53M298.49 185.5h1.03M299.99 185.5h0.53M309.99 185.5h0.53M310.49 186h0.53M298.49 186.5h0.53M311.49 186.5h0.53M308.99 187h1.03M310.49 187h0.53M298.99 187.5h0.53M308.99 188h0.53M309.49 188.5h0.53M295.49 189h0.53M298.49 189h0.53M309.49 189h0.53M310.49 189.5h0.53M297.99 190h1.03M299.99 190h0.53M296.99 192h1.53M299.99 192h0.53M309.99 192.5h0.53M308.99 193.5h0.53M297.99 194h0.53M297.49 195h0.53M310.49 195h0.53M309.99 195.5h0.53M310.99 195.5h0.53M337.99 195.5h0.53M308.49 196h0.53M309.49 196h0.53M308.49 196.5h0.53M297.99 197h0.53M308.99 197h1.03M307.99 197.5h0.53M297.99 198h0.53M307.99 198h1.53M296.99 198.5h0.53M308.49 199h0.53M308.99 199.5h0.53M296.99 200h2.03M297.49 200.5h0.53M297.49 201h0.53M340.49 201h0.53M306.99 202.5h0.53M307.99 202.5h0.53M293.99 203.5h0.53M308.49 204h0.53M310.49 204h0.53M297.49 204.5h0.53M308.49 204.5h0.53M307.49 205.5h0.53M296.49 206.5h0.53M337.99 207h0.53M308.49 207.5h0.53M295.99 208h0.53M306.99 208h0.53M307.99 208h0.53M308.99 208h0.53M295.99 208.5h0.53M306.49 208.5h1.53M307.99 209h0.53M306.99 209.5h0.53M306.99 210h0.53M337.99 210h0.53M306.49 210.5h0.53M336.99 210.5h0.53M340.49 210.5h0.53M294.49 211h0.53M296.49 211.5h0.53M305.99 211.5h1.03M296.99 212h0.53M305.49 212h0.53M295.49 213h1.03M306.49 213h0.53M294.99 213.5h0.53M295.99 213.5h0.53M303.99 213.5h0.53M305.99 213.5h0.53M307.99 213.5h0.53M308.99 213.5h0.53M305.99 214h0.53M334.49 214h0.53M295.49 214.5h1.03M295.99 215h0.53M333.99 215.5h0.53M295.99 216h0.53M294.99 216.5h0.53M303.99 216.5h0.53M305.99 216.5h0.53M296.99 217h0.53M303.99 217h0.53M305.49 217h0.53M296.49 217.5h0.53M295.99 218.5h0.53M304.49 218.5h0.53M305.99 218.5h0.53M295.49 219h0.53M302.99 219h0.53M296.99 219.5h0.53M295.99 220h0.53M301.49 220h0.53M302.49 220h1.03M294.99 220.5h0.53M297.49 220.5h0.53M303.49 221h0.53M304.49 221h0.53M295.49 221.5h1.03M296.99 221.5h0.53M301.99 221.5h0.53M295.99 222h1.03M304.49 222h0.53M297.49 222.5h0.53M294.49 223h0.53M298.49 223h0.53M302.99 223h0.53M295.49 223.5h0.53M299.99 223.5h0.53M301.49 223.5h0.53M296.49 224h0.53M299.99 224h0.53M300.99 224h0.53M299.99 224.5h0.53M294.99 225h0.53M297.99 225h0.53M300.49 225h0.53M295.49 225.5h0.53M297.49 225.5h0.53M299.49 225.5h0.53M319.49 225.5h0.53M294.99 226h0.53M296.49 226h0.53M299.99 226h1.03M298.49 226.5h0.53M295.99 227h0.53M296.99 227h1.03M298.99 227.5h0.53M299.99 227.5h0.53M296.49 228h0.53M297.49 228h0.53M298.49 228h1.03M295.49 228.5h0.53M297.99 228.5h1.03M294.99 229h0.53M300.99 229h0.53M295.49 229.5h0.53M296.49 229.5h0.53M294.49 230h0.53M295.99 230h0.53M297.49 230h1.03M299.49 230h1.03M297.99 230.5h0.53M299.49 230.5h0.53M297.99 231h0.53M298.49 232.5h0.53M293.99 233h0.53M295.99 233h0.53M296.49 234.5h0.53M295.99 235.5h0.53M294.49 237h0.53M294.99 237.5h0.53" stroke="#2c34ff"/><path d="M303.49 173.5h0.53M301.99 174h0.53M311.49 174.5h0.53M302.99 175h0.53M309.99 175h0.53M300.49 175.5h1.03M307.99 175.5h0.53M309.99 175.5h0.53M301.99 176h0.53M310.49 176h0.53M301.49 176.5h0.53M301.99 177.5h0.53M302.99 177.5h0.53M309.49 177.5h0.53M309.49 178h0.53M301.49 178.5h0.53M301.99 179h0.53M311.49 179h0.53M310.49 179.5h1.03M307.99 180h0.53M300.49 180.5h0.53M301.49 180.5h0.53M309.99 180.5h1.03M300.49 181.5h0.53M310.49 181.5h0.53M300.49 182h0.53M302.99 182h0.53M308.49 182h0.53M298.99 182.5h1.53M298.99 183h1.03M309.49 184h0.53M297.49 184.5h0.53M298.49 184.5h0.53M309.49 184.5h1.53M298.49 185h0.53M299.99 185h0.53M296.49 185.5h0.53M299.49 185.5h0.53M298.49 186h0.53M297.99 186.5h0.53M298.49 187h0.53M299.49 187h0.53M300.49 187.5h0.53M299.49 188h1.03M299.99 188.5h1.03M309.99 189h0.53M298.49 189.5h0.53M299.49 189.5h0.53M308.49 189.5h0.53M309.99 189.5h0.53M298.99 190h0.53M307.49 190h0.53M309.49 190h0.53M296.99 190.5h0.53M300.49 190.5h0.53M297.49 191h0.53M299.49 191h0.53M308.99 191h0.53M310.99 191h0.53M307.99 191.5h0.53M298.49 192h0.53M308.99 192h0.53M296.49 192.5h0.53M307.99 192.5h0.53M308.99 192.5h0.53M298.99 193.5h0.53M304.49 193.5h0.53M309.49 194h0.53M297.99 194.5h0.53M298.99 194.5h0.53M302.99 194.5h0.53M297.49 195.5h0.53M298.49 196h0.53M307.99 196h0.53M298.49 197h0.53M306.49 197h0.53M307.99 197h0.53M296.99 197.5h0.53M307.49 197.5h0.53M309.49 197.5h0.53M297.49 198h0.53M296.49 198.5h0.53M307.99 199h0.53M296.99 199.5h0.53M308.49 199.5h0.53M307.49 201.5h0.53M297.49 202h1.03M295.99 203h1.03M307.99 203h0.53M294.99 203.5h0.53M297.49 203.5h0.53M308.49 203.5h0.53M295.99 204h0.53M297.99 204h0.53M307.49 204h0.53M309.49 204h1.03M308.49 205h0.53M296.49 205.5h0.53M294.49 206h0.53M296.99 206h0.53M307.99 206h0.53M296.99 206.5h0.53M295.49 207h0.53M296.49 207h0.53M295.99 207.5h0.53M297.99 207.5h0.53M307.49 207.5h0.53M294.99 209h0.53M295.49 209.5h0.53M293.49 210h0.53M305.49 210h0.53M296.49 210.5h0.53M305.49 210.5h0.53M296.99 211h0.53M306.49 211h0.53M297.49 212h1.03M296.99 212.5h0.53M305.99 212.5h1.03M297.99 213h0.53M304.99 213h0.53M306.99 213h0.53M304.49 213.5h1.53M306.99 213.5h0.53M304.99 214h0.53M294.99 214.5h0.53M296.99 215h0.53M297.49 215.5h0.53M304.99 215.5h1.03M304.49 216h0.53M296.49 216.5h1.03M297.49 217h0.53M304.99 217h0.53M297.49 217.5h0.53M302.99 218h0.53M304.49 218h0.53M296.99 218.5h0.53M302.99 218.5h0.53M304.99 218.5h0.53M297.49 219h0.53M304.49 219h0.53M298.49 220h0.53M295.49 220.5h0.53M296.49 220.5h1.03M302.49 220.5h0.53M297.99 221h0.53M302.49 221h1.03M297.49 221.5h1.03M299.99 221.5h1.53M294.99 222h0.53M301.49 222.5h0.53M296.99 223.5h0.53M297.99 223.5h0.53M300.99 223.5h0.53M298.49 224h0.53M300.49 224h0.53M296.99 224.5h0.53M300.99 224.5h0.53M301.49 225h0.53M294.99 225.5h0.53M297.99 225.5h0.53M295.99 226h0.53M297.99 226h0.53M296.49 226.5h0.53M298.99 226.5h0.53M300.49 226.5h0.53M298.49 227h1.03M299.99 227h0.53M296.49 227.5h0.53M299.49 229.5h0.53M298.99 230h0.53M295.99 230.5h0.53M300.49 230.5h0.53M294.99 231.5h0.53M294.49 233.5h0.53M296.99 234h0.53M294.99 236h0.53M296.49 236h0.53" stroke="#2835ff"/><path d="M303.99 173.5h0.53M306.99 173.5h0.53M309.49 173.5h0.53M302.49 174h1.03M308.49 174h0.53M311.49 174h0.53M302.49 174.5h0.53M306.49 174.5h0.53M307.49 174.5h0.53M308.99 174.5h0.53M302.49 175.5h0.53M303.49 175.5h0.53M305.99 175.5h0.53M309.49 175.5h0.53M310.49 175.5h0.53M300.49 176h1.03M308.49 176h0.53M309.49 176.5h0.53M302.99 177h0.53M308.49 177h0.53M300.99 177.5h0.53M302.49 177.5h0.53M305.99 177.5h0.53M309.99 177.5h0.53M302.99 178h0.53M308.49 178h0.53M309.99 178.5h0.53M308.49 179h0.53M310.99 179h0.53M304.99 179.5h0.53M300.99 180h0.53M307.49 180h0.53M308.99 180h0.53M299.49 180.5h0.53M300.49 181h0.53M307.99 181h0.53M302.99 181.5h0.53M306.99 181.5h0.53M308.99 181.5h0.53M309.49 182h0.53M301.49 182.5h0.53M307.99 183h0.53M299.99 183.5h0.53M299.99 184h0.53M300.99 184h0.53M307.49 184h0.53M309.99 184h0.53M299.99 184.5h0.53M307.49 185.5h0.53M309.49 185.5h0.53M299.49 186h1.03M301.49 186.5h0.53M307.99 186.5h0.53M300.49 187h0.53M301.99 187h0.53M301.49 187.5h0.53M298.99 188.5h1.03M297.99 189h0.53M300.49 190h0.53M308.99 190h0.53M298.99 190.5h0.53M298.99 191.5h0.53M299.99 191.5h0.53M307.49 191.5h0.53M308.49 191.5h0.53M310.49 191.5h0.53M299.49 192h0.53M308.49 192h0.53M297.49 192.5h0.53M307.49 192.5h0.53M308.49 192.5h0.53M309.49 192.5h0.53M296.49 193h0.53M298.49 193h0.53M308.49 193h0.53M297.99 193.5h0.53M307.99 193.5h0.53M306.49 194h0.53M308.49 194h0.53M308.49 194.5h0.53M300.49 195h0.53M306.49 195h0.53M307.49 195h0.53M308.49 195h0.53M305.49 195.5h0.53M306.49 195.5h0.53M307.49 195.5h0.53M308.49 195.5h0.53M297.49 196h0.53M297.99 196.5h0.53M297.99 197.5h0.53M297.49 198.5h0.53M300.49 198.5h0.53M308.49 198.5h0.53M307.49 199h0.53M307.49 199.5h0.53M296.99 200.5h0.53M298.49 200.5h0.53M298.49 201h0.53M306.99 201.5h0.53M307.99 201.5h0.53M308.49 202h0.53M297.49 202.5h0.53M297.49 203h1.03M296.99 203.5h0.53M297.99 203.5h0.53M306.99 203.5h0.53M296.49 204h0.53M297.49 204h0.53M297.99 204.5h0.53M298.99 204.5h0.53M307.49 204.5h0.53M296.49 205h0.53M297.49 205h0.53M306.99 205h0.53M296.99 205.5h1.53M306.49 205.5h0.53M296.49 206h0.53M306.99 206h0.53M297.99 206.5h0.53M307.49 207h0.53M295.49 207.5h0.53M306.99 207.5h0.53M296.99 208h0.53M306.49 208h0.53M296.49 208.5h0.53M305.99 208.5h0.53M296.49 209h0.53M306.49 209h0.53M296.49 209.5h0.53M302.99 209.5h0.53M305.49 209.5h0.53M296.49 210h0.53M306.49 210h0.53M305.99 210.5h0.53M297.99 211.5h0.53M303.49 211.5h0.53M304.99 211.5h0.53M305.99 212h0.53M296.49 213h0.53M305.99 213h0.53M296.49 213.5h0.53M303.49 213.5h0.53M296.49 214h0.53M303.49 214h0.53M298.49 215h0.53M303.49 215h0.53M296.49 215.5h0.53M304.99 216h0.53M304.49 216.5h1.03M302.99 217.5h0.53M303.99 217.5h0.53M296.49 218h0.53M297.99 218h0.53M299.99 218.5h0.53M301.49 219h0.53M302.49 219h0.53M297.99 219.5h0.53M300.99 219.5h0.53M302.49 219.5h0.53M303.99 219.5h0.53M300.99 220h0.53M301.99 220h0.53M295.99 220.5h0.53M295.99 221h0.53M297.49 221h0.53M296.49 221.5h0.53M302.49 221.5h0.53M298.49 222h0.53M299.99 222h1.03M302.49 222h0.53M296.49 222.5h1.03M300.99 222.5h0.53M302.99 222.5h0.53M294.99 223h0.53M296.99 223h0.53M297.99 223h0.53M298.99 223h0.53M299.99 223h0.53M300.99 223h0.53M301.99 223h0.53M297.49 223.5h0.53M297.99 224h0.53M299.49 224h0.53M300.49 224.5h0.53M300.99 225h0.53M296.49 225.5h0.53M298.99 226h1.03M297.99 226.5h0.53M295.99 227.5h0.53M297.49 227.5h0.53M297.99 228h0.53M299.49 229h0.53" stroke="#2337ff"/><path d="M308.49 173.5h1.03M307.49 174h0.53M301.99 174.5h0.53M307.99 174.5h0.53M303.99 175h0.53M308.99 175h0.53M301.49 175.5h0.53M304.49 175.5h0.53M302.49 176h0.53M306.49 176h0.53M308.99 176h0.53M306.49 176.5h0.53M301.49 177h1.53M308.99 177h0.53M301.49 177.5h0.53M308.99 177.5h0.53M300.99 178h0.53M301.99 178h0.53M303.49 178h0.53M307.49 178h0.53M307.99 178.5h0.53M300.49 179h0.53M300.49 179.5h0.53M301.49 179.5h0.53M299.99 180h0.53M300.99 180.5h0.53M301.99 180.5h0.53M308.99 180.5h0.53M297.99 181h0.53M302.49 181h0.53M307.49 181h0.53M308.49 181h1.03M309.99 181h0.53M300.99 181.5h0.53M307.99 181.5h0.53M300.99 182h0.53M300.99 182.5h0.53M301.99 182.5h1.03M308.99 182.5h0.53M308.99 183h0.53M300.99 184.5h0.53M301.99 184.5h0.53M308.49 184.5h0.53M308.49 185h1.03M299.99 186.5h0.53M308.99 186.5h1.03M299.99 187h0.53M299.99 187.5h0.53M305.99 187.5h0.53M306.99 189h0.53M307.99 189h0.53M299.99 189.5h0.53M299.99 190.5h0.53M306.49 191h0.53M307.49 191h1.03M309.99 191h0.53M299.49 191.5h0.53M306.99 192h1.03M309.49 192h0.53M302.49 192.5h0.53M306.49 193h0.53M301.49 194h0.53M307.49 194h0.53M307.99 194.5h0.53M307.99 195h0.53M298.99 196h1.03M307.49 196h0.53M296.49 196.5h0.53M296.99 197h1.03M298.99 197h0.53M299.49 197.5h0.53M296.49 198h0.53M298.49 198h0.53M306.99 198h1.03M298.49 198.5h0.53M307.49 198.5h1.03M305.99 199h0.53M307.99 200h0.53M298.99 200.5h0.53M298.99 201.5h0.53M313.99 201.5h0.53M306.49 202h0.53M307.99 202h0.53M296.99 202.5h0.53M308.49 202.5h0.53M306.99 203h0.53M307.99 203.5h0.53M298.49 204h0.53M301.99 204h0.53M307.99 204h0.53M306.99 204.5h0.53M307.49 205h0.53M306.49 206h0.53M306.99 206.5h0.53M296.99 207h0.53M298.99 207h0.53M297.49 207.5h0.53M297.49 208h0.53M298.49 208h0.53M296.99 208.5h0.53M297.99 208.5h0.53M304.99 209h0.53M298.49 209.5h0.53M304.99 210.5h0.53M298.49 211h0.53M304.99 211h0.53M297.49 211.5h0.53M298.49 211.5h0.53M304.49 211.5h0.53M302.99 212h0.53M296.49 212.5h0.53M298.49 213h0.53M305.49 213h0.53M296.99 214h0.53M297.99 214.5h0.53M300.99 214.5h0.53M302.99 214.5h0.53M303.99 214.5h0.53M303.99 215h0.53M296.99 215.5h0.53M299.49 215.5h0.53M298.99 216h0.53M296.49 217h0.53M302.49 217h0.53M303.49 217h0.53M301.99 217.5h0.53M296.99 218h0.53M298.99 218h0.53M297.99 218.5h0.53M302.49 218.5h0.53M303.99 218.5h0.53M295.99 219h1.03M297.99 219h0.53M296.49 219.5h0.53M299.49 219.5h0.53M296.49 220h0.53M297.99 220h0.53M299.49 220h0.53M303.99 220h0.53M298.49 221h1.03M301.99 221h0.53M296.99 222h0.53M298.99 222h1.03M300.99 222h0.53M300.49 222.5h0.53M300.49 223.5h0.53M296.99 224h0.53M301.99 224h0.53M297.99 224.5h0.53M299.99 225h0.53M295.99 225.5h0.53M299.99 225.5h0.53M297.49 226h0.53M298.49 226h0.53M297.99 227.5h0.53M296.99 230h0.53M299.99 230.5h0.53" stroke="#1657ff"/><path d="M302.49 173.5h0.53M304.49 173.5h0.53M305.49 173.5h0.53M306.49 173.5h0.53M304.49 174h0.53M303.49 174.5h0.53M309.49 174.5h0.53M307.99 175h0.53M306.99 175.5h0.53M302.99 176h0.53M304.99 176h0.53M303.49 176.5h0.53M304.49 176.5h0.53M305.99 176.5h0.53M309.49 177h0.53M305.49 177.5h0.53M306.99 177.5h2.03M302.49 178h0.53M304.49 178h0.53M308.99 178h0.53M306.99 179h0.53M302.49 179.5h0.53M306.49 179.5h0.53M307.99 179.5h0.53M301.49 180h0.53M308.49 180h0.53M309.49 180h0.53M298.99 181.5h0.53M301.49 181.5h1.03M299.49 182h0.53M302.49 182h0.53M304.99 182.5h0.53M300.99 183h0.53M300.99 183.5h0.53M306.99 183.5h0.53M308.99 183.5h0.53M302.99 184h0.53M307.99 184h0.53M302.49 184.5h0.53M306.49 184.5h2.03M307.49 185h0.53M307.99 185.5h1.03M300.99 186.5h0.53M303.99 186.5h0.53M308.49 186.5h0.53M299.49 187.5h0.53M308.99 187.5h0.53M300.49 188h0.53M301.49 188h0.53M301.49 188.5h0.53M307.99 188.5h0.53M299.99 189h1.53M301.99 189h0.53M308.99 189h0.53M301.49 189.5h0.53M306.99 189.5h0.53M308.99 189.5h0.53M306.49 190h1.03M301.49 190.5h0.53M307.49 190.5h0.53M298.99 192.5h1.03M307.49 193.5h0.53M298.99 194h0.53M304.49 194h0.53M299.49 194.5h0.53M306.99 194.5h0.53M297.99 195h0.53M306.99 195.5h0.53M307.49 197h0.53M298.99 198h0.53M302.49 198h0.53M297.99 198.5h0.53M306.49 198.5h0.53M305.49 199.5h0.53M306.99 199.5h0.53M305.49 200h0.53M306.99 200h0.53M297.99 200.5h0.53M305.49 200.5h0.53M307.49 200.5h0.53M305.49 201h0.53M306.49 201h0.53M297.99 201.5h0.53M304.49 201.5h0.53M306.49 201.5h0.53M299.49 202.5h0.53M306.49 202.5h0.53M298.49 203h0.53M305.49 203h0.53M299.49 203.5h0.53M296.99 204.5h0.53M300.49 204.5h0.53M305.99 204.5h0.53M307.99 204.5h0.53M297.99 205h0.53M299.99 205.5h0.53M293.99 206h0.53M299.49 206h0.53M297.49 206.5h0.53M306.49 206.5h0.53M307.49 206.5h0.53M305.49 207h0.53M306.49 207h0.53M303.99 207.5h0.53M305.99 207.5h0.53M307.99 207.5h0.53M305.49 208h0.53M304.49 208.5h0.53M297.49 209h1.53M305.49 209h1.03M301.49 209.5h0.53M295.99 210h0.53M297.49 210.5h1.03M302.49 211.5h0.53M305.49 211.5h0.53M298.49 212h0.53M303.99 212h0.53M299.49 212.5h0.53M296.99 213h1.03M299.49 213h0.53M301.49 213h0.53M303.99 213h0.53M300.49 214h0.53M298.99 214.5h0.53M303.49 214.5h0.53M304.49 214.5h0.53M305.49 214.5h0.53M304.49 215h0.53M297.99 215.5h0.53M303.99 215.5h0.53M297.99 216h0.53M300.99 216h0.53M303.49 216h1.03M298.49 216.5h0.53M302.99 216.5h0.53M295.99 217.5h0.53M298.49 217.5h0.53M301.49 218h0.53M296.49 218.5h0.53M297.49 218.5h0.53M300.99 218.5h0.53M298.99 219.5h0.53M301.49 219.5h0.53M303.49 219.5h0.53M296.99 220h1.03M298.99 220h0.53M297.99 220.5h0.53M300.49 220.5h0.53M301.49 220.5h0.53M299.49 221h1.53M299.49 221.5h0.53M297.49 222h0.53M301.49 222h0.53M297.99 222.5h0.53M296.49 223.5h0.53M297.49 224h0.53M298.99 224.5h0.53M296.99 225.5h0.53M293.99 238.5h0.53" stroke="#067eff"/><path d="M304.99 173.5h0.53M305.99 173.5h0.53M305.99 174h0.53M308.99 174h0.53M305.49 174.5h1.03M304.99 175.5h0.53M307.49 175.5h0.53M307.99 176h0.53M304.99 176.5h0.53M306.99 176.5h0.53M303.49 177h0.53M307.99 177h0.53M301.99 178.5h1.03M300.99 179h0.53M307.99 179h0.53M306.49 180h0.53M302.99 180.5h1.03M304.49 180.5h0.53M307.49 180.5h1.03M301.99 181h0.53M303.99 181h0.53M302.49 181.5h0.53M303.49 181.5h0.53M307.49 181.5h0.53M308.49 181.5h0.53M304.99 182h0.53M308.99 182h0.53M307.99 182.5h0.53M299.99 183h0.53M303.99 183h0.53M303.49 183.5h0.53M304.49 183.5h0.53M308.49 183.5h0.53M303.49 184.5h0.53M303.99 185h0.53M300.49 185.5h0.53M301.49 185.5h0.53M306.99 185.5h0.53M308.99 185.5h0.53M300.99 186h1.03M307.99 186h0.53M308.99 186h0.53M306.99 187h1.03M300.99 187.5h0.53M307.49 187.5h0.53M309.49 189.5h0.53M300.99 190h0.53M307.99 190h0.53M308.49 190.5h0.53M303.49 191h0.53M306.99 191.5h0.53M300.99 192h0.53M300.49 192.5h0.53M300.49 193h0.53M307.99 193h0.53M300.49 193.5h0.53M308.49 193.5h0.53M298.99 195h0.53M306.99 195h0.53M307.99 195.5h0.53M302.49 196h0.53M296.99 196.5h0.53M307.49 196.5h0.53M302.99 197h0.53M306.99 197h0.53M306.49 198h0.53M306.49 200.5h0.53M299.49 201h0.53M298.49 201.5h0.53M298.99 202h0.53M304.99 202.5h0.53M307.49 202.5h0.53M298.99 203.5h0.53M303.49 203.5h0.53M306.49 203.5h0.53M305.49 204h0.53M306.49 204h1.03M306.49 205h0.53M298.99 205.5h0.53M305.99 205.5h0.53M298.49 207h0.53M300.99 207h0.53M306.99 207h0.53M305.49 207.5h0.53M297.99 208h0.53M299.99 208h0.53M302.99 208h0.53M303.99 208.5h0.53M296.99 209h0.53M302.99 209h0.53M296.99 209.5h0.53M297.99 209.5h0.53M299.99 209.5h0.53M304.49 209.5h0.53M298.99 210h0.53M304.99 210h0.53M297.49 211h0.53M301.49 211h0.53M299.49 212h0.53M300.99 212h0.53M304.49 212h0.53M304.49 212.5h1.03M303.49 213h0.53M304.49 213h0.53M298.99 214h0.53M302.99 214h0.53M299.99 214.5h0.53M297.49 215h0.53M301.49 215.5h0.53M302.49 215.5h0.53M299.99 216h0.53M301.49 216h1.03M297.99 217h0.53M298.99 217h1.03M301.99 217h0.53M297.99 217.5h0.53M298.99 217.5h0.53M297.49 218h0.53M302.49 218h0.53M300.49 218.5h0.53M299.99 219h0.53M300.99 219h0.53M299.99 219.5h0.53M299.99 220h0.53M298.49 220.5h1.03M298.49 221.5h0.53M301.49 221.5h0.53M301.99 222h0.53M299.49 223h0.53M298.99 224h0.53M298.49 224.5h0.53M298.49 225h0.53M299.49 225h0.53M296.99 226h0.53" stroke="#00a6f4"/><path d="M304.99 174h0.53M306.99 174h0.53M307.99 174h0.53M304.49 174.5h0.53M308.49 174.5h0.53M305.49 175h0.53M306.99 175h0.53M309.49 175h0.53M308.99 175.5h0.53M302.99 176.5h0.53M305.99 177h0.53M306.49 177.5h0.53M301.49 178h0.53M307.99 178h0.53M302.99 178.5h1.03M304.49 178.5h1.03M308.99 178.5h1.03M306.49 179h0.53M307.49 179h0.53M304.49 179.5h0.53M305.49 179.5h0.53M307.49 179.5h0.53M308.49 179.5h0.53M302.49 180h0.53M303.49 180h0.53M306.99 180.5h0.53M301.49 181h0.53M304.49 181h0.53M306.99 181h0.53M305.49 181.5h0.53M306.49 181.5h0.53M299.99 182h0.53M301.49 182h0.53M308.49 182.5h0.53M302.49 183.5h0.53M307.99 183.5h0.53M305.99 184h0.53M301.99 185.5h0.53M304.99 186h0.53M300.49 186.5h0.53M301.99 186.5h0.53M304.49 186.5h0.53M303.99 187h0.53M306.49 187h0.53M303.49 187.5h0.53M301.99 188h0.53M300.99 188.5h0.53M304.99 188.5h0.53M302.49 189h0.53M306.49 189h0.53M307.49 189h0.53M304.99 189.5h0.53M299.49 190h0.53M305.49 190h0.53M300.99 190.5h0.53M308.99 190.5h1.03M298.99 191h0.53M299.99 191h0.53M300.49 191.5h0.53M308.99 191.5h0.53M305.99 192.5h0.53M299.49 193h0.53M299.99 193.5h0.53M306.49 193.5h0.53M299.49 194h0.53M307.99 194h0.53M300.99 195h0.53M300.49 196.5h0.53M298.49 197.5h1.03M306.49 197.5h0.53M298.99 198.5h1.03M297.99 199h1.03M299.49 199h0.53M302.99 199h0.53M306.49 199h0.53M306.49 199.5h0.53M303.99 200h0.53M299.99 200.5h0.53M304.99 200.5h0.53M297.99 201h0.53M301.49 201h0.53M304.99 201h0.53M301.99 202.5h0.53M305.99 202.5h0.53M298.49 203.5h0.53M299.99 203.5h0.53M298.49 205h0.53M304.49 205h0.53M305.99 205h0.53M299.49 205.5h0.53M304.99 205.5h0.53M297.99 206h0.53M298.49 206.5h0.53M301.49 206.5h0.53M299.49 207.5h0.53M304.49 207.5h0.53M306.49 207.5h0.53M300.99 208h0.53M298.49 208.5h0.53M300.49 208.5h0.53M305.49 208.5h0.53M299.99 209h0.53M302.49 209h0.53M303.49 209h0.53M297.49 209.5h0.53M300.99 209.5h0.53M301.99 209.5h0.53M305.99 209.5h0.53M300.49 210h0.53M304.49 210h0.53M296.99 210.5h0.53M297.99 211h0.53M303.49 211h0.53M299.49 211.5h0.53M298.99 212h0.53M299.99 212h0.53M304.99 212h0.53M306.49 212h0.53M298.99 212.5h0.53M299.99 212.5h0.53M299.99 213h1.03M297.49 213.5h0.53M298.49 213.5h0.53M303.99 214h0.53M297.49 214.5h0.53M298.49 214.5h0.53M299.49 215h0.53M301.49 215h0.53M304.49 215.5h0.53M297.49 216h0.53M298.49 216h0.53M300.49 216h0.53M297.99 216.5h0.53M298.99 216.5h0.53M300.49 216.5h0.53M301.49 216.5h0.53M303.49 216.5h0.53M302.99 217h0.53M296.99 217.5h0.53M302.49 217.5h0.53M301.49 218.5h1.03M295.49 219.5h0.53M300.49 220h0.53M299.49 220.5h1.03M300.99 221h0.53M298.99 223.5h1.03M298.49 225.5h0.53" stroke="#00d2e3"/><path d="M307.49 173.5h0.53M306.49 174h0.53M303.99 174.5h0.53M302.99 175.5h0.53M303.99 175.5h0.53M307.49 176h0.53M308.49 176.5h0.53M304.49 177h0.53M306.99 177h0.53M303.99 178h0.53M303.99 178.5h0.53M306.99 178.5h0.53M308.49 178.5h0.53M303.49 179h0.53M306.99 179.5h0.53M305.49 180h0.53M304.99 180.5h0.53M308.49 180.5h0.53M302.99 181h1.03M304.49 182h0.53M306.99 182.5h1.03M301.49 183h0.53M304.49 183h0.53M305.99 183h0.53M300.49 183.5h0.53M301.49 183.5h0.53M307.49 183.5h0.53M301.99 184h0.53M303.99 184h0.53M302.49 185h0.53M303.49 185h0.53M300.99 185.5h0.53M303.99 185.5h0.53M306.49 185.5h0.53M300.49 186h0.53M308.49 186h0.53M299.49 186.5h0.53M305.49 186.5h0.53M306.99 186.5h1.03M300.99 187h1.03M308.49 187.5h0.53M307.49 188h1.03M308.49 188.5h0.53M308.49 189h0.53M301.49 190h0.53M306.49 190.5h0.53M307.99 190.5h0.53M300.49 191h0.53M302.49 191h0.53M302.99 191.5h0.53M306.49 191.5h0.53M298.99 192h0.53M305.99 192h0.53M304.99 193h0.53M305.49 193.5h0.53M298.49 194h0.53M299.99 194h1.03M308.99 194h0.53M298.49 194.5h0.53M300.49 194.5h0.53M299.99 195h0.53M301.99 195h0.53M299.99 195.5h0.53M303.99 195.5h0.53M300.49 196h0.53M301.49 196h0.53M306.99 196h0.53M301.99 196.5h0.53M306.99 196.5h0.53M303.49 197h0.53M305.49 197h0.53M304.49 197.5h0.53M306.99 197.5h0.53M305.99 198h0.53M298.99 199h0.53M299.99 199h0.53M304.99 199h0.53M298.49 199.5h0.53M304.49 199.5h0.53M298.99 200h0.53M304.99 200h0.53M302.99 200.5h0.53M305.99 200.5h0.53M298.99 201h0.53M299.99 201.5h0.53M307.49 202h0.53M297.99 202.5h0.53M298.99 202.5h0.53M305.99 203h0.53M301.99 203.5h0.53M305.99 203.5h0.53M300.49 204h0.53M303.99 204.5h0.53M306.49 204.5h0.53M299.49 205h0.53M305.49 205h0.53M304.49 206h0.53M300.99 206.5h0.53M302.99 207h0.53M305.99 207h0.53M304.99 207.5h0.53M304.99 208h0.53M305.99 208h0.53M299.99 208.5h0.53M298.99 209h0.53M303.49 210h0.53M298.49 210.5h0.53M302.49 210.5h0.53M302.49 211h0.53M305.49 211h0.53M296.99 211.5h0.53M298.99 211.5h0.53M300.49 211.5h0.53M301.49 212h0.53M297.99 212.5h0.53M300.49 212.5h1.53M300.99 213h0.53M297.99 213.5h0.53M302.99 213.5h0.53M297.49 214h0.53M301.99 214h0.53M301.99 215h0.53M300.49 215.5h0.53M299.49 216h0.53M299.49 217.5h1.03M300.99 217.5h0.53M301.99 218h0.53M299.49 219h0.53M300.49 219h0.53M298.49 219.5h0.53M300.99 220.5h0.53M301.49 221h0.53M297.99 222h0.53M299.49 222.5h1.03M297.49 223h0.53M301.49 223h0.53M297.99 227h0.53" stroke="#00dbaa"/><path d="M307.99 173.5h0.53M303.49 176h0.53M304.49 176h0.53M307.49 176.5h0.53M303.99 177h0.53M305.99 178h0.53M305.49 178.5h0.53M306.49 178.5h0.53M302.49 179h1.03M303.99 179.5h0.53M305.99 179.5h0.53M306.99 180h0.53M302.49 180.5h0.53M305.49 181h0.53M306.99 182h0.53M304.49 182.5h0.53M306.49 183h1.03M304.49 184h0.53M308.99 184h0.53M302.99 184.5h0.53M305.49 184.5h0.53M301.99 185h0.53M305.49 185h0.53M307.99 185h0.53M304.49 185.5h0.53M302.99 186h0.53M305.49 186h0.53M306.99 186h0.53M302.99 186.5h1.03M304.99 186.5h0.53M305.49 187h0.53M307.99 187h1.03M302.99 187.5h0.53M306.49 187.5h0.53M307.99 187.5h0.53M300.99 188h0.53M304.49 188h0.53M303.49 188.5h0.53M302.99 189h0.53M304.99 189h0.53M305.99 189h0.53M300.99 189.5h0.53M308.49 191h0.53M305.49 191.5h0.53M300.49 192h0.53M302.99 192h0.53M299.99 192.5h0.53M303.49 192.5h0.53M306.49 192.5h1.03M299.99 193h0.53M307.49 193h0.53M300.99 193.5h1.03M302.49 193.5h0.53M306.99 193.5h0.53M300.99 194.5h0.53M298.49 195h0.53M298.49 195.5h1.53M298.49 196.5h1.03M303.49 196.5h0.53M306.49 196.5h0.53M304.49 197h0.53M305.99 197h0.53M299.99 197.5h0.53M304.99 197.5h0.53M299.99 198.5h0.53M303.99 198.5h0.53M306.99 198.5h0.53M302.49 199h0.53M304.99 199.5h0.53M306.49 200h0.53M299.49 200.5h0.53M300.49 200.5h0.53M306.99 200.5h0.53M303.99 201h0.53M305.99 201h0.53M303.99 201.5h0.53M300.49 202h1.03M301.99 202h0.53M306.99 202h0.53M300.49 202.5h0.53M304.49 203.5h0.53M305.49 203.5h0.53M299.49 204h0.53M299.99 204.5h0.53M301.99 204.5h0.53M301.99 205h0.53M303.49 205.5h0.53M304.49 205.5h0.53M297.49 206h0.53M299.99 206h0.53M305.99 206h0.53M305.49 206.5h0.53M300.49 207h0.53M300.49 207.5h0.53M297.49 208.5h0.53M298.99 208.5h1.03M299.49 209h0.53M299.49 209.5h0.53M304.99 209.5h0.53M298.99 211h1.03M304.49 211h0.53M302.99 211.5h0.53M297.49 212.5h0.53M303.99 212.5h0.53M297.99 214h0.53M300.99 214h0.53M296.99 214.5h0.53M299.99 215h0.53M302.49 215h0.53M299.99 215.5h0.53M303.49 215.5h0.53M299.99 217h0.53M300.49 217.5h0.53M299.49 218h0.53M298.49 218.5h0.53M299.49 218.5h0.53M296.99 219h0.53M301.99 219.5h0.53M301.99 220.5h0.53M296.49 221h0.53M298.49 223.5h0.53M296.99 226.5h0.53" stroke="#00df68"/><path d="M306.99 174.5h0.53M304.99 175h0.53M306.49 175h0.53M305.99 176h0.53M303.99 176.5h0.53M307.99 176.5h0.53M305.49 177h0.53M303.99 177.5h0.53M304.99 177.5h0.53M305.49 178h0.53M306.49 178h0.53M303.99 179h0.53M302.99 179.5h0.53M308.99 179.5h0.53M304.99 180h0.53M306.49 180.5h0.53M303.49 182h0.53M300.49 182.5h0.53M303.49 182.5h0.53M301.99 183.5h0.53M301.49 184h0.53M303.49 184h0.53M306.99 184h0.53M301.49 184.5h0.53M305.99 184.5h0.53M300.99 185h0.53M305.99 186h0.53M307.49 186h0.53M302.49 187h0.53M304.49 187.5h0.53M306.99 187.5h0.53M306.99 188h0.53M303.99 188.5h0.53M300.49 189.5h0.53M305.99 189.5h0.53M307.99 189.5h0.53M299.49 190.5h0.53M304.49 190.5h0.53M306.99 190.5h0.53M304.49 192h0.53M300.99 192.5h0.53M303.99 193h0.53M305.49 193h0.53M305.99 194h0.53M306.99 194h0.53M299.99 194.5h0.53M299.49 195h0.53M302.99 195.5h0.53M304.99 196h0.53M299.49 198h0.53M300.49 198h0.53M304.49 198h0.53M300.99 198.5h0.53M304.49 199h0.53M306.99 199h0.53M301.99 199.5h0.53M304.49 200.5h0.53M305.49 201.5h1.03M302.49 202h0.53M303.99 202h1.03M298.49 202.5h0.53M300.99 202.5h0.53M303.49 203h0.53M300.99 203.5h0.53M305.99 204h0.53M298.99 205h0.53M300.49 205.5h0.53M305.49 205.5h0.53M300.99 206h0.53M303.99 206h0.53M305.49 206h0.53M301.99 206.5h0.53M303.49 206.5h0.53M304.99 206.5h0.53M299.49 208h0.53M301.49 208.5h0.53M303.99 209h0.53M297.99 210h1.03M299.49 210h0.53M303.99 210h0.53M301.99 210.5h0.53M302.99 210.5h0.53M301.49 211.5h0.53M298.49 212.5h0.53M301.99 212.5h0.53M302.49 213.5h0.53M299.49 214h0.53M297.99 215h0.53M298.99 215.5h0.53M300.99 215.5h0.53M302.49 216h0.53M299.49 216.5h0.53M300.99 216.5h0.53M298.49 218h0.53M299.99 218h0.53M300.99 218h0.53M298.99 218.5h0.53M298.99 219h0.53M298.49 222.5h0.53" stroke="#07e242"/><path d="M305.49 174h0.53M304.99 174.5h0.53M304.49 175h0.53M307.49 175h0.53M303.99 176h0.53M305.49 176h0.53M305.49 176.5h0.53M304.99 178h0.53M307.49 178.5h0.53M304.99 179h0.53M305.49 180.5h0.53M303.99 182.5h0.53M305.99 182.5h0.53M303.99 184.5h0.53M302.99 185.5h0.53M301.99 186h0.53M305.99 186.5h1.03M303.49 187h0.53M304.49 187h0.53M303.49 188h0.53M306.99 188.5h0.53M305.49 189h0.53M308.49 190h0.53M304.99 190.5h1.03M303.99 191h0.53M300.99 191.5h0.53M305.99 191.5h0.53M301.99 192h0.53M298.99 193h0.53M301.99 193h0.53M301.99 194h0.53M303.49 194h1.03M301.49 194.5h0.53M302.49 195h0.53M301.99 195.5h0.53M303.49 195.5h0.53M301.99 196h0.53M305.99 196h0.53M304.99 196.5h0.53M299.99 197h0.53M301.49 197.5h0.53M303.49 197.5h0.53M300.99 198h0.53M301.99 198h0.53M305.49 198h0.53M304.99 198.5h0.53M298.99 199.5h0.53M302.99 199.5h0.53M305.99 200h0.53M300.49 201h0.53M299.49 202h1.03M301.49 202h0.53M302.99 202h0.53M299.99 202.5h0.53M299.99 203h0.53M303.99 203.5h0.53M300.99 204h0.53M304.49 204h0.53M299.49 204.5h0.53M302.49 204.5h0.53M300.49 205h0.53M301.49 205h0.53M303.99 205h0.53M299.49 206.5h1.03M299.49 207h0.53M304.99 207h0.53M298.99 208h0.53M301.49 208h0.53M304.99 208.5h0.53M300.49 209h0.53M302.49 210h0.53M299.99 210.5h1.03M300.99 211h0.53M303.99 211h0.53M303.99 211.5h0.53M300.49 212h0.53M302.49 213h0.53M299.99 214h0.53M299.49 214.5h0.53M302.49 214.5h0.53M298.99 215h0.53M298.49 215.5h0.53M301.99 215.5h0.53M302.99 216h0.53M297.49 216.5h0.53M303.49 218h0.53" stroke="#14e339"/><path d="M308.49 175h0.53M305.49 175.5h0.53M302.49 176.5h0.53M304.99 177h0.53M305.49 179h0.53M304.49 180h0.53M305.99 180.5h0.53M302.99 182.5h0.53M302.49 183h0.53M303.49 183h0.53M304.99 184h0.53M304.49 184.5h0.53M305.99 185.5h0.53M302.49 186h0.53M301.99 187.5h0.53M304.99 188h1.03M302.99 188.5h0.53M305.99 188.5h0.53M301.49 189h0.53M303.49 189h0.53M301.99 189.5h0.53M302.99 189.5h0.53M305.49 189.5h0.53M306.49 189.5h0.53M302.99 190h0.53M305.99 190h0.53M300.99 191h0.53M306.99 191h0.53M301.99 191.5h1.03M303.49 191.5h0.53M305.49 192h0.53M304.49 192.5h0.53M305.99 193h0.53M302.99 193.5h0.53M304.99 193.5h0.53M300.99 194h0.53M302.99 194h0.53M301.99 194.5h0.53M305.49 194.5h0.53M306.49 194.5h0.53M306.49 196h0.53M304.99 197h0.53M305.49 198.5h0.53M303.49 199h0.53M299.99 199.5h0.53M301.49 199.5h0.53M302.49 200.5h0.53M303.99 200.5h0.53M306.99 201h0.53M302.49 201.5h0.53M305.99 202h0.53M301.99 203h0.53M302.49 203.5h0.53M302.99 204h0.53M303.99 204h0.53M304.99 204h0.53M298.49 204.5h0.53M305.49 204.5h0.53M300.99 205h0.53M302.99 205.5h0.53M304.49 206.5h0.53M305.99 206.5h0.53M298.49 207.5h0.53M299.99 207.5h0.53M301.99 207.5h0.53M303.49 207.5h0.53M300.49 208h0.53M303.49 209.5h0.53M299.99 210h0.53M300.99 210h0.53M300.99 210.5h0.53M302.99 211h0.53M301.99 212h0.53M302.99 213h0.53M299.49 213.5h0.53M301.49 213.5h0.53M298.49 214h0.53M301.49 214h0.53M300.49 214.5h0.53M301.49 217.5h0.53M300.49 218h0.53M298.49 219h0.53M298.99 221.5h0.53" stroke="#22e530"/><path d="M306.99 176h0.53M304.49 177.5h0.53M304.49 181.5h0.53M305.99 181.5h0.53M305.99 182h0.53M306.49 182.5h0.53M302.99 183h0.53M305.99 183.5h0.53M306.49 184h0.53M305.99 185h0.53M306.99 185h0.53M303.99 187.5h0.53M301.99 188.5h0.53M307.49 189.5h0.53M303.99 190.5h0.53M301.49 191h0.53M302.99 191h0.53M305.99 191h0.53M301.49 191.5h0.53M301.49 192h0.53M301.99 192.5h0.53M306.99 193h0.53M301.99 193.5h0.53M305.99 193.5h0.53M304.99 194h0.53M305.99 194.5h0.53M300.49 195.5h0.53M299.99 196.5h0.53M300.99 197h1.03M305.99 197.5h0.53M299.49 200h0.53M302.99 200h0.53M299.99 201h0.53M304.49 202.5h0.53M305.49 202.5h0.53M300.99 203h0.53M304.99 203h0.53M298.99 204h0.53M299.99 204h0.53M301.49 204.5h0.53M304.99 204.5h0.53M303.99 205.5h0.53M298.49 206h0.53M302.99 206h1.03M304.99 206h0.53M298.99 206.5h0.53M299.99 207h0.53M301.49 207h0.53M303.49 207h0.53M304.49 207h0.53M302.49 207.5h0.53M304.49 208h0.53M301.99 208.5h0.53M300.99 209h1.03M297.49 210h0.53M299.49 210.5h0.53M299.99 211.5h0.53M302.49 212h0.53M302.99 212.5h0.53M298.99 213.5h0.53M300.99 215h0.53M302.99 215h0.53M301.99 216.5h1.03M298.49 217h0.53M301.99 219h0.53M300.49 219.5h0.53" stroke="#32e726"/><path d="M306.49 175.5h0.53M305.99 178.5h0.53M305.49 182h0.53M307.49 183h0.53M303.99 183.5h0.53M302.49 184h0.53M301.49 185h0.53M302.49 185.5h0.53M303.49 185.5h0.53M303.99 186h0.53M306.49 186h0.53M302.49 186.5h0.53M305.49 187.5h0.53M305.99 188h1.03M304.49 188.5h0.53M307.49 188.5h0.53M303.99 190h0.53M305.99 190.5h0.53M304.99 192h0.53M304.99 192.5h0.53M303.49 193.5h0.53M302.49 194h0.53M303.99 195h0.53M301.49 195.5h0.53M303.99 196h0.53M305.49 196h0.53M304.49 196.5h0.53M302.49 197h0.53M300.99 197.5h0.53M300.49 199h0.53M300.99 199.5h0.53M301.99 200.5h0.53M300.49 201.5h0.53M302.99 201.5h0.53M304.99 202h0.53M301.49 202.5h0.53M299.49 203h0.53M300.49 203.5h0.53M301.49 203.5h0.53M302.49 204h0.53M302.49 205h0.53M300.99 205.5h0.53M301.99 208h0.53M298.99 209.5h0.53M303.99 209.5h0.53M301.49 210h0.53M302.99 210h0.53M301.99 211h0.53M300.99 211.5h0.53M302.49 212.5h0.53M298.99 213h0.53M301.99 214.5h0.53M299.99 216.5h0.53" stroke="#42e91c"/><path d="M306.49 177h0.53M304.99 181.5h0.53M305.49 183.5h0.53M305.49 184h0.53M302.99 185h0.53M302.99 187h0.53M304.99 187h0.53M302.49 190.5h0.53M303.49 190.5h0.53M301.99 191h0.53M304.99 191h0.53M306.49 192h0.53M300.99 193h0.53M302.99 193h0.53M299.49 193.5h0.53M305.49 194h0.53M305.99 195h0.53M299.49 196.5h0.53M305.49 196.5h0.53M300.49 197.5h0.53M302.99 198.5h0.53M305.99 198.5h0.53M305.49 199h0.53M303.49 199.5h0.53M301.49 200h0.53M302.49 200h0.53M300.99 201.5h0.53M305.49 202h0.53M304.49 203h0.53M302.99 205h1.03M298.49 205.5h0.53M301.49 205.5h0.53M298.99 206h0.53M302.99 207.5h0.53M302.49 208h0.53M303.49 208.5h0.53M300.49 209.5h0.53M298.99 210.5h0.53M303.99 210.5h0.53M303.49 212h0.53M299.99 213.5h0.53M302.49 214h0.53" stroke="#53eb11"/><path d="M302.99 180h0.53M306.49 182h0.53M307.49 182h0.53M306.49 183.5h0.53M306.49 185h0.53M305.49 185.5h0.53M302.99 188h0.53M306.49 188.5h0.53M302.49 189.5h0.53M301.99 190h0.53M304.49 191h0.53M305.49 191h0.53M303.99 191.5h1.03M301.49 192.5h0.53M303.99 192.5h0.53M305.49 192.5h0.53M303.99 193.5h0.53M302.49 194.5h0.53M300.99 196h0.53M301.49 196.5h0.53M305.99 196.5h0.53M302.49 198.5h0.53M299.49 199.5h0.53M300.99 200h0.53M304.49 201h0.53M302.49 202.5h0.53M300.49 203h0.53M302.49 206h0.53M302.49 206.5h0.53M303.99 208h0.53M301.99 209h0.53M300.49 217h0.53" stroke="#66ed05"/><path d="M307.49 177h0.53M305.99 179h0.53M304.99 181h0.53M305.99 181h0.53M303.99 182h0.53M304.99 184.5h0.53M304.99 187.5h0.53M302.49 188h0.53M301.99 190.5h0.53M303.99 194.5h0.53M304.49 195.5h0.53M299.99 196h0.53M299.99 198h0.53M303.49 198h0.53M304.99 198h0.53M301.99 201h0.53M302.99 201h0.53M303.99 203h0.53M301.49 204h0.53M302.99 204.5h1.03M303.99 206.5h0.53M303.99 207h0.53M300.99 208.5h0.53M301.49 210.5h0.53M301.99 213h0.53" stroke="#79ef00"/><path d="M304.49 179h0.53M303.99 180.5h0.53M307.99 182h0.53M342.99 187h0.53M305.49 188.5h0.53M303.99 189.5h0.53M304.49 190h1.03M302.99 190.5h0.53M302.49 193h0.53M303.49 194.5h0.53M304.99 194.5h0.53M301.49 195h0.53M300.99 195.5h0.53M302.49 195.5h0.53M305.99 195.5h0.53M300.99 196.5h0.53M301.99 197h0.53M303.99 197h0.53M303.99 198h0.53M301.99 198.5h0.53M304.49 198.5h0.53M303.49 201h0.53M298.49 202h0.53M302.99 202.5h0.53M299.99 205h0.53M300.49 206h0.53M301.99 207h0.53M298.99 207.5h0.53M301.49 207.5h0.53M303.49 208h0.53M304.49 209h0.53M304.49 210.5h0.53M299.99 211h1.03M301.49 214.5h0.53" stroke="#8ef100"/><path d="M303.49 177.5h0.53M305.99 180h0.53M301.99 182h0.53M304.99 183h0.53M304.49 185h0.53M303.49 192h0.53M303.49 196h0.53M304.49 196h0.53M301.99 197.5h0.53M301.49 198h0.53M303.99 199.5h0.53M301.49 200.5h0.53M301.99 201.5h0.53M304.99 201.5h0.53M302.49 203h0.53M302.49 208.5h0.53M302.49 209.5h0.53M301.99 213.5h0.53" stroke="#a4f300"/><path d="M303.49 179.5h0.53M306.49 181h0.53M305.49 183h0.53M303.49 189.5h0.53M302.99 192.5h0.53M303.49 193h0.53M304.49 193h0.53M302.99 196h0.53M301.49 199h0.53M304.49 200h0.53M300.99 201h0.53M303.49 202h0.53M300.99 204.5h0.53M304.49 204.5h0.53M302.49 205.5h0.53M300.99 207.5h0.53M300.49 213.5h0.53M300.99 217h0.53" stroke="#bbf500"/><path d="M303.99 181.5h0.53M304.99 185.5h0.53M301.49 193h0.53M304.99 195h1.03M302.99 196.5h0.53M302.99 197.5h0.53M302.99 198h0.53M302.49 199.5h0.53M300.49 200h0.53M303.49 201.5h0.53M303.49 202.5h0.53M304.99 205h0.53M301.49 206h0.53M301.99 211.5h0.53M300.49 215h0.53" stroke="#d8f100"/><path d="M305.49 182.5h0.53M302.99 183.5h0.53M303.49 186h0.53M304.49 189h0.53M303.49 200h0.53M299.49 201.5h0.53M301.49 201.5h0.53M302.99 203.5h0.53M300.49 206.5h0.53M300.99 213.5h0.53" stroke="#f6ec00"/><path d="M304.99 183.5h0.53M300.49 184.5h0.53M303.99 188h0.53M304.99 191.5h0.53M302.49 192h0.53M303.99 192h0.53M302.49 197.5h0.53M305.49 197.5h0.53M300.99 199h0.53M301.99 205.5h0.53M301.99 206h0.53M302.99 206.5h0.53M303.49 212.5h0.53" stroke="#ffd500"/><path d="M296.99 182h0.53M304.99 185h0.53M305.99 187h0.53M302.49 187.5h0.53M301.49 198.5h0.53M300.99 200.5h0.53M306.49 203h0.53M303.49 204h0.53" stroke="#ffb500"/><path d="M305.99 175h0.53M303.49 195h0.53M300.49 199.5h0.53M303.99 202.5h0.53M298.99 203h0.53M302.49 207h0.53" stroke="#ff9300"/><path d="M304.99 195.5h0.53M301.49 217h0.53" stroke="#ff6b00"/><path d="M304.49 186h0.53M303.99 189h0.53M303.49 190h0.53M302.99 195h0.53M304.49 195h0.53M303.49 198.5h0.53M301.99 199h0.53M302.49 201h0.53M304.99 203.5h0.53M305.99 211h0.53" stroke="#ff3f00"/><path d="M308.49 183h0.53M303.49 200.5h0.53M302.99 208.5h0.53" stroke="#fe1700"/><path d="M306.99 178h0.53M302.49 188.5h0.53M304.49 189.5h0.53M302.49 190h0.53M304.49 194.5h0.53M302.49 196.5h0.53M303.99 196.5h0.53M299.49 197h0.53M300.49 197h0.53M303.99 197.5h0.53M303.99 199h0.53M305.99 199.5h0.53M299.99 200h0.53M301.99 200h0.53M301.49 203h0.53M302.99 203h0.53M301.99 210h0.53" stroke="#f50800"/></g>
<polygon points="308.2,167.35 287.8,178.25 284.5,200.75 286,245.15 303.3,247.35 312.5,223.45 321.5,186.15" fill="none" stroke="#1e2222" stroke-width="0.85" stroke-linejoin="round"/>
<rect x="256.6" y="150" width="102.7" height="101.65" fill="none" stroke="#000" stroke-width="1.3"/>
<path d="M252.8 154.2h3.3M254.1 158.092h2M254.1 161.984h2M254.1 165.876h2M254.1 169.768h2M252.8 173.66h3.3M254.1 177.552h2M254.1 181.444h2M254.1 185.336h2M254.1 189.228h2M252.8 193.12h3.3M254.1 197.012h2M254.1 200.904h2M254.1 204.796h2M254.1 208.688h2M252.8 212.58h3.3M254.1 216.472h2M254.1 220.364h2M254.1 224.256h2M254.1 228.148h2M252.8 232.04h3.3M254.1 235.932h2M254.1 239.824h2M254.1 243.716h2M254.1 247.608h2M252.8 251.5h3.3" stroke="#000" stroke-width="1" fill="none"/>
<text x="250.4" y="156.9" font-size="7.5" text-anchor="end">250K</text>
<text x="250.4" y="176.36" font-size="7.5" text-anchor="end">200K</text>
<text x="250.4" y="195.82" font-size="7.5" text-anchor="end">150K</text>
<text x="250.4" y="215.28" font-size="7.5" text-anchor="end">100K</text>
<text x="250.4" y="234.74" font-size="7.5" text-anchor="end">50K</text>
<text x="250.4" y="254.2" font-size="7.5" text-anchor="end">0</text>
<path d="M262.3 252.05v3.4M296.1 252.05v3.4M324.9 252.05v3.4M348.8 252.05v3.4M277.5 252.05v3.1M278.5 252.05v3.1M279.5 252.05v3.1" stroke="#000" stroke-width="1" fill="none"/>
<path d="M304.77 252.05v2.1M309.841 252.05v2.1M313.439 252.05v2.1M316.23 252.05v2.1M318.511 252.05v2.1M320.439 252.05v2.1M322.109 252.05v2.1M323.582 252.05v2.1M332.095 252.05v2.1M336.303 252.05v2.1M339.289 252.05v2.1M341.605 252.05v2.1M343.498 252.05v2.1M345.098 252.05v2.1M346.484 252.05v2.1M347.706 252.05v2.1M356.1 252.05v2.1M263.4 252.05v2.1M264.6 252.05v2.1M265.7 252.05v2.1M266.7 252.05v2.1M267.6 252.05v2.1M268.5 252.05v2.1M269.4 252.05v2.1M270.3 252.05v2.1M271.4 252.05v2.1M272.6 252.05v2.1M274 252.05v2.1M275.5 252.05v2.1M281.2 252.05v2.1M282.4 252.05v2.1M283.6 252.05v2.1M284.8 252.05v2.1M286 252.05v2.1M287.2 252.05v2.1M288.4 252.05v2.1M289.6 252.05v2.1M290.8 252.05v2.1M292 252.05v2.1M293.2 252.05v2.1M294.5 252.05v2.1" stroke="#000" stroke-width="0.85" fill="none"/>
<text transform="translate(264.1 263.65) scale(1.15 1)" font-size="6.8" text-anchor="middle">−10<tspan font-size="4.7" dy="-2.8">3</tspan></text>
<text transform="translate(281.4 263.65) scale(1.15 1)" font-size="6.8" text-anchor="middle">0</text>
<text transform="translate(299.3 263.65) scale(1.15 1)" font-size="6.8" text-anchor="middle">10<tspan font-size="4.7" dy="-2.8">3</tspan></text>
<text transform="translate(326.6 263.65) scale(1.15 1)" font-size="6.8" text-anchor="middle">10<tspan font-size="4.7" dy="-2.8">4</tspan></text>
<text transform="translate(353.2 263.65) scale(1.15 1)" font-size="6.8" text-anchor="middle">10<tspan font-size="4.7" dy="-2.8">5</tspan></text>
<text x="266.8" y="164.95" font-size="7.1">96.4%</text>
<text transform="translate(226.5 200.75) rotate(-90) scale(0.735 1)" font-size="7.6" text-anchor="middle" style="stroke-width:.42px">SSC-A</text>
</g>
<text x="154" y="15.8" font-size="8.8" text-anchor="middle">No cytokine</text>
<text x="263.6" y="14.2" font-size="8.7">IL-7 &amp; IL-33 <tspan font-size="6.85" dx="0.9" style="stroke-width:.08px">(10ng/ml ea.)</tspan></text>
<text x="27" y="77" font-size="8.8">No Dex</text>
<text x="7" y="192" font-size="8.8" word-spacing="0.6" letter-spacing="0.12">Dex + 10nM</text>
<text transform="translate(153.9 275.6) rotate(0) scale(0.755 1)" font-size="8" text-anchor="middle" style="stroke-width:.42px">Live/Dead</text>
<path d="M177.5 272.75H314" stroke="#000" stroke-width="1.2" fill="none"/>
<path d="M312.3 269.7L324 272.75L312.3 275.8Z" fill="#000"/>
<rect x="424.6" y="99.1" width="13.4" height="75.65" fill="#e7627f" stroke="#dc4c6d" stroke-width="0.6"/>
<rect x="447" y="118.5" width="13.4" height="56.25" fill="#7a98d8" stroke="#6f8fd6" stroke-width="0.6"/>
<rect x="469" y="77.6" width="13.5" height="97.15" fill="#9dff7f" stroke="#96f878" stroke-width="0.6"/>
<rect x="491.3" y="79.4" width="13.3" height="95.35" fill="#896ad0" stroke="#8263ca" stroke-width="0.6"/>
<path d="M431.4 81.3V115.6M427.7 81.3h7.4M427.7 115.6h7.4" stroke="#000" stroke-width="1.05" fill="none"/>
<path d="M453.7 102.5V133.5M450 102.5h7.4M450 133.5h7.4" stroke="#000" stroke-width="1.05" fill="none"/>
<path d="M475.7 75.9V77.4M473.9 75.9h3.6M473.9 77.4h3.6" stroke="#000" stroke-width="1.05" fill="none"/>
<path d="M498 77.2V78.8M496.2 77.2h3.6M496.2 78.8h3.6" stroke="#000" stroke-width="1.05" fill="none"/>
<path d="M416.9 65.4V174.75H513.2" stroke="#000" stroke-width="1.5" stroke-linejoin="miter" fill="none"/>
<path d="M416.9 174.75h-3.8M416.9 125.05h-3.8M416.9 75.35h-3.8M431.5 174.75v3.9M453.6 174.75v3.9M475.6 174.75v3.9M497.7 174.75v3.9" stroke="#000" stroke-width="1.2" fill="none"/>
<text x="410.1" y="177.95" font-size="7.4" text-anchor="end">0</text>
<text x="410.1" y="128.25" font-size="7.4" text-anchor="end">50</text>
<text x="410.1" y="78.55" font-size="7.4" text-anchor="end">100</text>
<circle cx="426.3" cy="85.6" r="2.2" fill="#d4001a"/>
<circle cx="436.5" cy="85.6" r="2.2" fill="#d4001a"/>
<circle cx="431.3" cy="100.6" r="2.2" fill="#d4001a"/>
<circle cx="431.5" cy="122.5" r="2.2" fill="#d4001a"/>
<rect x="451.65" y="98.9" width="4.2" height="4.2" fill="#0a2fc4"/>
<rect x="451.65" y="109.2" width="4.2" height="4.2" fill="#0a2fc4"/>
<rect x="451.65" y="120.8" width="4.2" height="4.2" fill="#0a2fc4"/>
<rect x="451.65" y="135.2" width="4.2" height="4.2" fill="#0a2fc4"/>
<path d="M470.3 76.9l2.4 4.2h-4.8z" fill="#27e800"/>
<path d="M474.4 74l2.4 4.2h-4.8z" fill="#27e800"/>
<path d="M478.1 74l2.4 4.2h-4.8z" fill="#27e800"/>
<path d="M481 74l2.4 4.2h-4.8z" fill="#27e800"/>
<path d="M492.5 82.05l2.4 -4.2h-4.8z" fill="#1d0fa3"/>
<path d="M496 79.55l2.4 -4.2h-4.8z" fill="#1d0fa3"/>
<path d="M499.4 81.7l2.4 -4.2h-4.8z" fill="#1d0fa3"/>
<path d="M503.1 80.3l2.4 -4.2h-4.8z" fill="#1d0fa3"/>
<path d="M452.2 63.1H496M452.2 71.5H475.7" stroke="#2a2a2a" stroke-width="1.3" fill="none"/>
<text x="463.5" y="71.8" font-size="9.6" text-anchor="middle" font-weight="bold">**</text>
<text x="481.9" y="63" font-size="9.6" text-anchor="middle" font-weight="bold">**</text>
<text transform="translate(435.9 184.2) rotate(-45)" font-size="7.3" text-anchor="end">Untreated</text>
<text transform="translate(458 184.2) rotate(-45)" font-size="7.3" text-anchor="end">Dex only</text>
<text transform="translate(480 184.2) rotate(-45)" font-size="7.3" text-anchor="end">Cytokine only</text>
<text transform="translate(502.1 184.2) rotate(-45)" font-size="7.3" text-anchor="end">Cytokine + Dex</text>
<text transform="translate(392.3 120.2) rotate(-90) scale(0.84 1)" font-size="7.6" text-anchor="middle" style="stroke-width:.42px">% live</text>
<rect x="0.5" y="0.5" width="519" height="284" fill="none" stroke="#000" stroke-width="1"/>
</svg>
</body></html>
